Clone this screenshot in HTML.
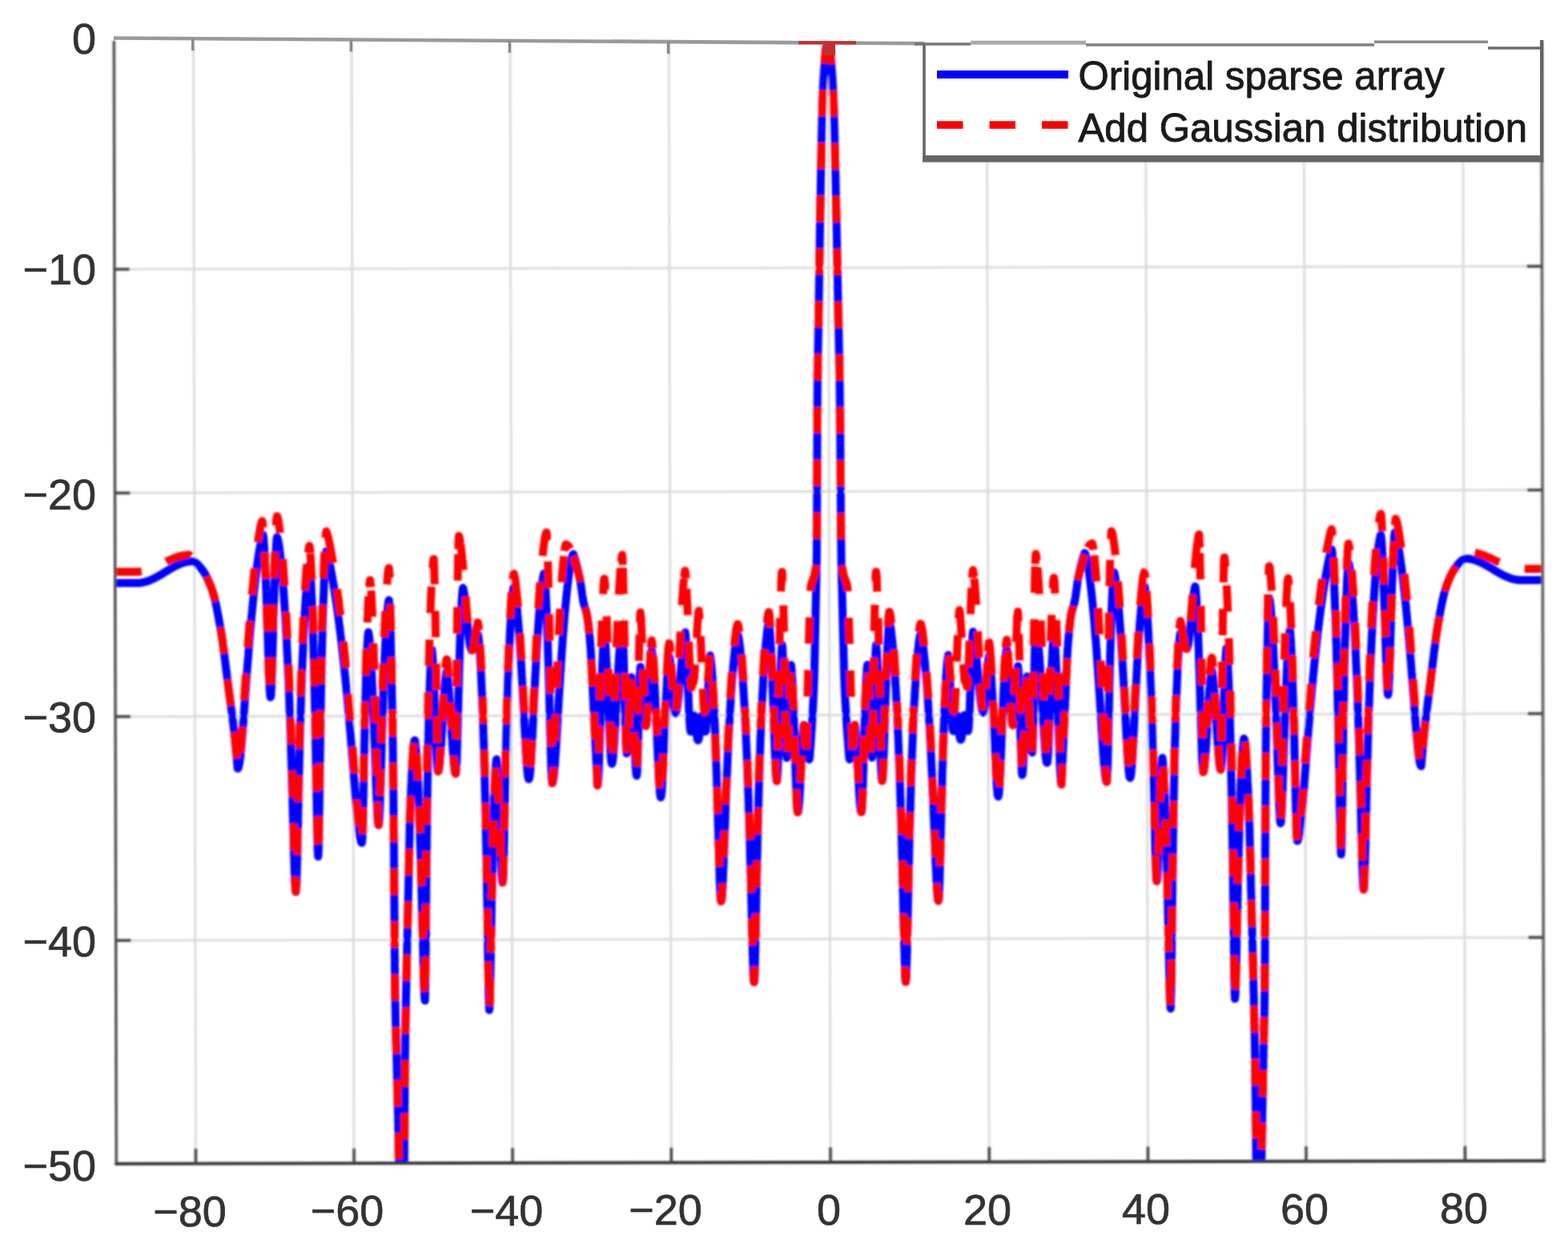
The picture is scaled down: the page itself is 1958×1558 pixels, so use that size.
<!DOCTYPE html>
<html lang="en"><head><meta charset="utf-8"><title>Array pattern</title>
<style>html,body{margin:0;padding:0;background:#fff}svg{display:block}</style></head>
<body>
<svg width="1958" height="1558" viewBox="0 0 1958 1558">
<rect width="1958" height="1558" fill="#fff"/>
<defs><filter id="soft" x="-0.02" y="-0.02" width="1.04" height="1.04"><feGaussianBlur stdDeviation="0.9"/></filter><clipPath id="cp"><rect x="143.8" y="52.0" width="1782.6" height="1399.0"/></clipPath></defs>
<g transform="rotate(-0.12 1035 750)" filter="url(#soft)">
<g stroke="#dcdcdc" stroke-width="3" fill="none">
<line x1="243.0" y1="53.0" x2="243.0" y2="1451.0"/>
<line x1="440.6" y1="53.0" x2="440.6" y2="1451.0"/>
<line x1="638.6" y1="53.0" x2="638.6" y2="1451.0"/>
<line x1="836.8" y1="53.0" x2="836.8" y2="1451.0"/>
<line x1="1035.6" y1="53.0" x2="1035.6" y2="1451.0"/>
<line x1="1233.8" y1="53.0" x2="1233.8" y2="1451.0"/>
<line x1="1432.0" y1="53.0" x2="1432.0" y2="1451.0"/>
<line x1="1629.6" y1="53.0" x2="1629.6" y2="1451.0"/>
<line x1="1828.0" y1="53.0" x2="1828.0" y2="1451.0"/>
<line x1="143.8" y1="334.3" x2="1926.4" y2="334.3"/>
<line x1="143.8" y1="613.6" x2="1926.4" y2="613.6"/>
<line x1="143.8" y1="892.7" x2="1926.4" y2="892.7"/>
<line x1="143.8" y1="1172.2" x2="1926.4" y2="1172.2"/>
</g>
<g clip-path="url(#cp)" fill="none" stroke-linejoin="round">
<path d="M144.0,726.0L145.0,726.0L145.9,726.0L146.9,726.0L147.9,726.0L148.9,726.0L149.8,726.0L150.8,726.0L151.8,726.0L152.7,726.0L153.7,726.0L154.7,726.0L155.7,726.0L156.6,726.0L157.6,726.0L158.6,726.0L159.5,726.0L160.5,726.0L161.5,726.0L162.4,726.0L163.4,726.0L164.4,726.0L165.4,726.0L166.3,726.0L167.3,726.0L168.3,726.0L169.2,726.0L170.2,726.0L171.2,726.0L172.2,726.0L173.1,725.9L174.1,725.9L175.1,725.8L176.0,725.7L177.0,725.5L178.0,725.4L179.0,725.2L179.9,725.0L180.9,724.7L181.9,724.5L182.8,724.2L183.8,723.9L184.8,723.6L185.8,723.2L186.7,722.8L187.7,722.5L188.7,722.0L189.6,721.6L190.6,721.2L191.6,720.7L192.5,720.2L193.5,719.8L194.5,719.2L195.5,718.7L196.4,718.2L197.4,717.7L198.4,717.1L199.3,716.6L200.3,716.0L201.3,715.4L202.3,714.8L203.2,714.3L204.2,713.7L205.2,713.1L206.1,712.5L207.1,711.9L208.1,711.3L209.1,710.7L210.0,710.2L211.0,709.6L212.0,709.0L212.9,708.4L213.9,707.9L214.9,707.3L215.9,706.8L216.8,706.3L217.8,705.8L218.8,705.2L219.7,704.8L220.7,704.3L221.7,703.8L222.7,703.4L223.6,703.0L224.6,702.5L225.6,702.2L226.5,701.8L227.5,701.4L228.5,701.1L229.4,700.8L230.4,700.5L231.4,700.3L232.4,700.0L233.3,699.8L234.3,699.6L235.3,699.5L236.2,699.3L237.2,699.2L238.2,699.1L239.2,699.1L240.1,699.0L241.1,699.0L241.3,699.1L241.4,699.1L241.6,699.2L241.8,699.3L241.9,699.3L242.1,699.4L242.3,699.5L242.4,699.6L242.6,699.7L242.8,699.8L242.9,699.9L243.1,700.0L243.3,700.1L243.4,700.2L243.6,700.3L243.8,700.4L243.9,700.5L244.1,700.6L244.3,700.7L244.4,700.9L244.6,701.0L244.8,701.1L244.9,701.2L245.1,701.4L245.3,701.5L245.4,701.7L245.6,701.8L245.8,701.9L245.9,702.1L246.1,702.2L246.3,702.4L246.4,702.6L246.6,702.7L246.8,702.9L246.9,703.0L247.1,703.2L247.3,703.4L247.4,703.5L247.6,703.7L247.8,703.9L247.9,704.1L248.1,704.2L248.3,704.4L248.4,704.6L248.6,704.8L248.8,705.0L248.9,705.2L249.1,705.4L249.3,705.5L249.4,705.7L249.6,705.9L249.8,706.1L249.9,706.3L250.1,706.5L250.3,706.7L250.4,706.9L250.6,707.1L250.8,707.3L250.9,707.6L251.1,707.8L251.3,708.0L251.4,708.2L251.6,708.4L251.8,708.6L251.9,708.8L252.1,709.0L252.3,709.3L252.4,709.5L252.6,709.7L252.8,709.9L252.9,710.1L253.1,710.3L253.3,710.6L253.4,710.8L253.6,711.0L253.8,711.2L253.9,711.5L254.1,711.7L254.3,711.9L254.4,712.2L254.6,712.4L254.8,712.7L254.9,712.9L255.1,713.2L255.3,713.4L255.4,713.7L255.6,714.0L255.8,714.2L255.9,714.5L256.1,714.8L256.3,715.1L256.4,715.3L256.6,715.6L256.8,715.9L256.9,716.2L257.1,716.5L257.3,716.8L257.4,717.1L257.6,717.4L257.8,717.8L257.9,718.1L258.1,718.4L258.3,718.7L258.4,719.1L258.6,719.4L258.8,719.7L258.9,720.1L259.1,720.4L259.3,720.8L259.4,721.1L259.6,721.5L259.8,721.9L259.9,722.2L260.1,722.6L260.3,723.0L260.4,723.3L260.6,723.7L260.8,724.1L260.9,724.5L261.1,724.9L261.3,725.3L261.4,725.7L261.6,726.1L261.8,726.5L261.9,726.9L262.1,727.3L262.3,727.8L262.4,728.2L262.6,728.6L262.8,729.1L262.9,729.5L263.1,729.9L263.3,730.4L263.4,730.8L263.6,731.3L263.8,731.7L263.9,732.2L264.1,732.7L264.3,733.1L264.4,733.6L264.6,734.1L264.8,734.6L264.9,735.1L265.1,735.6L265.3,736.0L265.4,736.5L265.6,737.0L265.8,737.6L265.9,738.1L266.1,738.6L266.3,739.2L266.4,739.7L266.6,740.3L266.8,740.9L266.9,741.5L267.1,742.1L267.3,742.7L267.4,743.4L267.6,744.0L267.8,744.7L267.9,745.4L268.1,746.1L268.3,746.7L268.4,747.5L268.6,748.2L268.8,748.9L269.0,749.6L269.1,750.4L269.3,751.1L269.5,751.9L269.6,752.7L269.8,753.5L270.0,754.2L270.1,755.0L270.3,755.9L270.5,756.7L270.6,757.5L270.8,758.3L271.0,759.2L271.1,760.0L271.3,760.9L271.5,761.7L271.6,762.6L271.8,763.5L272.0,764.4L272.1,765.3L272.3,766.2L272.5,767.1L272.6,768.0L272.8,768.9L273.0,769.8L273.1,770.7L273.3,771.7L273.5,772.6L273.6,773.5L273.8,774.5L274.0,775.4L274.1,776.4L274.3,777.3L274.5,778.3L274.6,779.3L274.8,780.2L275.0,781.2L275.1,782.2L275.3,783.2L275.5,784.1L275.6,785.1L275.8,786.1L276.0,787.1L276.1,788.2L276.3,789.2L276.5,790.3L276.6,791.4L276.8,792.5L277.0,793.6L277.1,794.7L277.3,795.8L277.5,797.0L277.6,798.2L277.8,799.3L278.0,800.5L278.1,801.7L278.3,803.0L278.5,804.2L278.6,805.4L278.8,806.7L279.0,807.9L279.1,809.2L279.3,810.5L279.5,811.8L279.6,813.1L279.8,814.4L280.0,815.7L280.1,817.0L280.3,818.3L280.5,819.7L280.6,821.0L280.8,822.4L281.0,823.7L281.1,825.1L281.3,826.4L281.5,827.8L281.6,829.1L281.8,830.5L282.0,831.8L282.1,833.2L282.3,834.6L282.5,835.9L282.6,837.3L282.8,838.7L283.0,840.0L283.1,841.4L283.3,842.7L283.5,844.1L283.6,845.5L283.8,846.8L284.0,848.1L284.1,849.5L284.3,850.8L284.5,852.2L284.6,853.5L284.8,854.8L285.0,856.1L285.1,857.4L285.3,858.7L285.5,860.0L285.6,861.3L285.8,862.6L286.0,863.8L286.1,865.1L286.3,866.4L286.5,867.6L286.6,868.9L286.8,870.1L287.0,871.4L287.1,872.6L287.3,873.9L287.5,875.1L287.6,876.4L287.8,877.6L288.0,878.9L288.1,880.1L288.3,881.4L288.5,882.6L288.6,883.9L288.8,885.2L289.0,886.4L289.1,887.7L289.3,889.0L289.5,890.3L289.6,891.6L289.8,892.9L290.0,894.3L290.1,895.6L290.3,896.9L290.5,898.3L290.6,899.7L290.8,901.0L291.0,902.4L291.1,903.8L291.3,905.3L291.5,906.7L291.6,908.2L291.8,909.6L292.0,911.1L292.1,912.6L292.3,914.2L292.5,915.7L292.6,917.3L292.8,918.9L293.0,920.5L293.1,922.2L293.3,923.9L293.5,925.6L293.6,927.3L293.8,929.1L294.0,930.9L294.1,932.7L294.3,934.6L294.5,936.4L294.6,938.3L294.8,940.2L295.0,942.1L295.1,944.1L295.3,946.0L295.5,948.0L295.6,950.0L295.8,952.0L296.0,954.0L296.1,956.0L296.3,958.0L296.6,957.8L297.0,957.4L297.3,956.6L297.6,955.6L298.0,954.2L298.3,952.6L298.7,950.6L299.0,948.4L299.3,946.0L299.7,943.3L300.0,940.4L300.3,937.3L300.7,933.9L301.0,930.4L301.3,926.8L301.7,923.0L302.0,919.0L302.4,915.0L302.7,910.8L303.0,906.6L303.4,902.3L303.7,897.9L304.0,893.5L304.4,889.0L304.7,884.5L305.0,880.0L305.4,875.5L305.7,870.9L306.1,866.4L306.4,861.9L306.7,857.4L307.1,852.9L307.4,848.4L307.7,844.0L308.1,839.6L308.4,835.2L308.7,830.9L309.1,826.5L309.4,822.3L309.8,818.1L310.1,813.9L310.4,809.8L310.8,805.7L311.1,801.6L311.4,797.7L311.8,793.7L312.1,789.8L312.4,786.0L312.8,782.2L313.1,778.5L313.5,774.8L313.8,771.2L314.1,767.6L314.5,764.0L314.8,760.6L315.1,757.1L315.5,753.8L315.8,750.4L316.2,747.2L316.5,743.9L316.8,740.8L317.2,737.7L317.5,734.6L317.8,731.6L318.2,728.6L318.5,725.7L318.8,722.9L319.2,720.0L319.5,717.3L319.9,714.6L320.2,711.9L320.5,709.3L320.9,706.8L321.2,704.3L321.5,701.9L321.9,699.5L322.2,697.1L322.5,694.9L322.9,692.6L323.2,690.5L323.6,688.4L323.9,686.3L324.2,684.3L324.6,682.4L324.9,680.5L325.2,678.8L325.6,677.0L325.9,675.4L326.2,673.8L326.6,672.3L326.9,670.9L327.3,669.6L327.6,668.5L327.9,667.4L328.3,666.5L328.6,666.0L328.9,667.7L329.3,670.9L329.6,675.1L329.9,680.0L330.3,685.7L330.6,691.9L330.9,698.8L331.3,706.3L331.6,714.3L331.9,722.8L332.3,731.9L332.6,741.4L332.9,751.3L333.3,761.6L333.6,772.2L333.9,783.0L334.3,794.1L334.6,805.1L334.9,816.0L335.3,826.5L335.6,836.5L335.9,845.6L336.3,853.6L336.6,860.1L336.9,865.0L337.3,868.0L337.6,869.0L337.9,867.9L338.3,864.5L338.6,859.0L339.0,851.7L339.3,842.8L339.6,832.7L340.0,821.9L340.3,810.5L340.7,798.8L341.0,787.1L341.3,775.5L341.7,764.1L342.0,753.2L342.4,742.6L342.7,732.5L343.0,723.0L343.4,714.1L343.7,705.7L344.1,698.0L344.4,691.0L344.7,684.6L345.1,679.1L345.4,674.5L345.8,670.9L346.1,669.0L346.4,669.5L346.8,670.5L347.1,671.8L347.4,673.3L347.8,675.0L348.1,676.9L348.5,679.0L348.8,681.2L349.1,683.6L349.5,686.2L349.8,688.9L350.1,691.8L350.5,694.8L350.8,697.9L351.1,701.2L351.5,704.7L351.8,708.2L352.1,712.0L352.5,715.8L352.8,719.8L353.2,724.0L353.5,728.3L353.8,732.7L354.2,737.4L354.5,742.1L354.8,747.0L355.2,752.1L355.5,757.4L355.8,762.8L356.2,768.4L356.5,774.2L356.8,780.2L357.2,786.4L357.5,792.8L357.9,799.4L358.2,806.2L358.5,813.2L358.9,820.5L359.2,828.0L359.5,835.8L359.9,843.8L360.2,852.1L360.5,860.7L360.9,869.6L361.2,878.8L361.5,888.4L361.9,898.3L362.2,908.5L362.6,919.1L362.9,930.1L363.2,941.4L363.6,953.1L363.9,965.2L364.2,977.7L364.6,990.4L364.9,1003.5L365.2,1016.7L365.6,1030.1L365.9,1043.4L366.2,1056.5L366.6,1069.0L366.9,1080.7L367.3,1091.1L367.6,1099.8L367.9,1106.5L368.3,1110.6L368.6,1112.0L368.9,1110.4L369.3,1105.7L369.6,1098.2L369.9,1088.3L370.3,1076.7L370.6,1063.8L370.9,1050.0L371.3,1035.9L371.6,1021.6L371.9,1007.3L372.3,993.3L372.6,979.6L372.9,966.2L373.3,953.3L373.6,940.8L373.9,928.8L374.3,917.1L374.6,906.0L374.9,895.2L375.3,884.9L375.6,874.9L375.9,865.4L376.3,856.2L376.6,847.3L376.9,838.8L377.3,830.6L377.6,822.7L377.9,815.2L378.3,807.9L378.6,800.8L378.9,794.1L379.3,787.6L379.6,781.3L379.9,775.3L380.3,769.6L380.6,764.1L380.9,758.8L381.3,753.7L381.6,748.8L381.9,744.2L382.3,739.7L382.6,735.5L382.9,731.5L383.3,727.7L383.6,724.2L383.9,720.8L384.3,717.7L384.6,714.9L384.9,712.2L385.3,709.9L385.6,707.8L385.9,706.1L386.3,704.7L386.6,704.0L386.9,705.7L387.3,708.9L387.6,713.1L387.9,718.1L388.3,723.8L388.6,730.3L388.9,737.4L389.3,745.2L389.6,753.7L389.9,762.8L390.3,772.7L390.6,783.3L390.9,794.6L391.3,806.7L391.6,819.6L391.9,833.4L392.3,848.1L392.6,863.8L392.9,880.4L393.3,898.1L393.6,916.8L393.9,936.5L394.3,957.0L394.6,978.2L394.9,999.5L395.3,1020.2L395.6,1039.0L395.9,1054.3L396.3,1064.5L396.6,1068.0L396.9,1064.6L397.3,1054.9L397.6,1040.1L397.9,1021.9L398.3,1001.9L398.6,981.1L398.9,960.3L399.3,940.0L399.6,920.6L399.9,902.0L400.3,884.4L400.6,867.8L400.9,852.1L401.3,837.3L401.6,823.3L401.9,810.2L402.3,797.9L402.6,786.2L402.9,775.3L403.3,765.0L403.6,755.4L403.9,746.4L404.3,737.9L404.6,730.1L404.9,722.8L405.3,716.0L405.6,709.9L405.9,704.3L406.3,699.3L406.6,694.9L406.9,691.3L407.3,688.5L407.6,687.0L407.9,687.7L408.3,688.6L408.6,689.6L408.9,690.8L409.3,692.0L409.6,693.3L409.9,694.6L410.3,696.0L410.6,697.4L410.9,698.9L411.3,700.4L411.6,702.0L411.9,703.6L412.3,705.2L412.6,706.8L412.9,708.5L413.3,710.3L413.6,712.0L413.9,713.8L414.3,715.7L414.6,717.5L414.9,719.4L415.3,721.3L415.6,723.3L415.9,725.2L416.3,727.2L416.6,729.3L416.9,731.3L417.3,733.4L417.6,735.5L417.9,737.7L418.3,739.9L418.6,742.1L418.9,744.3L419.3,746.6L419.6,748.8L419.9,751.2L420.3,753.5L420.6,755.9L420.9,758.3L421.3,760.7L421.6,763.2L421.9,765.7L422.3,768.2L422.6,770.7L422.9,773.3L423.3,775.9L423.6,778.5L423.9,781.2L424.3,783.9L424.6,786.6L424.9,789.4L425.3,792.2L425.6,795.0L425.9,797.9L426.3,800.7L426.6,803.7L426.9,806.6L427.3,809.6L427.6,812.6L427.9,815.7L428.3,818.7L428.6,821.9L428.9,825.0L429.3,828.2L429.6,831.4L430.0,834.7L430.3,838.0L430.6,841.3L431.0,844.7L431.3,848.1L431.6,851.5L432.0,855.0L432.3,858.5L432.6,862.0L433.0,865.6L433.3,869.2L433.6,872.9L434.0,876.5L434.3,880.3L434.6,884.0L435.0,887.8L435.3,891.7L435.6,895.5L436.0,899.4L436.3,903.4L436.6,907.3L437.0,911.3L437.3,915.4L437.6,919.4L438.0,923.5L438.3,927.6L438.6,931.7L439.0,935.9L439.3,940.1L439.6,944.3L440.0,948.5L440.3,952.7L440.6,956.9L441.0,961.2L441.3,965.4L441.6,969.6L442.0,973.9L442.3,978.1L442.6,982.2L443.0,986.4L443.3,990.5L443.6,994.5L444.0,998.5L444.3,1002.5L444.6,1006.3L445.0,1010.1L445.3,1013.8L445.6,1017.4L446.0,1020.9L446.3,1024.2L446.6,1027.4L447.0,1030.4L447.3,1033.3L447.6,1036.0L448.0,1038.5L448.3,1040.8L448.6,1042.9L449.0,1044.8L449.3,1046.4L449.6,1047.8L450.0,1048.9L450.3,1049.8L450.6,1050.5L451.0,1050.9L451.3,1051.0L451.6,1048.9L452.0,1042.8L452.3,1033.2L452.7,1020.7L453.0,1006.4L453.4,990.8L453.7,974.7L454.1,958.5L454.4,942.6L454.7,927.1L455.1,912.2L455.4,897.9L455.8,884.5L456.1,871.8L456.5,859.9L456.8,848.8L457.1,838.4L457.5,828.9L457.8,820.2L458.2,812.3L458.5,805.3L458.9,799.1L459.2,794.0L459.6,790.1L459.9,788.0L460.2,789.2L460.6,791.4L460.9,794.3L461.3,797.7L461.6,801.5L461.9,805.9L462.3,810.6L462.6,815.8L462.9,821.3L463.3,827.2L463.6,833.4L464.0,840.1L464.3,847.0L464.6,854.4L465.0,862.0L465.3,870.0L465.7,878.4L466.0,887.0L466.3,896.0L466.7,905.2L467.0,914.7L467.4,924.5L467.7,934.4L468.0,944.4L468.4,954.6L468.7,964.6L469.0,974.6L469.4,984.2L469.7,993.4L470.1,1001.9L470.4,1009.6L470.7,1016.3L471.1,1021.7L471.4,1025.7L471.8,1028.2L472.1,1029.0L472.4,1028.0L472.8,1025.2L473.1,1020.5L473.4,1014.2L473.8,1006.6L474.1,997.8L474.5,988.1L474.8,977.8L475.1,967.1L475.5,956.2L475.8,945.1L476.1,934.1L476.5,923.2L476.8,912.5L477.2,902.0L477.5,891.8L477.8,881.9L478.2,872.3L478.5,863.0L478.8,854.0L479.2,845.4L479.5,837.2L479.9,829.2L480.2,821.6L480.5,814.4L480.9,807.4L481.2,800.8L481.5,794.6L481.9,788.6L482.2,783.0L482.6,777.7L482.9,772.8L483.2,768.2L483.6,763.9L483.9,760.1L484.2,756.6L484.6,753.6L484.9,751.0L485.3,749.1L485.6,748.0L485.8,748.3L485.9,749.3L486.1,750.9L486.3,753.0L486.4,755.8L486.6,759.1L486.8,762.9L486.9,767.2L487.1,772.0L487.3,777.3L487.4,783.0L487.6,789.2L487.8,795.7L487.9,802.7L488.1,809.9L488.3,817.6L488.4,825.5L488.6,833.8L488.8,842.3L488.9,851.1L489.1,860.1L489.3,869.3L489.4,878.7L489.6,888.3L489.8,898.0L489.9,908.8L490.1,922.2L490.3,937.8L490.4,955.4L490.6,974.5L490.8,994.7L490.9,1015.7L491.1,1037.0L491.3,1061.5L491.4,1090.9L491.6,1122.7L491.8,1154.7L491.9,1184.7L492.1,1210.3L492.3,1229.2L492.4,1241.8L492.6,1252.7L492.8,1262.2L492.9,1270.6L493.1,1278.2L493.3,1285.2L493.4,1291.8L493.6,1298.3L493.8,1305.1L493.9,1312.2L494.1,1320.0L494.3,1328.1L494.4,1335.9L494.6,1343.5L494.8,1351.0L494.9,1358.4L495.1,1365.8L495.3,1373.3L495.4,1380.8L495.6,1388.6L495.8,1396.5L495.9,1404.8L496.1,1413.4L496.3,1422.5L496.4,1432.0L496.6,1442.1L496.8,1452.8L496.9,1464.2L497.1,1475.0L497.3,1475.0L497.4,1475.0L497.6,1475.0L497.8,1475.0L497.9,1475.0L498.1,1475.0L498.3,1475.0L498.4,1475.0L498.6,1475.0L498.8,1475.0L498.9,1475.0L499.1,1475.0L499.3,1475.0L499.4,1475.0L499.6,1475.0L499.8,1475.0L499.9,1475.0L500.1,1475.0L500.3,1475.0L500.4,1475.0L500.6,1475.0L500.8,1475.0L500.9,1475.0L501.1,1475.0L501.3,1475.0L501.4,1475.0L501.6,1475.0L501.8,1475.0L501.9,1475.0L502.1,1475.0L502.3,1475.0L502.4,1475.0L502.6,1475.0L502.8,1475.0L502.9,1475.0L503.1,1475.0L503.3,1458.5L503.4,1440.6L503.6,1421.8L503.8,1402.7L503.9,1383.8L504.1,1365.5L504.3,1348.5L504.4,1333.1L504.6,1320.0L504.8,1308.7L504.9,1298.3L505.1,1288.8L505.3,1279.8L505.4,1271.4L505.6,1263.4L505.8,1255.6L505.9,1247.8L506.1,1240.0L506.3,1232.2L506.4,1224.6L506.6,1217.1L506.8,1209.8L506.9,1202.7L507.1,1195.6L507.3,1188.7L507.4,1181.9L507.6,1175.1L507.8,1168.4L507.9,1161.7L508.1,1155.0L508.3,1148.4L508.4,1141.7L508.6,1135.0L508.8,1128.2L508.9,1121.2L509.1,1114.0L509.3,1106.7L509.4,1099.4L509.6,1092.0L509.8,1084.6L509.9,1077.2L510.1,1069.9L510.3,1062.7L510.4,1055.7L510.6,1048.8L510.8,1042.0L510.9,1035.6L511.1,1029.4L511.3,1023.5L511.4,1018.0L511.6,1012.8L511.8,1008.1L511.9,1003.8L512.1,1000.0L512.3,996.5L512.4,992.9L512.6,989.4L512.8,985.9L512.9,982.5L513.1,979.0L513.3,975.7L513.4,972.3L513.6,969.1L513.8,965.8L513.9,962.7L514.1,959.6L514.3,956.6L514.4,953.7L514.6,950.9L514.8,948.2L514.9,945.6L515.1,943.1L515.3,940.7L515.4,938.4L515.6,936.3L515.8,934.3L515.9,932.4L516.1,930.7L516.3,929.2L516.4,927.8L516.6,926.5L516.8,925.5L516.9,924.6L517.1,923.9L517.3,923.4L517.4,923.1L517.6,923.0L517.9,924.3L518.3,926.7L518.6,929.8L518.9,933.5L519.3,937.7L519.6,942.4L519.9,947.6L520.3,953.3L520.6,959.4L520.9,965.9L521.3,972.9L521.6,980.3L521.9,988.2L522.3,996.6L522.6,1005.4L522.9,1014.7L523.3,1024.5L523.6,1034.8L523.9,1045.7L524.3,1057.0L524.6,1068.9L524.9,1081.4L525.3,1094.4L525.6,1107.9L525.9,1121.9L526.3,1136.4L526.6,1151.2L526.9,1166.1L527.3,1181.1L527.6,1195.7L527.9,1209.5L528.3,1222.1L528.6,1232.8L528.9,1241.1L529.3,1246.2L529.6,1248.0L529.9,1240.5L530.3,1220.1L530.6,1192.1L531.0,1161.1L531.3,1130.1L531.6,1100.5L532.0,1072.8L532.3,1047.2L532.7,1023.6L533.0,1001.8L533.3,981.8L533.7,963.3L534.0,946.2L534.3,930.3L534.7,915.7L535.0,902.1L535.4,889.5L535.7,877.9L536.0,867.2L536.4,857.3L536.7,848.3L537.1,840.1L537.4,832.6L537.7,826.1L538.1,820.4L538.4,815.6L538.8,812.0L539.1,810.0L539.4,812.1L539.8,815.9L540.1,820.8L540.5,826.6L540.8,833.3L541.1,840.6L541.5,848.6L541.8,857.1L542.2,866.1L542.5,875.5L542.8,885.2L543.2,895.0L543.5,905.0L543.9,914.8L544.2,924.2L544.6,933.2L544.9,941.3L545.2,948.4L545.6,954.2L545.9,958.5L546.3,961.1L546.6,962.0L546.9,961.7L547.3,960.9L547.6,959.5L547.9,957.5L548.3,955.0L548.6,952.1L548.9,948.6L549.3,944.8L549.6,940.6L549.9,936.0L550.3,931.2L550.6,926.2L550.9,921.0L551.3,915.7L551.6,910.3L551.9,904.9L552.3,899.5L552.6,894.1L552.9,888.8L553.3,883.6L553.6,878.5L553.9,873.5L554.3,868.8L554.6,864.2L554.9,859.8L555.3,855.7L555.6,851.9L555.9,848.3L556.3,845.1L556.6,842.3L556.9,839.9L557.3,838.0L557.6,837.0L557.9,838.0L558.3,839.9L558.6,842.3L558.9,845.2L559.3,848.5L559.6,852.1L559.9,856.0L560.3,860.2L560.6,864.6L560.9,869.3L561.3,874.1L561.6,879.2L561.9,884.4L562.3,889.7L562.6,895.1L562.9,900.6L563.3,906.2L563.6,911.7L563.9,917.2L564.3,922.7L564.6,928.0L564.9,933.2L565.3,938.1L565.6,942.8L565.9,947.2L566.3,951.1L566.6,954.7L566.9,957.8L567.3,960.3L567.6,962.4L567.9,963.8L568.3,964.7L568.6,965.0L568.9,963.8L569.3,960.1L569.6,954.1L570.0,946.2L570.3,936.6L570.6,925.9L571.0,914.2L571.3,902.1L571.7,889.7L572.0,877.3L572.3,865.1L572.7,853.1L573.0,841.4L573.3,830.1L573.7,819.4L574.0,809.1L574.4,799.3L574.7,790.1L575.0,781.4L575.4,773.3L575.7,765.8L576.1,758.9L576.4,752.6L576.7,747.0L577.1,742.0L577.4,737.9L577.8,734.7L578.1,733.0L578.4,733.7L578.8,735.1L579.1,736.9L579.4,738.9L579.8,741.2L580.1,743.8L580.4,746.5L580.8,749.4L581.1,752.4L581.4,755.6L581.8,758.8L582.1,762.1L582.4,765.5L582.8,768.9L583.1,772.3L583.4,775.7L583.8,779.1L584.1,782.4L584.4,785.6L584.8,788.8L585.1,791.8L585.4,794.6L585.8,797.3L586.1,799.8L586.4,802.1L586.8,804.1L587.1,805.9L587.4,807.5L587.8,808.7L588.1,809.7L588.4,810.4L588.8,810.9L589.1,811.0L589.4,810.9L589.8,810.7L590.1,810.4L590.5,810.0L590.8,809.4L591.1,808.7L591.5,807.9L591.8,806.9L592.2,805.9L592.5,804.8L592.8,803.5L593.2,802.3L593.5,801.0L593.9,799.6L594.2,798.2L594.6,796.9L594.9,795.6L595.2,794.4L595.6,793.2L595.9,792.2L596.3,791.4L596.6,791.0L596.9,792.2L597.3,794.4L597.6,797.3L598.0,800.8L598.3,804.7L598.6,809.1L599.0,814.0L599.3,819.3L599.7,825.0L600.0,831.1L600.4,837.7L600.7,844.7L601.0,852.2L601.4,860.1L601.7,868.4L602.1,877.3L602.4,886.7L602.7,896.6L603.1,907.1L603.4,918.3L603.8,930.0L604.1,942.5L604.4,955.7L604.8,969.8L605.1,984.7L605.5,1000.6L605.8,1017.5L606.1,1035.5L606.5,1054.8L606.8,1075.4L607.2,1097.3L607.5,1120.6L607.9,1145.1L608.2,1170.4L608.5,1195.9L608.9,1220.1L609.2,1240.7L609.6,1254.9L609.9,1260.0L610.2,1257.6L610.6,1250.5L610.9,1239.4L611.2,1225.3L611.6,1209.3L611.9,1192.1L612.2,1174.5L612.6,1157.0L612.9,1139.8L613.2,1123.1L613.6,1107.2L613.9,1092.0L614.2,1077.6L614.6,1064.0L614.9,1051.1L615.3,1039.0L615.6,1027.6L615.9,1016.9L616.3,1007.0L616.6,997.7L616.9,989.1L617.3,981.1L617.6,973.9L617.9,967.3L618.3,961.4L618.6,956.3L618.9,952.0L619.3,948.8L619.6,947.0L619.9,949.2L620.3,953.3L620.6,958.7L621.0,965.0L621.3,972.1L621.7,980.1L622.0,988.7L622.4,997.9L622.7,1007.6L623.1,1017.7L623.4,1028.1L623.8,1038.6L624.1,1049.1L624.5,1059.3L624.8,1069.0L625.2,1078.0L625.5,1085.8L625.9,1092.3L626.2,1097.1L626.6,1100.0L626.9,1101.0L627.2,1099.3L627.6,1094.2L627.9,1086.1L628.2,1075.6L628.6,1063.2L628.9,1049.6L629.2,1035.1L629.6,1020.3L629.9,1005.5L630.2,990.8L630.6,976.3L630.9,962.3L631.2,948.7L631.6,935.6L631.9,922.9L632.2,910.8L632.6,899.2L632.9,888.1L633.2,877.4L633.6,867.2L633.9,857.4L634.2,848.0L634.6,839.1L634.9,830.5L635.3,822.3L635.6,814.5L635.9,807.1L636.3,800.0L636.6,793.2L636.9,786.7L637.3,780.6L637.6,774.8L637.9,769.3L638.3,764.1L638.6,759.3L638.9,754.7L639.3,750.5L639.6,746.6L639.9,743.1L640.3,739.9L640.6,737.1L640.9,734.8L641.3,733.0L641.6,732.0L641.9,732.7L642.3,733.8L642.6,735.4L643.0,737.2L643.3,739.3L643.6,741.6L644.0,744.2L644.3,746.9L644.6,749.8L645.0,753.0L645.3,756.3L645.7,759.7L646.0,763.4L646.3,767.2L646.7,771.1L647.0,775.2L647.4,779.5L647.7,784.0L648.0,788.6L648.4,793.3L648.7,798.2L649.1,803.3L649.4,808.5L649.7,813.9L650.1,819.4L650.4,825.0L650.8,830.8L651.1,836.7L651.4,842.8L651.8,849.0L652.1,855.2L652.4,861.6L652.8,868.1L653.1,874.7L653.5,881.3L653.8,888.0L654.1,894.7L654.5,901.4L654.8,908.1L655.2,914.7L655.5,921.2L655.8,927.6L656.2,933.7L656.5,939.6L656.8,945.2L657.2,950.4L657.5,955.1L657.9,959.4L658.2,963.2L658.5,966.3L658.9,968.8L659.2,970.6L659.6,971.6L659.9,972.0L660.2,971.6L660.6,970.6L660.9,968.8L661.2,966.4L661.6,963.3L661.9,959.6L662.2,955.4L662.6,950.7L662.9,945.6L663.2,940.1L663.6,934.3L663.9,928.2L664.2,921.9L664.6,915.5L664.9,909.0L665.2,902.3L665.6,895.7L665.9,889.0L666.2,882.3L666.6,875.7L666.9,869.1L667.2,862.6L667.6,856.2L667.9,849.8L668.2,843.6L668.6,837.5L668.9,831.5L669.2,825.6L669.6,819.9L669.9,814.3L670.3,808.8L670.6,803.4L670.9,798.2L671.3,793.1L671.6,788.2L671.9,783.4L672.3,778.7L672.6,774.2L672.9,769.8L673.3,765.5L673.6,761.4L673.9,757.4L674.3,753.6L674.6,749.9L674.9,746.4L675.3,743.0L675.6,739.8L675.9,736.7L676.3,733.7L676.6,730.9L676.9,728.3L677.3,725.9L677.6,723.6L677.9,721.5L678.3,719.7L678.6,718.0L678.9,716.6L679.3,715.6L679.6,715.0L679.9,716.8L680.3,720.1L680.6,724.4L681.0,729.5L681.3,735.4L681.6,742.0L682.0,749.3L682.3,757.2L682.7,765.7L683.0,774.9L683.3,784.7L683.7,795.2L684.0,806.3L684.3,817.9L684.7,830.2L685.0,843.1L685.4,856.5L685.7,870.4L686.0,884.6L686.4,899.0L686.7,913.3L687.1,927.3L687.4,940.6L687.7,952.6L688.1,962.7L688.4,970.5L688.8,975.4L689.1,977.0L689.4,976.7L689.8,976.0L690.1,974.7L690.4,973.0L690.8,970.8L691.1,968.1L691.5,965.1L691.8,961.6L692.1,957.8L692.5,953.6L692.8,949.2L693.1,944.5L693.5,939.6L693.8,934.5L694.1,929.3L694.5,923.9L694.8,918.4L695.2,912.9L695.5,907.3L695.8,901.6L696.2,896.0L696.5,890.3L696.8,884.7L697.2,879.1L697.5,873.5L697.8,868.0L698.2,862.5L698.5,857.0L698.9,851.7L699.2,846.4L699.5,841.2L699.9,836.0L700.2,830.9L700.5,826.0L700.9,821.1L701.2,816.2L701.5,811.5L701.9,806.8L702.2,802.3L702.5,797.8L702.9,793.4L703.2,789.1L703.6,784.9L703.9,780.8L704.2,776.7L704.6,772.7L704.9,768.9L705.2,765.1L705.6,761.4L705.9,757.8L706.2,754.2L706.6,750.8L706.9,747.4L707.3,744.1L707.6,740.9L707.9,737.8L708.3,734.8L708.6,731.8L708.9,729.0L709.3,726.2L709.6,723.5L709.9,720.9L710.3,718.3L710.6,715.9L711.0,713.6L711.3,711.3L711.6,709.1L712.0,707.0L712.3,705.0L712.6,703.1L713.0,701.3L713.3,699.7L713.6,698.1L714.0,696.6L714.3,695.3L714.7,694.0L715.0,693.0L715.3,692.1L715.7,691.4L716.0,691.0L716.2,691.4L716.3,691.7L716.5,692.1L716.7,692.6L716.8,693.0L717.0,693.4L717.2,693.9L717.3,694.3L717.5,694.8L717.7,695.3L717.8,695.8L718.0,696.4L718.2,696.9L718.3,697.4L718.5,698.0L718.7,698.6L718.8,699.2L719.0,699.8L719.2,700.4L719.3,701.0L719.5,701.6L719.7,702.2L719.8,702.9L720.0,703.5L720.2,704.2L720.3,704.9L720.5,705.6L720.7,706.3L720.8,707.0L721.0,707.7L721.2,708.4L721.4,709.1L721.5,709.9L721.7,710.6L721.9,711.4L722.0,712.1L722.2,712.9L722.4,713.6L722.5,714.4L722.7,715.2L722.9,716.0L723.0,716.8L723.2,717.6L723.4,718.4L723.5,719.2L723.7,720.0L723.9,720.8L724.0,721.6L724.2,722.5L724.4,723.4L724.5,724.3L724.7,725.3L724.9,726.3L725.0,727.4L725.2,728.5L725.4,729.6L725.5,730.7L725.7,731.9L725.9,733.1L726.0,734.3L726.2,735.5L726.4,736.7L726.5,737.9L726.7,739.1L726.9,740.3L727.0,741.5L727.2,742.7L727.4,743.8L727.5,744.9L727.7,746.0L727.9,747.0L728.0,748.0L728.2,749.0L728.4,749.9L728.5,750.7L728.7,751.5L728.9,752.3L729.0,753.0L729.2,753.6L729.4,754.3L729.5,754.9L729.7,755.5L729.9,756.1L730.0,756.6L730.2,757.1L730.4,757.7L730.5,758.2L730.7,758.7L730.9,759.2L731.1,759.8L731.2,760.3L731.4,760.8L731.6,761.4L731.7,762.0L731.9,762.6L732.1,763.2L732.2,763.9L732.4,764.6L732.6,765.3L732.7,766.1L732.9,766.9L733.1,767.8L733.2,768.7L733.4,769.7L733.6,770.7L733.7,771.8L733.9,773.0L734.1,774.2L734.2,775.4L734.4,776.7L734.6,778.1L734.7,779.5L734.9,781.0L735.1,782.5L735.2,784.1L735.4,785.8L735.6,787.4L735.7,789.2L735.9,790.9L736.1,792.8L736.2,794.6L736.4,796.5L736.6,798.5L736.7,800.5L736.9,802.5L737.1,804.6L737.2,806.8L737.4,809.2L737.6,811.7L737.7,814.4L737.9,817.3L738.1,820.3L738.2,823.4L738.4,826.7L738.6,830.0L738.7,833.5L738.9,837.0L739.1,840.6L739.2,844.2L739.4,847.9L739.6,851.7L739.7,855.4L739.9,859.2L740.1,862.9L740.2,866.6L740.4,870.4L740.6,874.0L740.8,877.6L740.9,881.2L741.1,884.7L741.3,888.1L741.4,891.6L741.6,895.0L741.8,898.5L741.9,901.9L742.1,905.4L742.3,908.9L742.4,912.4L742.6,915.9L742.8,919.4L742.9,922.9L743.1,926.4L743.3,929.9L743.4,933.4L743.6,937.0L743.8,940.5L743.9,944.1L744.1,947.6L744.3,951.2L744.4,954.8L744.6,958.4L744.8,961.9L744.9,965.5L745.1,969.1L745.3,972.8L745.4,976.4L745.6,980.0L745.9,979.1L746.3,976.6L746.6,972.4L746.9,966.7L747.3,959.7L747.6,951.6L747.9,942.7L748.3,933.3L748.6,923.4L748.9,913.3L749.3,903.2L749.6,893.1L749.9,883.2L750.3,873.6L750.6,864.2L750.9,855.2L751.3,846.7L751.6,838.5L751.9,830.9L752.3,823.7L752.6,817.1L752.9,811.0L753.3,805.6L753.6,800.8L753.9,796.8L754.3,793.7L754.6,792.0L754.9,793.6L755.3,796.4L755.6,800.2L755.9,804.6L756.3,809.6L756.6,815.2L756.9,821.3L757.3,827.8L757.6,834.8L757.9,842.1L758.3,849.8L758.6,857.8L758.9,866.0L759.3,874.4L759.6,883.0L759.9,891.5L760.3,900.1L760.6,908.4L760.9,916.5L761.3,924.2L761.6,931.2L761.9,937.5L762.3,942.9L762.6,947.2L762.9,950.4L763.3,952.4L763.6,953.0L763.9,952.7L764.3,951.6L764.6,950.0L764.9,947.6L765.3,944.7L765.6,941.1L766.0,937.1L766.3,932.6L766.6,927.6L767.0,922.3L767.3,916.7L767.6,910.9L768.0,904.9L768.3,898.7L768.7,892.5L769.0,886.2L769.3,879.9L769.7,873.6L770.0,867.4L770.3,861.3L770.7,855.2L771.0,849.3L771.4,843.5L771.7,837.9L772.0,832.4L772.4,827.1L772.7,822.0L773.0,817.1L773.4,812.4L773.7,807.9L774.1,803.6L774.4,799.6L774.7,795.8L775.1,792.3L775.4,789.1L775.8,786.2L776.1,783.7L776.4,781.6L776.8,779.9L777.1,779.0L777.4,782.8L777.8,789.8L778.1,798.8L778.4,809.6L778.8,821.8L779.1,835.2L779.4,849.7L779.8,864.8L780.1,880.3L780.4,895.4L780.8,909.7L781.1,922.1L781.4,931.8L781.8,937.9L782.1,940.0L782.4,939.4L782.8,937.5L783.1,934.4L783.4,930.2L783.8,924.9L784.1,918.9L784.4,912.1L784.8,904.9L785.1,897.5L785.4,889.9L785.8,882.4L786.1,875.1L786.4,868.1L786.8,861.7L787.1,855.9L787.4,851.0L787.8,847.1L788.1,845.0L788.4,847.3L788.8,851.5L789.1,856.9L789.5,863.3L789.8,870.5L790.2,878.4L790.5,886.8L790.8,895.7L791.2,904.8L791.5,914.0L791.9,923.3L792.2,932.2L792.5,940.7L792.9,948.4L793.2,955.1L793.6,960.6L793.9,964.7L794.3,967.2L794.6,968.0L794.9,966.4L795.3,961.8L795.6,954.4L795.9,944.7L796.3,933.3L796.6,920.8L796.9,907.9L797.3,895.0L797.6,882.5L797.9,870.6L798.3,859.7L798.6,850.0L798.9,841.8L799.3,835.5L799.6,832.0L799.9,833.6L800.3,836.6L800.6,840.4L801.0,844.8L801.3,849.7L801.7,855.0L802.0,860.4L802.3,866.0L802.7,871.7L803.0,877.2L803.4,882.5L803.7,887.6L804.0,892.2L804.4,896.2L804.7,899.7L805.1,902.4L805.4,904.4L805.8,905.6L806.1,906.0L806.4,905.6L806.8,904.3L807.1,902.2L807.5,899.4L807.8,895.7L808.1,891.4L808.5,886.6L808.8,881.3L809.2,875.6L809.5,869.6L809.8,863.5L810.2,857.3L810.5,851.1L810.9,845.0L811.2,839.1L811.6,833.5L811.9,828.3L812.2,823.4L812.6,819.1L812.9,815.4L813.3,812.6L813.6,811.0L813.9,812.2L814.3,814.5L814.6,817.4L814.9,820.9L815.3,824.9L815.6,829.3L815.9,834.1L816.3,839.3L816.6,844.9L816.9,850.8L817.3,857.0L817.6,863.5L817.9,870.4L818.3,877.5L818.6,884.8L818.9,892.4L819.3,900.1L819.6,908.0L819.9,916.1L820.3,924.2L820.6,932.3L820.9,940.3L821.3,948.2L821.6,955.8L821.9,963.1L822.3,969.9L822.6,976.1L822.9,981.6L823.3,986.3L823.6,990.1L823.9,992.8L824.3,994.4L824.6,995.0L824.9,994.5L825.3,993.0L825.6,990.5L825.9,987.0L826.3,982.7L826.6,977.5L826.9,971.8L827.3,965.4L827.6,958.6L827.9,951.4L828.3,943.9L828.6,936.3L828.9,928.6L829.3,920.9L829.6,913.2L829.9,905.6L830.3,898.2L830.6,890.9L830.9,883.8L831.3,876.9L831.6,870.3L831.9,863.9L832.3,857.9L832.6,852.1L832.9,846.7L833.3,841.6L833.6,836.9L833.9,832.6L834.3,828.7L834.6,825.3L834.9,822.4L835.3,820.2L835.6,819.0L835.9,820.3L836.3,822.6L836.6,825.6L837.0,829.0L837.3,832.9L837.6,837.1L838.0,841.4L838.3,846.0L838.7,850.6L839.0,855.3L839.3,859.9L839.7,864.5L840.0,868.8L840.4,872.9L840.7,876.7L841.1,880.1L841.4,883.0L841.7,885.5L842.1,887.5L842.4,888.9L842.8,889.7L843.1,890.0L843.4,889.8L843.8,889.4L844.1,888.5L844.5,887.4L844.8,886.0L845.1,884.2L845.5,882.2L845.8,879.8L846.1,877.3L846.5,874.4L846.8,871.4L847.2,868.2L847.5,864.8L847.8,861.2L848.2,857.6L848.5,853.8L848.8,850.0L849.2,846.1L849.5,842.2L849.9,838.3L850.2,834.4L850.5,830.5L850.9,826.7L851.2,822.9L851.5,819.3L851.9,815.7L852.2,812.2L852.6,808.9L852.9,805.8L853.2,802.8L853.6,799.9L853.9,797.3L854.2,795.0L854.6,792.9L854.9,791.1L855.3,789.8L855.6,789.0L855.9,791.3L856.3,795.5L856.6,801.0L857.0,807.4L857.3,814.7L857.7,822.6L858.0,831.0L858.3,839.9L858.7,849.1L859.0,858.5L859.4,867.8L859.7,876.8L860.0,885.4L860.4,893.2L860.7,900.0L861.1,905.5L861.4,909.7L861.8,912.2L862.1,913.0L862.4,912.8L862.8,912.3L863.1,911.3L863.5,910.1L863.8,908.5L864.2,906.6L864.5,904.5L864.9,902.2L865.2,899.9L865.6,897.7L865.9,895.6L866.3,894.0L866.6,893.0L866.9,894.3L867.3,896.5L867.6,899.3L867.9,902.4L868.3,905.7L868.6,909.0L868.9,912.1L869.3,915.1L869.6,917.7L870.0,919.9L870.3,921.7L870.6,923.0L871.0,923.7L871.3,924.0L871.6,923.7L872.0,923.0L872.3,921.7L872.7,919.9L873.0,917.7L873.4,915.1L873.7,912.1L874.0,909.0L874.4,905.7L874.7,902.4L875.1,899.3L875.4,896.5L875.8,894.3L876.1,893.0L876.4,894.0L876.8,895.6L877.1,897.7L877.5,899.9L877.8,902.2L878.2,904.5L878.5,906.6L878.9,908.5L879.2,910.1L879.6,911.3L879.9,912.3L880.3,912.8L880.6,913.0L880.9,912.4L881.3,910.5L881.6,907.4L881.9,903.2L882.3,897.9L882.6,891.9L882.9,885.1L883.3,877.9L883.6,870.5L883.9,862.9L884.3,855.4L884.6,848.1L884.9,841.1L885.3,834.7L885.6,828.9L885.9,824.0L886.3,820.1L886.6,818.0L886.9,819.1L887.3,821.2L887.6,823.9L887.9,827.1L888.3,830.8L888.6,835.0L888.9,839.5L889.3,844.4L889.6,849.7L889.9,855.3L890.3,861.3L890.6,867.7L890.9,874.5L891.3,881.6L891.6,889.1L891.9,897.0L892.3,905.3L892.6,913.9L892.9,923.0L893.3,932.5L893.6,942.4L893.9,952.6L894.3,963.4L894.6,974.5L894.9,986.0L895.3,997.9L895.6,1010.1L895.9,1022.6L896.3,1035.3L896.6,1048.0L896.9,1060.7L897.3,1073.1L897.6,1085.0L897.9,1096.0L898.3,1105.7L898.6,1113.8L898.9,1119.9L899.3,1123.7L899.6,1125.0L899.9,1124.4L900.3,1122.6L900.6,1119.7L900.9,1115.7L901.3,1110.7L901.6,1104.8L902.0,1098.2L902.3,1091.0L902.6,1083.3L903.0,1075.2L903.3,1066.8L903.6,1058.2L904.0,1049.5L904.3,1040.8L904.6,1032.1L905.0,1023.4L905.3,1014.8L905.6,1006.3L906.0,997.9L906.3,989.7L906.7,981.6L907.0,973.7L907.3,966.0L907.7,958.5L908.0,951.1L908.3,943.9L908.7,937.0L909.0,930.2L909.3,923.5L909.7,917.1L910.0,910.8L910.3,904.7L910.7,898.8L911.0,893.0L911.4,887.4L911.7,882.0L912.0,876.7L912.4,871.6L912.7,866.6L913.0,861.8L913.4,857.1L913.7,852.6L914.0,848.2L914.4,844.0L914.7,839.9L915.1,836.0L915.4,832.2L915.7,828.6L916.1,825.1L916.4,821.7L916.7,818.5L917.1,815.4L917.4,812.5L917.7,809.7L918.1,807.0L918.4,804.6L918.7,802.3L919.1,800.1L919.4,798.2L919.8,796.4L920.1,794.9L920.4,793.6L920.8,792.5L921.1,792.0L921.4,792.7L921.8,793.9L922.1,795.4L922.4,797.3L922.8,799.4L923.1,801.8L923.5,804.4L923.8,807.2L924.1,810.2L924.5,813.4L924.8,816.8L925.1,820.4L925.5,824.2L925.8,828.2L926.1,832.3L926.5,836.7L926.8,841.2L927.2,846.0L927.5,850.9L927.8,856.0L928.2,861.4L928.5,866.9L928.8,872.7L929.2,878.7L929.5,884.9L929.8,891.3L930.2,898.0L930.5,904.9L930.8,912.1L931.2,919.6L931.5,927.4L931.9,935.4L932.2,943.8L932.5,952.4L932.9,961.4L933.2,970.8L933.5,980.5L933.9,990.7L934.2,1001.2L934.5,1012.1L934.9,1023.5L935.2,1035.3L935.6,1047.6L935.9,1060.4L936.2,1073.6L936.6,1087.3L936.9,1101.4L937.2,1115.9L937.6,1130.6L937.9,1145.5L938.2,1160.2L938.6,1174.6L938.9,1188.3L939.3,1200.6L939.6,1211.1L939.9,1219.2L940.3,1224.3L940.6,1226.0L940.9,1224.0L941.3,1218.3L941.6,1209.2L941.9,1197.5L942.3,1183.9L942.6,1169.1L943.0,1153.5L943.3,1137.7L943.6,1122.0L944.0,1106.4L944.3,1091.3L944.6,1076.6L945.0,1062.4L945.3,1048.7L945.6,1035.6L946.0,1023.0L946.3,1010.8L946.7,999.2L947.0,988.1L947.3,977.4L947.7,967.1L948.0,957.2L948.3,947.7L948.7,938.6L949.0,929.8L949.3,921.3L949.7,913.2L950.0,905.4L950.3,897.8L950.7,890.6L951.0,883.6L951.4,876.8L951.7,870.3L952.0,864.1L952.4,858.1L952.7,852.3L953.0,846.7L953.4,841.3L953.7,836.2L954.0,831.2L954.4,826.4L954.7,821.9L955.1,817.5L955.4,813.3L955.7,809.3L956.1,805.5L956.4,801.9L956.7,798.5L957.1,795.3L957.4,792.3L957.7,789.4L958.1,786.8L958.4,784.5L958.8,782.3L959.1,780.5L959.4,778.9L959.8,777.7L960.1,777.0L960.4,778.6L960.8,781.6L961.1,785.5L961.5,790.1L961.8,795.4L962.1,801.3L962.5,807.7L962.8,814.7L963.2,822.1L963.5,830.1L963.8,838.5L964.2,847.3L964.5,856.5L964.8,866.1L965.2,875.9L965.5,886.1L965.9,896.3L966.2,906.7L966.5,917.0L966.9,927.1L967.2,936.8L967.6,945.9L967.9,954.1L968.2,961.3L968.6,967.1L968.9,971.5L969.3,974.1L969.6,975.0L969.9,973.8L970.3,970.3L970.6,964.6L970.9,957.1L971.3,947.9L971.6,937.7L971.9,926.6L972.3,915.1L972.6,903.4L972.9,891.8L973.3,880.4L973.6,869.4L973.9,859.0L974.3,849.1L974.6,839.9L974.9,831.5L975.3,823.9L975.6,817.3L975.9,811.7L976.3,807.3L976.6,805.0L976.9,808.2L977.3,814.1L977.6,821.7L978.0,830.7L978.3,840.9L978.7,852.0L979.0,863.9L979.3,876.3L979.7,888.9L980.0,901.4L980.4,913.3L980.7,924.1L981.1,933.3L981.4,940.2L981.8,944.5L982.1,946.0L982.4,944.9L982.8,941.8L983.1,936.6L983.5,929.7L983.8,921.3L984.2,911.9L984.5,901.9L984.8,891.6L985.2,881.2L985.5,871.2L985.9,861.6L986.2,852.8L986.6,844.9L986.9,838.1L987.3,832.9L987.6,830.0L987.9,832.0L988.3,835.6L988.6,840.4L988.9,846.0L989.3,852.5L989.6,859.7L989.9,867.5L990.3,876.0L990.6,885.1L990.9,894.7L991.3,904.7L991.6,915.2L991.9,926.0L992.3,937.1L992.6,948.2L992.9,959.3L993.3,970.1L993.6,980.3L993.9,989.7L994.3,998.0L994.6,1004.8L994.9,1009.8L995.3,1013.0L995.6,1014.0L995.9,1013.6L996.3,1012.3L996.6,1010.1L996.9,1007.2L997.3,1003.5L997.6,999.1L997.9,994.1L998.3,988.6L998.6,982.7L998.9,976.5L999.3,970.1L999.6,963.6L999.9,957.1L1000.3,950.7L1000.6,944.4L1000.9,938.2L1001.3,932.4L1001.6,926.9L1001.9,921.7L1002.3,917.0L1002.6,912.8L1002.9,909.3L1003.3,906.5L1003.6,905.0L1003.9,906.1L1004.3,908.0L1004.6,910.4L1005.0,913.2L1005.3,916.3L1005.7,919.5L1006.0,922.8L1006.3,926.1L1006.7,929.4L1007.0,932.6L1007.4,935.6L1007.7,938.3L1008.0,940.8L1008.4,943.0L1008.7,944.8L1009.1,946.2L1009.4,947.2L1009.8,947.8L1010.1,948.0L1010.3,947.8L1010.4,947.0L1010.6,945.8L1010.8,944.2L1010.9,942.2L1011.1,940.0L1011.2,937.5L1011.4,935.0L1011.5,934.0L1011.6,933.0L1011.6,932.0L1011.7,931.0L1011.8,930.0L1011.9,929.0L1012.0,928.0L1012.0,927.0L1012.1,926.0L1012.2,925.0L1012.3,924.0L1012.3,923.0L1012.4,922.0L1012.5,921.0L1012.6,920.0L1012.6,919.0L1012.7,918.0L1012.8,917.0L1012.8,916.0L1012.9,915.0L1013.0,914.0L1013.1,913.0L1013.1,912.0L1013.2,911.0L1013.3,910.0L1013.3,909.0L1013.4,908.0L1013.5,907.0L1013.5,906.0L1013.6,905.0L1013.7,904.0L1013.7,903.0L1013.8,902.0L1013.8,901.0L1013.9,900.0L1014.0,899.0L1014.0,898.0L1014.1,897.0L1014.1,896.0L1014.2,895.0L1014.3,894.0L1014.3,893.0L1014.4,892.0L1014.4,891.0L1014.5,890.0L1014.5,889.0L1014.6,888.0L1014.7,887.0L1014.7,886.0L1014.8,885.0L1014.8,884.0L1014.9,883.0L1014.9,882.0L1015.0,881.0L1015.0,880.0L1015.1,879.0L1015.2,878.0L1015.2,877.0L1015.3,876.0L1015.3,875.0L1015.4,874.0L1015.4,873.0L1015.5,872.0L1015.5,871.0L1015.6,870.0L1015.6,869.0L1015.7,868.0L1015.7,867.0L1015.8,866.0L1015.8,865.0L1015.8,864.0L1015.9,863.0L1015.9,862.0L1016.0,861.0L1016.0,860.0L1016.1,859.0L1016.1,858.0L1016.1,857.0L1016.2,856.0L1016.2,855.0L1016.3,854.0L1016.3,853.0L1016.3,852.0L1016.4,851.0L1016.4,850.0L1016.4,849.0L1016.5,848.0L1016.5,847.0L1016.5,846.0L1016.6,845.0L1016.6,844.0L1016.6,843.0L1016.7,842.0L1016.7,841.0L1016.7,840.0L1016.7,839.0L1016.8,838.0L1016.8,837.0L1016.8,836.0L1016.9,835.0L1016.9,834.0L1016.9,833.0L1016.9,832.0L1017.0,831.0L1017.0,830.0L1017.0,829.0L1017.0,828.0L1017.1,827.0L1017.1,826.0L1017.1,825.0L1017.1,824.0L1017.2,823.0L1017.2,822.0L1017.2,821.0L1017.2,820.0L1017.2,819.0L1017.3,818.0L1017.3,817.0L1017.3,816.0L1017.3,815.0L1017.4,814.0L1017.4,813.0L1017.4,812.0L1017.4,811.0L1017.4,810.0L1017.5,809.0L1017.5,808.0L1017.5,807.0L1017.5,806.0L1017.6,805.0L1017.6,804.0L1017.6,803.0L1017.6,802.0L1017.6,801.0L1017.7,800.0L1017.7,799.0L1017.7,798.0L1017.7,797.0L1017.8,796.0L1017.8,795.0L1017.8,794.0L1017.8,793.0L1017.9,792.0L1017.9,791.0L1017.9,790.0L1017.9,789.0L1017.9,788.0L1018.0,787.0L1018.0,786.0L1018.0,785.0L1018.0,784.0L1018.1,783.0L1018.1,782.0L1018.1,781.0L1018.1,780.0L1018.2,779.0L1018.2,778.0L1018.2,777.0L1018.2,776.0L1018.2,775.0L1018.3,774.0L1018.3,773.0L1018.3,772.0L1018.3,771.0L1018.4,770.0L1018.4,769.0L1018.4,768.0L1018.4,767.0L1018.5,766.0L1018.5,765.0L1018.5,764.0L1018.5,763.0L1018.5,762.0L1018.6,761.0L1018.6,760.0L1018.6,759.0L1018.6,758.0L1018.7,757.0L1018.7,756.0L1018.7,755.0L1018.7,754.0L1018.7,753.0L1018.8,752.0L1018.8,751.0L1018.8,750.0L1018.8,749.0L1018.9,748.0L1018.9,747.0L1018.9,746.0L1018.9,745.0L1018.9,744.0L1019.0,743.0L1019.0,742.0L1019.0,741.0L1019.0,740.0L1019.1,739.0L1019.1,738.0L1019.1,737.0L1019.1,736.0L1019.2,735.0L1019.2,734.0L1019.2,733.0L1019.2,732.0L1019.3,731.0L1019.3,730.0L1019.3,729.0L1019.3,728.0L1019.4,727.0L1019.4,726.0L1019.4,725.0L1019.4,724.0L1019.5,723.0L1019.5,722.0L1019.5,721.0L1019.5,720.0L1019.6,719.0L1019.6,718.0L1019.6,717.0L1019.6,716.0L1019.6,715.0L1019.7,714.0L1019.7,713.0L1019.7,712.0L1019.7,711.0L1019.7,710.0L1019.8,709.0L1019.8,708.0L1019.8,707.0L1019.8,706.0L1019.8,705.0L1019.8,704.0L1019.9,703.0L1019.9,702.0L1019.9,701.0L1019.9,700.0L1019.9,699.0L1019.9,698.0L1019.9,697.0L1019.9,696.0L1020.0,695.0L1020.0,694.0L1020.0,693.0L1020.0,692.0L1020.0,691.0L1020.0,690.0L1020.0,689.0L1020.0,688.0L1020.0,687.0L1020.1,686.0L1020.1,685.0L1020.1,684.0L1020.1,683.0L1020.1,682.0L1020.1,681.0L1020.1,680.0L1020.1,679.0L1020.1,678.0L1020.1,677.0L1020.1,676.0L1020.2,675.0L1020.2,674.0L1020.2,673.0L1020.2,672.0L1020.2,671.0L1020.2,670.0L1020.2,669.0L1020.2,668.0L1020.2,667.0L1020.2,666.0L1020.2,665.0L1020.2,664.0L1020.2,663.0L1020.3,662.0L1020.3,661.0L1020.3,660.0L1020.3,659.0L1020.3,658.0L1020.3,657.0L1020.3,656.0L1020.3,655.0L1020.3,654.0L1020.3,653.0L1020.3,652.0L1020.3,651.0L1020.3,650.0L1020.3,649.0L1020.3,648.0L1020.4,647.0L1020.4,646.0L1020.4,645.0L1020.4,644.0L1020.4,643.0L1020.4,642.0L1020.4,641.0L1020.4,640.0L1020.4,639.0L1020.4,638.0L1020.4,637.0L1020.4,636.0L1020.4,635.0L1020.4,634.0L1020.4,633.0L1020.4,632.0L1020.5,631.0L1020.5,630.0L1020.5,629.0L1020.5,628.0L1020.5,627.0L1020.5,626.0L1020.5,625.0L1020.5,624.0L1020.5,623.0L1020.5,622.0L1020.5,621.0L1020.5,620.0L1020.5,619.0L1020.5,618.0L1020.5,617.0L1020.5,616.0L1020.6,615.0L1020.6,614.0L1020.6,613.0L1020.6,612.0L1020.6,611.0L1020.6,610.0L1020.6,609.0L1020.6,608.0L1020.6,607.0L1020.6,606.0L1020.6,605.0L1020.6,604.0L1020.6,603.0L1020.6,602.0L1020.6,601.0L1020.6,600.0L1020.6,599.0L1020.6,598.0L1020.6,597.0L1020.7,596.0L1020.7,595.0L1020.7,594.0L1020.7,593.0L1020.7,592.0L1020.7,591.0L1020.7,590.0L1020.7,589.0L1020.7,588.0L1020.7,587.0L1020.7,586.0L1020.7,585.0L1020.7,584.0L1020.7,583.0L1020.7,582.0L1020.7,581.0L1020.7,580.0L1020.7,579.0L1020.7,578.0L1020.7,577.0L1020.8,576.0L1020.8,575.0L1020.8,574.0L1020.8,573.0L1020.8,572.0L1020.8,571.0L1020.8,570.0L1020.8,569.0L1020.8,568.0L1020.8,567.0L1020.8,566.0L1020.8,565.0L1020.8,564.0L1020.8,563.0L1020.8,562.0L1020.8,561.0L1020.8,560.0L1020.8,559.0L1020.9,558.0L1020.9,557.0L1020.9,556.0L1020.9,555.0L1020.9,554.0L1020.9,553.0L1020.9,552.0L1020.9,551.0L1020.9,550.0L1020.9,549.0L1020.9,548.0L1020.9,547.0L1020.9,546.0L1020.9,545.0L1020.9,544.0L1020.9,543.0L1021.0,542.0L1021.0,541.0L1021.0,540.0L1021.0,539.0L1021.0,538.0L1021.0,537.0L1021.0,536.0L1021.0,535.0L1021.0,534.0L1021.0,533.0L1021.0,532.0L1021.0,531.0L1021.0,530.0L1021.0,529.0L1021.0,528.0L1021.1,527.0L1021.1,526.0L1021.1,525.0L1021.1,524.0L1021.1,523.0L1021.1,522.0L1021.1,521.0L1021.1,520.0L1021.1,519.0L1021.1,518.0L1021.1,517.0L1021.1,516.0L1021.1,515.0L1021.2,514.0L1021.2,513.0L1021.2,512.0L1021.2,511.0L1021.2,510.0L1021.2,509.0L1021.2,508.0L1021.2,507.0L1021.2,506.0L1021.2,505.0L1021.2,504.0L1021.2,503.0L1021.3,502.0L1021.3,501.0L1021.3,500.0L1021.3,499.0L1021.3,498.0L1021.3,497.0L1021.3,496.0L1021.3,495.0L1021.3,494.0L1021.3,493.0L1021.3,492.0L1021.4,491.0L1021.4,490.0L1021.4,489.0L1021.4,488.0L1021.4,487.0L1021.4,486.0L1021.4,485.0L1021.4,484.0L1021.4,483.0L1021.4,482.0L1021.5,481.0L1021.5,480.0L1021.5,479.0L1021.5,478.0L1021.5,477.0L1021.5,476.0L1021.5,475.0L1021.5,474.0L1021.5,473.0L1021.6,472.0L1021.6,471.0L1021.6,470.0L1021.6,469.0L1021.6,468.0L1021.6,467.0L1021.6,466.0L1021.7,465.0L1021.7,464.0L1021.7,463.0L1021.7,462.0L1021.7,461.0L1021.7,460.0L1021.8,459.0L1021.8,458.0L1021.8,457.0L1021.8,456.0L1021.8,455.0L1021.8,454.0L1021.9,453.0L1021.9,452.0L1021.9,451.0L1021.9,450.0L1021.9,449.0L1021.9,448.0L1022.0,447.0L1022.0,446.0L1022.0,445.0L1022.0,444.0L1022.0,443.0L1022.1,442.0L1022.1,441.0L1022.1,440.0L1022.1,439.0L1022.1,438.0L1022.2,437.0L1022.2,436.0L1022.2,435.0L1022.2,434.0L1022.2,433.0L1022.3,432.0L1022.3,431.0L1022.3,430.0L1022.3,429.0L1022.3,428.0L1022.4,427.0L1022.4,426.0L1022.4,425.0L1022.4,424.0L1022.4,423.0L1022.5,422.0L1022.5,421.0L1022.5,420.0L1022.5,419.0L1022.6,418.0L1022.6,417.0L1022.6,416.0L1022.6,415.0L1022.6,414.0L1022.7,413.0L1022.7,412.0L1022.7,411.0L1022.7,410.0L1022.7,409.0L1022.8,408.0L1022.8,407.0L1022.8,406.0L1022.8,405.0L1022.8,404.0L1022.9,403.0L1022.9,402.0L1022.9,401.0L1022.9,400.0L1022.9,399.0L1023.0,398.0L1023.0,397.0L1023.0,396.0L1023.0,395.0L1023.0,394.0L1023.0,393.0L1023.1,392.0L1023.1,391.0L1023.1,390.0L1023.1,389.0L1023.1,388.0L1023.2,387.0L1023.2,386.0L1023.2,385.0L1023.2,384.0L1023.2,383.0L1023.2,382.0L1023.3,381.0L1023.3,380.0L1023.3,379.0L1023.3,378.0L1023.3,377.0L1023.3,376.0L1023.4,375.0L1023.4,374.0L1023.4,373.0L1023.4,372.0L1023.4,371.0L1023.4,370.0L1023.5,369.0L1023.5,368.0L1023.5,367.0L1023.5,366.0L1023.5,365.0L1023.5,364.0L1023.6,363.0L1023.6,362.0L1023.6,361.0L1023.6,360.0L1023.6,359.0L1023.6,358.0L1023.7,357.0L1023.7,356.0L1023.7,355.0L1023.7,354.0L1023.7,353.0L1023.7,352.0L1023.8,351.0L1023.8,350.0L1023.8,349.0L1023.8,348.0L1023.8,347.0L1023.8,346.0L1023.9,345.0L1023.9,344.0L1023.9,343.0L1023.9,342.0L1023.9,341.0L1023.9,340.0L1024.0,339.0L1024.0,338.0L1024.0,337.0L1024.0,336.0L1024.0,335.0L1024.0,334.0L1024.1,333.0L1024.1,332.0L1024.1,331.0L1024.1,330.0L1024.1,329.0L1024.1,328.0L1024.2,327.0L1024.2,326.0L1024.2,325.0L1024.2,324.0L1024.2,323.0L1024.2,322.0L1024.3,321.0L1024.3,320.0L1024.3,319.0L1024.3,318.0L1024.3,317.0L1024.3,316.0L1024.4,315.0L1024.4,314.0L1024.4,313.0L1024.4,312.0L1024.4,311.0L1024.5,310.0L1024.5,309.0L1024.5,308.0L1024.5,307.0L1024.5,306.0L1024.5,305.0L1024.6,304.0L1024.6,303.0L1024.6,302.0L1024.6,301.0L1024.6,300.0L1024.7,299.0L1024.7,298.0L1024.7,297.0L1024.7,296.0L1024.7,295.0L1024.7,294.0L1024.8,293.0L1024.8,292.0L1024.8,291.0L1024.8,290.0L1024.8,289.0L1024.9,288.0L1024.9,287.0L1024.9,286.0L1024.9,285.0L1024.9,284.0L1024.9,283.0L1025.0,282.0L1025.0,281.0L1025.0,280.0L1025.0,279.0L1025.0,278.0L1025.1,277.0L1025.1,276.0L1025.1,275.0L1025.1,274.0L1025.1,273.0L1025.1,272.0L1025.2,271.0L1025.2,270.0L1025.2,269.0L1025.2,268.0L1025.2,267.0L1025.3,266.0L1025.3,265.0L1025.3,264.0L1025.3,263.0L1025.3,262.0L1025.4,261.0L1025.4,260.0L1025.4,259.0L1025.4,258.0L1025.4,257.0L1025.5,256.0L1025.5,255.0L1025.5,254.0L1025.5,253.0L1025.5,252.0L1025.6,251.0L1025.6,250.0L1025.6,249.0L1025.6,248.0L1025.6,247.0L1025.7,246.0L1025.7,245.0L1025.7,244.0L1025.7,243.0L1025.7,242.0L1025.8,241.0L1025.8,240.0L1025.8,239.0L1025.8,238.0L1025.8,237.0L1025.9,236.0L1025.9,235.0L1025.9,234.0L1025.9,233.0L1025.9,232.0L1026.0,231.0L1026.0,230.0L1026.0,229.0L1026.0,228.0L1026.0,227.0L1026.1,226.0L1026.1,225.0L1026.1,224.0L1026.1,223.0L1026.1,222.0L1026.2,221.0L1026.2,220.0L1026.2,219.0L1026.2,218.0L1026.3,217.0L1026.3,216.0L1026.3,215.0L1026.3,214.0L1026.3,213.0L1026.4,212.0L1026.4,211.0L1026.4,210.0L1026.4,209.0L1026.5,208.0L1026.5,207.0L1026.5,206.0L1026.5,205.0L1026.5,204.0L1026.6,203.0L1026.6,202.0L1026.6,201.0L1026.6,200.0L1026.6,199.0L1026.7,198.0L1026.7,197.0L1026.7,196.0L1026.7,195.0L1026.7,194.0L1026.8,193.0L1026.8,192.0L1026.8,191.0L1026.8,190.0L1026.8,189.0L1026.9,188.0L1026.9,187.0L1026.9,186.0L1026.9,185.0L1027.0,184.0L1027.0,183.0L1027.0,182.0L1027.0,181.0L1027.0,180.0L1027.1,179.0L1027.1,178.0L1027.1,177.0L1027.1,176.0L1027.1,175.0L1027.2,174.0L1027.2,173.0L1027.2,172.0L1027.2,171.0L1027.3,170.0L1027.3,169.0L1027.3,168.0L1027.3,167.0L1027.3,166.0L1027.4,165.0L1027.4,164.0L1027.4,163.0L1027.4,162.0L1027.5,161.0L1027.5,160.0L1027.5,159.0L1027.5,158.0L1027.6,157.0L1027.6,156.0L1027.6,155.0L1027.6,154.0L1027.7,153.0L1027.7,152.0L1027.7,151.0L1027.7,150.0L1027.8,149.0L1027.8,148.0L1027.8,147.0L1027.9,146.0L1027.9,145.0L1027.9,144.0L1027.9,143.0L1028.0,142.0L1028.0,141.0L1028.0,140.0L1028.1,139.0L1028.1,138.0L1028.1,137.0L1028.1,136.0L1028.2,135.0L1028.2,134.0L1028.2,133.0L1028.3,132.0L1028.3,131.0L1028.3,130.0L1028.4,129.0L1028.4,128.0L1028.4,127.0L1028.5,126.0L1028.5,125.0L1028.5,124.0L1028.6,123.0L1028.6,122.0L1028.6,121.0L1028.7,120.0L1028.7,119.0L1028.8,118.0L1028.8,117.0L1028.8,116.0L1028.9,115.0L1028.9,114.0L1029.0,113.0L1029.0,112.0L1029.1,111.0L1029.1,110.0L1029.2,109.0L1029.2,108.0L1029.3,107.0L1029.3,106.0L1029.4,105.0L1029.4,104.0L1029.5,103.0L1029.6,102.0L1029.6,101.0L1029.7,100.0L1029.7,99.0L1029.8,98.0L1029.9,97.0L1029.9,96.0L1030.0,95.0L1030.1,94.0L1030.2,93.0L1030.2,92.0L1030.3,91.0L1030.4,90.0L1030.4,89.0L1030.5,88.0L1030.6,87.0L1030.7,86.0L1030.7,85.0L1030.8,84.0L1030.9,83.0L1031.0,82.0L1031.0,81.0L1031.1,80.0L1031.2,79.0L1031.2,78.0L1031.3,77.0L1031.4,76.0L1031.4,75.0L1031.5,74.0L1031.6,73.0L1031.6,72.0L1031.7,71.0L1031.8,70.0L1031.9,69.0L1032.0,68.0L1032.0,67.0L1032.1,66.0L1032.2,65.0L1032.4,64.0L1032.5,63.0L1032.6,62.0L1032.7,61.0L1032.9,60.0L1033.1,59.0L1033.4,58.0L1033.7,57.0L1034.1,56.0L1034.5,55.0L1035.7,54.0L1036.1,55.0L1036.5,56.0L1036.9,57.0L1037.2,58.0L1037.5,59.0L1037.7,60.0L1037.9,61.0L1038.0,62.0L1038.1,63.0L1038.2,64.0L1038.4,65.0L1038.5,66.0L1038.6,67.0L1038.6,68.0L1038.7,69.0L1038.8,70.0L1038.9,71.0L1039.0,72.0L1039.0,73.0L1039.1,74.0L1039.2,75.0L1039.2,76.0L1039.3,77.0L1039.4,78.0L1039.4,79.0L1039.5,80.0L1039.6,81.0L1039.6,82.0L1039.7,83.0L1039.8,84.0L1039.9,85.0L1039.9,86.0L1040.0,87.0L1040.1,88.0L1040.2,89.0L1040.2,90.0L1040.3,91.0L1040.4,92.0L1040.4,93.0L1040.5,94.0L1040.6,95.0L1040.7,96.0L1040.7,97.0L1040.8,98.0L1040.9,99.0L1040.9,100.0L1041.0,101.0L1041.0,102.0L1041.1,103.0L1041.2,104.0L1041.2,105.0L1041.3,106.0L1041.3,107.0L1041.4,108.0L1041.4,109.0L1041.5,110.0L1041.5,111.0L1041.6,112.0L1041.6,113.0L1041.7,114.0L1041.7,115.0L1041.8,116.0L1041.8,117.0L1041.8,118.0L1041.9,119.0L1041.9,120.0L1042.0,121.0L1042.0,122.0L1042.0,123.0L1042.1,124.0L1042.1,125.0L1042.1,126.0L1042.2,127.0L1042.2,128.0L1042.2,129.0L1042.3,130.0L1042.3,131.0L1042.3,132.0L1042.4,133.0L1042.4,134.0L1042.4,135.0L1042.5,136.0L1042.5,137.0L1042.5,138.0L1042.5,139.0L1042.6,140.0L1042.6,141.0L1042.6,142.0L1042.7,143.0L1042.7,144.0L1042.7,145.0L1042.7,146.0L1042.8,147.0L1042.8,148.0L1042.8,149.0L1042.9,150.0L1042.9,151.0L1042.9,152.0L1042.9,153.0L1043.0,154.0L1043.0,155.0L1043.0,156.0L1043.0,157.0L1043.1,158.0L1043.1,159.0L1043.1,160.0L1043.1,161.0L1043.2,162.0L1043.2,163.0L1043.2,164.0L1043.2,165.0L1043.3,166.0L1043.3,167.0L1043.3,168.0L1043.3,169.0L1043.3,170.0L1043.4,171.0L1043.4,172.0L1043.4,173.0L1043.4,174.0L1043.5,175.0L1043.5,176.0L1043.5,177.0L1043.5,178.0L1043.5,179.0L1043.6,180.0L1043.6,181.0L1043.6,182.0L1043.6,183.0L1043.6,184.0L1043.7,185.0L1043.7,186.0L1043.7,187.0L1043.7,188.0L1043.8,189.0L1043.8,190.0L1043.8,191.0L1043.8,192.0L1043.8,193.0L1043.9,194.0L1043.9,195.0L1043.9,196.0L1043.9,197.0L1043.9,198.0L1044.0,199.0L1044.0,200.0L1044.0,201.0L1044.0,202.0L1044.0,203.0L1044.1,204.0L1044.1,205.0L1044.1,206.0L1044.1,207.0L1044.1,208.0L1044.2,209.0L1044.2,210.0L1044.2,211.0L1044.2,212.0L1044.3,213.0L1044.3,214.0L1044.3,215.0L1044.3,216.0L1044.3,217.0L1044.4,218.0L1044.4,219.0L1044.4,220.0L1044.4,221.0L1044.5,222.0L1044.5,223.0L1044.5,224.0L1044.5,225.0L1044.5,226.0L1044.6,227.0L1044.6,228.0L1044.6,229.0L1044.6,230.0L1044.6,231.0L1044.7,232.0L1044.7,233.0L1044.7,234.0L1044.7,235.0L1044.7,236.0L1044.8,237.0L1044.8,238.0L1044.8,239.0L1044.8,240.0L1044.8,241.0L1044.9,242.0L1044.9,243.0L1044.9,244.0L1044.9,245.0L1044.9,246.0L1045.0,247.0L1045.0,248.0L1045.0,249.0L1045.0,250.0L1045.0,251.0L1045.1,252.0L1045.1,253.0L1045.1,254.0L1045.1,255.0L1045.1,256.0L1045.2,257.0L1045.2,258.0L1045.2,259.0L1045.2,260.0L1045.2,261.0L1045.3,262.0L1045.3,263.0L1045.3,264.0L1045.3,265.0L1045.3,266.0L1045.4,267.0L1045.4,268.0L1045.4,269.0L1045.4,270.0L1045.4,271.0L1045.5,272.0L1045.5,273.0L1045.5,274.0L1045.5,275.0L1045.5,276.0L1045.5,277.0L1045.6,278.0L1045.6,279.0L1045.6,280.0L1045.6,281.0L1045.6,282.0L1045.7,283.0L1045.7,284.0L1045.7,285.0L1045.7,286.0L1045.7,287.0L1045.7,288.0L1045.8,289.0L1045.8,290.0L1045.8,291.0L1045.8,292.0L1045.8,293.0L1045.9,294.0L1045.9,295.0L1045.9,296.0L1045.9,297.0L1045.9,298.0L1045.9,299.0L1046.0,300.0L1046.0,301.0L1046.0,302.0L1046.0,303.0L1046.0,304.0L1046.1,305.0L1046.1,306.0L1046.1,307.0L1046.1,308.0L1046.1,309.0L1046.1,310.0L1046.2,311.0L1046.2,312.0L1046.2,313.0L1046.2,314.0L1046.2,315.0L1046.3,316.0L1046.3,317.0L1046.3,318.0L1046.3,319.0L1046.3,320.0L1046.3,321.0L1046.4,322.0L1046.4,323.0L1046.4,324.0L1046.4,325.0L1046.4,326.0L1046.4,327.0L1046.5,328.0L1046.5,329.0L1046.5,330.0L1046.5,331.0L1046.5,332.0L1046.5,333.0L1046.6,334.0L1046.6,335.0L1046.6,336.0L1046.6,337.0L1046.6,338.0L1046.6,339.0L1046.7,340.0L1046.7,341.0L1046.7,342.0L1046.7,343.0L1046.7,344.0L1046.7,345.0L1046.8,346.0L1046.8,347.0L1046.8,348.0L1046.8,349.0L1046.8,350.0L1046.8,351.0L1046.9,352.0L1046.9,353.0L1046.9,354.0L1046.9,355.0L1046.9,356.0L1046.9,357.0L1047.0,358.0L1047.0,359.0L1047.0,360.0L1047.0,361.0L1047.0,362.0L1047.0,363.0L1047.1,364.0L1047.1,365.0L1047.1,366.0L1047.1,367.0L1047.1,368.0L1047.1,369.0L1047.2,370.0L1047.2,371.0L1047.2,372.0L1047.2,373.0L1047.2,374.0L1047.2,375.0L1047.3,376.0L1047.3,377.0L1047.3,378.0L1047.3,379.0L1047.3,380.0L1047.3,381.0L1047.4,382.0L1047.4,383.0L1047.4,384.0L1047.4,385.0L1047.4,386.0L1047.4,387.0L1047.5,388.0L1047.5,389.0L1047.5,390.0L1047.5,391.0L1047.5,392.0L1047.6,393.0L1047.6,394.0L1047.6,395.0L1047.6,396.0L1047.6,397.0L1047.6,398.0L1047.7,399.0L1047.7,400.0L1047.7,401.0L1047.7,402.0L1047.7,403.0L1047.8,404.0L1047.8,405.0L1047.8,406.0L1047.8,407.0L1047.8,408.0L1047.9,409.0L1047.9,410.0L1047.9,411.0L1047.9,412.0L1047.9,413.0L1048.0,414.0L1048.0,415.0L1048.0,416.0L1048.0,417.0L1048.0,418.0L1048.1,419.0L1048.1,420.0L1048.1,421.0L1048.1,422.0L1048.2,423.0L1048.2,424.0L1048.2,425.0L1048.2,426.0L1048.2,427.0L1048.3,428.0L1048.3,429.0L1048.3,430.0L1048.3,431.0L1048.3,432.0L1048.4,433.0L1048.4,434.0L1048.4,435.0L1048.4,436.0L1048.4,437.0L1048.5,438.0L1048.5,439.0L1048.5,440.0L1048.5,441.0L1048.5,442.0L1048.6,443.0L1048.6,444.0L1048.6,445.0L1048.6,446.0L1048.6,447.0L1048.7,448.0L1048.7,449.0L1048.7,450.0L1048.7,451.0L1048.7,452.0L1048.7,453.0L1048.8,454.0L1048.8,455.0L1048.8,456.0L1048.8,457.0L1048.8,458.0L1048.8,459.0L1048.9,460.0L1048.9,461.0L1048.9,462.0L1048.9,463.0L1048.9,464.0L1048.9,465.0L1049.0,466.0L1049.0,467.0L1049.0,468.0L1049.0,469.0L1049.0,470.0L1049.0,471.0L1049.0,472.0L1049.1,473.0L1049.1,474.0L1049.1,475.0L1049.1,476.0L1049.1,477.0L1049.1,478.0L1049.1,479.0L1049.1,480.0L1049.1,481.0L1049.2,482.0L1049.2,483.0L1049.2,484.0L1049.2,485.0L1049.2,486.0L1049.2,487.0L1049.2,488.0L1049.2,489.0L1049.2,490.0L1049.2,491.0L1049.3,492.0L1049.3,493.0L1049.3,494.0L1049.3,495.0L1049.3,496.0L1049.3,497.0L1049.3,498.0L1049.3,499.0L1049.3,500.0L1049.3,501.0L1049.3,502.0L1049.4,503.0L1049.4,504.0L1049.4,505.0L1049.4,506.0L1049.4,507.0L1049.4,508.0L1049.4,509.0L1049.4,510.0L1049.4,511.0L1049.4,512.0L1049.4,513.0L1049.4,514.0L1049.5,515.0L1049.5,516.0L1049.5,517.0L1049.5,518.0L1049.5,519.0L1049.5,520.0L1049.5,521.0L1049.5,522.0L1049.5,523.0L1049.5,524.0L1049.5,525.0L1049.5,526.0L1049.5,527.0L1049.6,528.0L1049.6,529.0L1049.6,530.0L1049.6,531.0L1049.6,532.0L1049.6,533.0L1049.6,534.0L1049.6,535.0L1049.6,536.0L1049.6,537.0L1049.6,538.0L1049.6,539.0L1049.6,540.0L1049.6,541.0L1049.6,542.0L1049.7,543.0L1049.7,544.0L1049.7,545.0L1049.7,546.0L1049.7,547.0L1049.7,548.0L1049.7,549.0L1049.7,550.0L1049.7,551.0L1049.7,552.0L1049.7,553.0L1049.7,554.0L1049.7,555.0L1049.7,556.0L1049.7,557.0L1049.7,558.0L1049.8,559.0L1049.8,560.0L1049.8,561.0L1049.8,562.0L1049.8,563.0L1049.8,564.0L1049.8,565.0L1049.8,566.0L1049.8,567.0L1049.8,568.0L1049.8,569.0L1049.8,570.0L1049.8,571.0L1049.8,572.0L1049.8,573.0L1049.8,574.0L1049.8,575.0L1049.8,576.0L1049.9,577.0L1049.9,578.0L1049.9,579.0L1049.9,580.0L1049.9,581.0L1049.9,582.0L1049.9,583.0L1049.9,584.0L1049.9,585.0L1049.9,586.0L1049.9,587.0L1049.9,588.0L1049.9,589.0L1049.9,590.0L1049.9,591.0L1049.9,592.0L1049.9,593.0L1049.9,594.0L1049.9,595.0L1049.9,596.0L1050.0,597.0L1050.0,598.0L1050.0,599.0L1050.0,600.0L1050.0,601.0L1050.0,602.0L1050.0,603.0L1050.0,604.0L1050.0,605.0L1050.0,606.0L1050.0,607.0L1050.0,608.0L1050.0,609.0L1050.0,610.0L1050.0,611.0L1050.0,612.0L1050.0,613.0L1050.0,614.0L1050.0,615.0L1050.1,616.0L1050.1,617.0L1050.1,618.0L1050.1,619.0L1050.1,620.0L1050.1,621.0L1050.1,622.0L1050.1,623.0L1050.1,624.0L1050.1,625.0L1050.1,626.0L1050.1,627.0L1050.1,628.0L1050.1,629.0L1050.1,630.0L1050.1,631.0L1050.2,632.0L1050.2,633.0L1050.2,634.0L1050.2,635.0L1050.2,636.0L1050.2,637.0L1050.2,638.0L1050.2,639.0L1050.2,640.0L1050.2,641.0L1050.2,642.0L1050.2,643.0L1050.2,644.0L1050.2,645.0L1050.2,646.0L1050.2,647.0L1050.3,648.0L1050.3,649.0L1050.3,650.0L1050.3,651.0L1050.3,652.0L1050.3,653.0L1050.3,654.0L1050.3,655.0L1050.3,656.0L1050.3,657.0L1050.3,658.0L1050.3,659.0L1050.3,660.0L1050.3,661.0L1050.3,662.0L1050.4,663.0L1050.4,664.0L1050.4,665.0L1050.4,666.0L1050.4,667.0L1050.4,668.0L1050.4,669.0L1050.4,670.0L1050.4,671.0L1050.4,672.0L1050.4,673.0L1050.4,674.0L1050.4,675.0L1050.5,676.0L1050.5,677.0L1050.5,678.0L1050.5,679.0L1050.5,680.0L1050.5,681.0L1050.5,682.0L1050.5,683.0L1050.5,684.0L1050.5,685.0L1050.5,686.0L1050.6,687.0L1050.6,688.0L1050.6,689.0L1050.6,690.0L1050.6,691.0L1050.6,692.0L1050.6,693.0L1050.6,694.0L1050.6,695.0L1050.7,696.0L1050.7,697.0L1050.7,698.0L1050.7,699.0L1050.7,700.0L1050.7,701.0L1050.7,702.0L1050.7,703.0L1050.8,704.0L1050.8,705.0L1050.8,706.0L1050.8,707.0L1050.8,708.0L1050.8,709.0L1050.9,710.0L1050.9,711.0L1050.9,712.0L1050.9,713.0L1050.9,714.0L1051.0,715.0L1051.0,716.0L1051.0,717.0L1051.0,718.0L1051.0,719.0L1051.1,720.0L1051.1,721.0L1051.1,722.0L1051.1,723.0L1051.2,724.0L1051.2,725.0L1051.2,726.0L1051.2,727.0L1051.3,728.0L1051.3,729.0L1051.3,730.0L1051.3,731.0L1051.4,732.0L1051.4,733.0L1051.4,734.0L1051.4,735.0L1051.5,736.0L1051.5,737.0L1051.5,738.0L1051.5,739.0L1051.6,740.0L1051.6,741.0L1051.6,742.0L1051.6,743.0L1051.7,744.0L1051.7,745.0L1051.7,746.0L1051.7,747.0L1051.7,748.0L1051.8,749.0L1051.8,750.0L1051.8,751.0L1051.8,752.0L1051.9,753.0L1051.9,754.0L1051.9,755.0L1051.9,756.0L1051.9,757.0L1052.0,758.0L1052.0,759.0L1052.0,760.0L1052.0,761.0L1052.1,762.0L1052.1,763.0L1052.1,764.0L1052.1,765.0L1052.1,766.0L1052.2,767.0L1052.2,768.0L1052.2,769.0L1052.2,770.0L1052.3,771.0L1052.3,772.0L1052.3,773.0L1052.3,774.0L1052.4,775.0L1052.4,776.0L1052.4,777.0L1052.4,778.0L1052.4,779.0L1052.5,780.0L1052.5,781.0L1052.5,782.0L1052.5,783.0L1052.6,784.0L1052.6,785.0L1052.6,786.0L1052.6,787.0L1052.7,788.0L1052.7,789.0L1052.7,790.0L1052.7,791.0L1052.7,792.0L1052.8,793.0L1052.8,794.0L1052.8,795.0L1052.8,796.0L1052.9,797.0L1052.9,798.0L1052.9,799.0L1052.9,800.0L1053.0,801.0L1053.0,802.0L1053.0,803.0L1053.0,804.0L1053.0,805.0L1053.1,806.0L1053.1,807.0L1053.1,808.0L1053.1,809.0L1053.2,810.0L1053.2,811.0L1053.2,812.0L1053.2,813.0L1053.2,814.0L1053.3,815.0L1053.3,816.0L1053.3,817.0L1053.3,818.0L1053.4,819.0L1053.4,820.0L1053.4,821.0L1053.4,822.0L1053.4,823.0L1053.5,824.0L1053.5,825.0L1053.5,826.0L1053.5,827.0L1053.6,828.0L1053.6,829.0L1053.6,830.0L1053.6,831.0L1053.7,832.0L1053.7,833.0L1053.7,834.0L1053.7,835.0L1053.8,836.0L1053.8,837.0L1053.8,838.0L1053.9,839.0L1053.9,840.0L1053.9,841.0L1053.9,842.0L1054.0,843.0L1054.0,844.0L1054.0,845.0L1054.1,846.0L1054.1,847.0L1054.1,848.0L1054.2,849.0L1054.2,850.0L1054.2,851.0L1054.3,852.0L1054.3,853.0L1054.3,854.0L1054.4,855.0L1054.4,856.0L1054.5,857.0L1054.5,858.0L1054.5,859.0L1054.6,860.0L1054.6,861.0L1054.7,862.0L1054.7,863.0L1054.8,864.0L1054.8,865.0L1054.8,866.0L1054.9,867.0L1054.9,868.0L1055.0,869.0L1055.0,870.0L1055.1,871.0L1055.1,872.0L1055.2,873.0L1055.2,874.0L1055.3,875.0L1055.3,876.0L1055.4,877.0L1055.4,878.0L1055.5,879.0L1055.6,880.0L1055.6,881.0L1055.7,882.0L1055.7,883.0L1055.8,884.0L1055.8,885.0L1055.9,886.0L1055.9,887.0L1056.0,888.0L1056.1,889.0L1056.1,890.0L1056.2,891.0L1056.2,892.0L1056.3,893.0L1056.3,894.0L1056.4,895.0L1056.5,896.0L1056.5,897.0L1056.6,898.0L1056.6,899.0L1056.7,900.0L1056.8,901.0L1056.8,902.0L1056.9,903.0L1056.9,904.0L1057.0,905.0L1057.1,906.0L1057.1,907.0L1057.2,908.0L1057.3,909.0L1057.3,910.0L1057.4,911.0L1057.5,912.0L1057.5,913.0L1057.6,914.0L1057.7,915.0L1057.8,916.0L1057.8,917.0L1057.9,918.0L1058.0,919.0L1058.0,920.0L1058.1,921.0L1058.2,922.0L1058.3,923.0L1058.3,924.0L1058.4,925.0L1058.5,926.0L1058.6,927.0L1058.6,928.0L1058.7,929.0L1058.8,930.0L1058.9,931.0L1059.0,932.0L1059.0,933.0L1059.1,934.0L1059.2,935.0L1059.4,937.5L1059.5,940.0L1059.7,942.2L1059.8,944.2L1060.0,945.8L1060.2,947.0L1060.3,947.8L1060.5,948.0L1060.8,947.8L1061.2,947.2L1061.5,946.2L1061.9,944.8L1062.2,943.0L1062.6,940.8L1062.9,938.3L1063.2,935.6L1063.6,932.6L1063.9,929.4L1064.3,926.1L1064.6,922.8L1064.9,919.5L1065.3,916.3L1065.6,913.2L1066.0,910.4L1066.3,908.0L1066.7,906.1L1067.0,905.0L1067.3,906.5L1067.7,909.3L1068.0,912.8L1068.3,917.0L1068.7,921.7L1069.0,926.9L1069.3,932.4L1069.7,938.2L1070.0,944.4L1070.3,950.7L1070.7,957.1L1071.0,963.6L1071.3,970.1L1071.7,976.5L1072.0,982.7L1072.3,988.6L1072.7,994.1L1073.0,999.1L1073.3,1003.5L1073.7,1007.2L1074.0,1010.1L1074.3,1012.3L1074.7,1013.6L1075.0,1014.0L1075.3,1013.0L1075.7,1009.8L1076.0,1004.8L1076.3,998.0L1076.7,989.7L1077.0,980.3L1077.3,970.1L1077.7,959.3L1078.0,948.2L1078.3,937.1L1078.7,926.0L1079.0,915.2L1079.3,904.7L1079.7,894.7L1080.0,885.1L1080.3,876.0L1080.7,867.5L1081.0,859.7L1081.3,852.5L1081.7,846.0L1082.0,840.4L1082.3,835.6L1082.7,832.0L1083.0,830.0L1083.3,832.9L1083.7,838.1L1084.0,844.9L1084.4,852.8L1084.7,861.6L1085.1,871.2L1085.4,881.2L1085.8,891.6L1086.1,901.9L1086.4,911.9L1086.8,921.3L1087.1,929.7L1087.5,936.6L1087.8,941.8L1088.2,944.9L1088.5,946.0L1088.8,944.5L1089.2,940.2L1089.5,933.3L1089.9,924.1L1090.2,913.3L1090.6,901.4L1090.9,888.9L1091.2,876.3L1091.6,863.9L1091.9,852.0L1092.3,840.9L1092.6,830.7L1093.0,821.7L1093.3,814.1L1093.7,808.2L1094.0,805.0L1094.3,807.3L1094.7,811.7L1095.0,817.3L1095.3,823.9L1095.7,831.5L1096.0,839.9L1096.3,849.1L1096.7,859.0L1097.0,869.4L1097.3,880.4L1097.7,891.8L1098.0,903.4L1098.3,915.1L1098.7,926.6L1099.0,937.7L1099.3,947.9L1099.7,957.1L1100.0,964.6L1100.3,970.3L1100.7,973.8L1101.0,975.0L1101.3,974.1L1101.7,971.5L1102.0,967.1L1102.4,961.3L1102.7,954.1L1103.0,945.9L1103.4,936.8L1103.7,927.1L1104.1,917.0L1104.4,906.7L1104.7,896.3L1105.1,886.1L1105.4,875.9L1105.8,866.1L1106.1,856.5L1106.4,847.3L1106.8,838.5L1107.1,830.1L1107.4,822.1L1107.8,814.7L1108.1,807.7L1108.5,801.3L1108.8,795.4L1109.1,790.1L1109.5,785.5L1109.8,781.6L1110.2,778.6L1110.5,777.0L1110.8,777.7L1111.2,778.9L1111.5,780.5L1111.8,782.3L1112.2,784.5L1112.5,786.8L1112.9,789.4L1113.2,792.3L1113.5,795.3L1113.9,798.5L1114.2,801.9L1114.5,805.5L1114.9,809.3L1115.2,813.3L1115.5,817.5L1115.9,821.9L1116.2,826.4L1116.6,831.2L1116.9,836.2L1117.2,841.3L1117.6,846.7L1117.9,852.3L1118.2,858.1L1118.6,864.1L1118.9,870.3L1119.2,876.8L1119.6,883.6L1119.9,890.6L1120.2,897.8L1120.6,905.4L1120.9,913.2L1121.3,921.3L1121.6,929.8L1121.9,938.6L1122.3,947.7L1122.6,957.2L1122.9,967.1L1123.3,977.4L1123.6,988.1L1123.9,999.2L1124.3,1010.8L1124.6,1023.0L1125.0,1035.6L1125.3,1048.7L1125.6,1062.4L1126.0,1076.6L1126.3,1091.3L1126.6,1106.4L1127.0,1122.0L1127.3,1137.7L1127.6,1153.5L1128.0,1169.1L1128.3,1183.9L1128.7,1197.5L1129.0,1209.2L1129.3,1218.3L1129.7,1224.0L1130.0,1226.0L1130.3,1224.3L1130.7,1219.2L1131.0,1211.1L1131.3,1200.6L1131.7,1188.3L1132.0,1174.6L1132.4,1160.2L1132.7,1145.5L1133.0,1130.6L1133.4,1115.9L1133.7,1101.4L1134.0,1087.3L1134.4,1073.6L1134.7,1060.4L1135.0,1047.6L1135.4,1035.3L1135.7,1023.5L1136.1,1012.1L1136.4,1001.2L1136.7,990.7L1137.1,980.5L1137.4,970.8L1137.7,961.4L1138.1,952.4L1138.4,943.8L1138.7,935.4L1139.1,927.4L1139.4,919.6L1139.8,912.1L1140.1,904.9L1140.4,898.0L1140.8,891.3L1141.1,884.9L1141.4,878.7L1141.8,872.7L1142.1,866.9L1142.4,861.4L1142.8,856.0L1143.1,850.9L1143.4,846.0L1143.8,841.2L1144.1,836.7L1144.5,832.3L1144.8,828.2L1145.1,824.2L1145.5,820.4L1145.8,816.8L1146.1,813.4L1146.5,810.2L1146.8,807.2L1147.1,804.4L1147.5,801.8L1147.8,799.4L1148.2,797.3L1148.5,795.4L1148.8,793.9L1149.2,792.7L1149.5,792.0L1149.8,792.5L1150.2,793.6L1150.5,794.9L1150.8,796.4L1151.2,798.2L1151.5,800.1L1151.9,802.3L1152.2,804.6L1152.5,807.0L1152.9,809.7L1153.2,812.5L1153.5,815.4L1153.9,818.5L1154.2,821.7L1154.5,825.1L1154.9,828.6L1155.2,832.2L1155.5,836.0L1155.9,839.9L1156.2,844.0L1156.6,848.2L1156.9,852.6L1157.2,857.1L1157.6,861.8L1157.9,866.6L1158.2,871.6L1158.6,876.7L1158.9,882.0L1159.2,887.4L1159.6,893.0L1159.9,898.8L1160.2,904.7L1160.6,910.8L1160.9,917.1L1161.3,923.5L1161.6,930.2L1161.9,937.0L1162.3,943.9L1162.6,951.1L1162.9,958.5L1163.3,966.0L1163.6,973.7L1163.9,981.6L1164.3,989.7L1164.6,997.9L1165.0,1006.3L1165.3,1014.8L1165.6,1023.4L1166.0,1032.1L1166.3,1040.8L1166.6,1049.5L1167.0,1058.2L1167.3,1066.8L1167.6,1075.2L1168.0,1083.3L1168.3,1091.0L1168.6,1098.2L1169.0,1104.8L1169.3,1110.7L1169.7,1115.7L1170.0,1119.7L1170.3,1122.6L1170.7,1124.4L1171.0,1125.0L1171.3,1123.7L1171.7,1119.9L1172.0,1113.8L1172.3,1105.7L1172.7,1096.0L1173.0,1085.0L1173.3,1073.1L1173.7,1060.7L1174.0,1048.0L1174.3,1035.3L1174.7,1022.6L1175.0,1010.1L1175.3,997.9L1175.7,986.0L1176.0,974.5L1176.3,963.4L1176.7,952.6L1177.0,942.4L1177.3,932.5L1177.7,923.0L1178.0,913.9L1178.3,905.3L1178.7,897.0L1179.0,889.1L1179.3,881.6L1179.7,874.5L1180.0,867.7L1180.3,861.3L1180.7,855.3L1181.0,849.7L1181.3,844.4L1181.7,839.5L1182.0,835.0L1182.3,830.8L1182.7,827.1L1183.0,823.9L1183.3,821.2L1183.7,819.1L1184.0,818.0L1184.3,820.1L1184.7,824.0L1185.0,828.9L1185.3,834.7L1185.7,841.1L1186.0,848.1L1186.3,855.4L1186.7,862.9L1187.0,870.5L1187.3,877.9L1187.7,885.1L1188.0,891.9L1188.3,897.9L1188.7,903.2L1189.0,907.4L1189.3,910.5L1189.7,912.4L1190.0,913.0L1190.3,912.8L1190.7,912.3L1191.0,911.3L1191.4,910.1L1191.7,908.5L1192.1,906.6L1192.4,904.5L1192.8,902.2L1193.1,899.9L1193.5,897.7L1193.8,895.6L1194.2,894.0L1194.5,893.0L1194.8,894.3L1195.2,896.5L1195.5,899.3L1195.9,902.4L1196.2,905.7L1196.6,909.0L1196.9,912.1L1197.2,915.1L1197.6,917.7L1197.9,919.9L1198.3,921.7L1198.6,923.0L1199.0,923.7L1199.3,924.0L1199.6,923.7L1200.0,923.0L1200.3,921.7L1200.6,919.9L1201.0,917.7L1201.3,915.1L1201.7,912.1L1202.0,909.0L1202.3,905.7L1202.7,902.4L1203.0,899.3L1203.3,896.5L1203.7,894.3L1204.0,893.0L1204.3,894.0L1204.7,895.6L1205.0,897.7L1205.4,899.9L1205.7,902.2L1206.1,904.5L1206.4,906.6L1206.8,908.5L1207.1,910.1L1207.5,911.3L1207.8,912.3L1208.2,912.8L1208.5,913.0L1208.8,912.2L1209.2,909.7L1209.5,905.5L1209.9,900.0L1210.2,893.2L1210.6,885.4L1210.9,876.8L1211.2,867.8L1211.6,858.5L1211.9,849.1L1212.3,839.9L1212.6,831.0L1212.9,822.6L1213.3,814.7L1213.6,807.4L1214.0,801.0L1214.3,795.5L1214.7,791.3L1215.0,789.0L1215.3,789.8L1215.7,791.1L1216.0,792.9L1216.4,795.0L1216.7,797.3L1217.0,799.9L1217.4,802.8L1217.7,805.8L1218.0,808.9L1218.4,812.2L1218.7,815.7L1219.1,819.3L1219.4,822.9L1219.7,826.7L1220.1,830.5L1220.4,834.4L1220.7,838.3L1221.1,842.2L1221.4,846.1L1221.8,850.0L1222.1,853.8L1222.4,857.6L1222.8,861.2L1223.1,864.8L1223.4,868.2L1223.8,871.4L1224.1,874.4L1224.5,877.3L1224.8,879.8L1225.1,882.2L1225.5,884.2L1225.8,886.0L1226.1,887.4L1226.5,888.5L1226.8,889.4L1227.2,889.8L1227.5,890.0L1227.8,889.7L1228.2,888.9L1228.5,887.5L1228.9,885.5L1229.2,883.0L1229.5,880.1L1229.9,876.7L1230.2,872.9L1230.6,868.8L1230.9,864.5L1231.2,859.9L1231.6,855.3L1231.9,850.6L1232.3,846.0L1232.6,841.4L1233.0,837.1L1233.3,832.9L1233.6,829.0L1234.0,825.6L1234.3,822.6L1234.7,820.3L1235.0,819.0L1235.3,820.2L1235.7,822.4L1236.0,825.3L1236.3,828.7L1236.7,832.6L1237.0,836.9L1237.3,841.6L1237.7,846.7L1238.0,852.1L1238.3,857.9L1238.7,863.9L1239.0,870.3L1239.3,876.9L1239.7,883.8L1240.0,890.9L1240.3,898.2L1240.7,905.6L1241.0,913.2L1241.3,920.9L1241.7,928.6L1242.0,936.3L1242.3,943.9L1242.7,951.4L1243.0,958.6L1243.3,965.4L1243.7,971.8L1244.0,977.5L1244.3,982.7L1244.7,987.0L1245.0,990.5L1245.3,993.0L1245.7,994.5L1246.0,995.0L1246.3,994.4L1246.7,992.8L1247.0,990.1L1247.3,986.3L1247.7,981.6L1248.0,976.1L1248.3,969.9L1248.7,963.1L1249.0,955.8L1249.3,948.2L1249.7,940.3L1250.0,932.3L1250.3,924.2L1250.7,916.1L1251.0,908.0L1251.3,900.1L1251.7,892.4L1252.0,884.8L1252.3,877.5L1252.7,870.4L1253.0,863.5L1253.3,857.0L1253.7,850.8L1254.0,844.9L1254.3,839.3L1254.7,834.1L1255.0,829.3L1255.3,824.9L1255.7,820.9L1256.0,817.4L1256.3,814.5L1256.7,812.2L1257.0,811.0L1257.3,812.6L1257.7,815.4L1258.0,819.1L1258.4,823.4L1258.7,828.3L1259.0,833.5L1259.4,839.1L1259.7,845.0L1260.1,851.1L1260.4,857.3L1260.8,863.5L1261.1,869.6L1261.4,875.6L1261.8,881.3L1262.1,886.6L1262.5,891.4L1262.8,895.7L1263.1,899.4L1263.5,902.2L1263.8,904.3L1264.2,905.6L1264.5,906.0L1264.8,905.6L1265.2,904.4L1265.5,902.4L1265.9,899.7L1266.2,896.2L1266.6,892.2L1266.9,887.6L1267.2,882.5L1267.6,877.2L1267.9,871.7L1268.3,866.0L1268.6,860.4L1268.9,855.0L1269.3,849.7L1269.6,844.8L1270.0,840.4L1270.3,836.6L1270.7,833.6L1271.0,832.0L1271.3,835.5L1271.7,841.8L1272.0,850.0L1272.3,859.7L1272.7,870.6L1273.0,882.5L1273.3,895.0L1273.7,907.9L1274.0,920.8L1274.3,933.3L1274.7,944.7L1275.0,954.4L1275.3,961.8L1275.7,966.4L1276.0,968.0L1276.3,967.2L1276.7,964.7L1277.0,960.6L1277.4,955.1L1277.7,948.4L1278.1,940.7L1278.4,932.2L1278.7,923.3L1279.1,914.0L1279.4,904.8L1279.8,895.7L1280.1,886.8L1280.4,878.4L1280.8,870.5L1281.1,863.3L1281.5,856.9L1281.8,851.5L1282.2,847.3L1282.5,845.0L1282.8,847.1L1283.2,851.0L1283.5,855.9L1283.8,861.7L1284.2,868.1L1284.5,875.1L1284.8,882.4L1285.2,889.9L1285.5,897.5L1285.8,904.9L1286.2,912.1L1286.5,918.9L1286.8,924.9L1287.2,930.2L1287.5,934.4L1287.8,937.5L1288.2,939.4L1288.5,940.0L1288.8,937.9L1289.2,931.8L1289.5,922.1L1289.8,909.7L1290.2,895.4L1290.5,880.3L1290.8,864.8L1291.2,849.7L1291.5,835.2L1291.8,821.8L1292.2,809.6L1292.5,798.8L1292.8,789.8L1293.2,782.8L1293.5,779.0L1293.8,779.9L1294.2,781.6L1294.5,783.7L1294.8,786.2L1295.2,789.1L1295.5,792.3L1295.9,795.8L1296.2,799.6L1296.5,803.6L1296.9,807.9L1297.2,812.4L1297.5,817.1L1297.9,822.0L1298.2,827.1L1298.6,832.4L1298.9,837.9L1299.2,843.5L1299.6,849.3L1299.9,855.2L1300.2,861.3L1300.6,867.4L1300.9,873.6L1301.3,879.9L1301.6,886.2L1301.9,892.5L1302.3,898.7L1302.6,904.9L1303.0,910.9L1303.3,916.7L1303.6,922.3L1304.0,927.6L1304.3,932.6L1304.6,937.1L1305.0,941.1L1305.3,944.7L1305.7,947.6L1306.0,950.0L1306.3,951.6L1306.7,952.7L1307.0,953.0L1307.3,952.4L1307.7,950.4L1308.0,947.2L1308.3,942.9L1308.7,937.5L1309.0,931.2L1309.3,924.2L1309.7,916.5L1310.0,908.4L1310.3,900.1L1310.7,891.5L1311.0,883.0L1311.3,874.4L1311.7,866.0L1312.0,857.8L1312.3,849.8L1312.7,842.1L1313.0,834.8L1313.3,827.8L1313.7,821.3L1314.0,815.2L1314.3,809.6L1314.7,804.6L1315.0,800.2L1315.3,796.4L1315.7,793.6L1316.0,792.0L1316.3,793.7L1316.7,796.8L1317.0,800.8L1317.3,805.6L1317.7,811.0L1318.0,817.1L1318.3,823.7L1318.7,830.9L1319.0,838.5L1319.3,846.7L1319.7,855.2L1320.0,864.2L1320.3,873.6L1320.7,883.2L1321.0,893.1L1321.3,903.2L1321.7,913.3L1322.0,923.4L1322.3,933.3L1322.7,942.7L1323.0,951.6L1323.3,959.7L1323.7,966.7L1324.0,972.4L1324.3,976.6L1324.7,979.1L1325.0,980.0L1325.2,976.4L1325.3,972.8L1325.5,969.1L1325.7,965.5L1325.8,961.9L1326.0,958.4L1326.2,954.8L1326.3,951.2L1326.5,947.6L1326.7,944.1L1326.8,940.5L1327.0,937.0L1327.2,933.4L1327.3,929.9L1327.5,926.4L1327.7,922.9L1327.8,919.4L1328.0,915.9L1328.2,912.4L1328.3,908.9L1328.5,905.4L1328.7,901.9L1328.8,898.5L1329.0,895.0L1329.2,891.6L1329.3,888.1L1329.5,884.7L1329.7,881.2L1329.8,877.6L1330.0,874.0L1330.2,870.4L1330.4,866.6L1330.5,862.9L1330.7,859.2L1330.9,855.4L1331.0,851.7L1331.2,847.9L1331.4,844.2L1331.5,840.6L1331.7,837.0L1331.9,833.5L1332.0,830.0L1332.2,826.7L1332.4,823.4L1332.5,820.3L1332.7,817.3L1332.9,814.4L1333.0,811.7L1333.2,809.2L1333.4,806.8L1333.5,804.6L1333.7,802.5L1333.9,800.5L1334.0,798.5L1334.2,796.5L1334.4,794.6L1334.5,792.8L1334.7,790.9L1334.9,789.2L1335.0,787.4L1335.2,785.8L1335.4,784.1L1335.5,782.5L1335.7,781.0L1335.9,779.5L1336.0,778.1L1336.2,776.7L1336.4,775.4L1336.5,774.2L1336.7,773.0L1336.9,771.8L1337.0,770.7L1337.2,769.7L1337.4,768.7L1337.5,767.8L1337.7,766.9L1337.9,766.1L1338.0,765.3L1338.2,764.6L1338.4,763.9L1338.5,763.2L1338.7,762.6L1338.9,762.0L1339.0,761.4L1339.2,760.8L1339.4,760.3L1339.5,759.8L1339.7,759.2L1339.9,758.7L1340.1,758.2L1340.2,757.7L1340.4,757.1L1340.6,756.6L1340.7,756.1L1340.9,755.5L1341.1,754.9L1341.2,754.3L1341.4,753.6L1341.6,753.0L1341.7,752.3L1341.9,751.5L1342.1,750.7L1342.2,749.9L1342.4,749.0L1342.6,748.0L1342.7,747.0L1342.9,746.0L1343.1,744.9L1343.2,743.8L1343.4,742.7L1343.6,741.5L1343.7,740.3L1343.9,739.1L1344.1,737.9L1344.2,736.7L1344.4,735.5L1344.6,734.3L1344.7,733.1L1344.9,731.9L1345.1,730.7L1345.2,729.6L1345.4,728.5L1345.6,727.4L1345.7,726.3L1345.9,725.3L1346.1,724.3L1346.2,723.4L1346.4,722.5L1346.6,721.6L1346.7,720.8L1346.9,720.0L1347.1,719.2L1347.2,718.4L1347.4,717.6L1347.6,716.8L1347.7,716.0L1347.9,715.2L1348.1,714.4L1348.2,713.6L1348.4,712.9L1348.6,712.1L1348.7,711.4L1348.9,710.6L1349.1,709.9L1349.2,709.1L1349.4,708.4L1349.6,707.7L1349.8,707.0L1349.9,706.3L1350.1,705.6L1350.3,704.9L1350.4,704.2L1350.6,703.5L1350.8,702.9L1350.9,702.2L1351.1,701.6L1351.3,701.0L1351.4,700.4L1351.6,699.8L1351.8,699.2L1351.9,698.6L1352.1,698.0L1352.3,697.4L1352.4,696.9L1352.6,696.4L1352.8,695.8L1352.9,695.3L1353.1,694.8L1353.3,694.3L1353.4,693.9L1353.6,693.4L1353.8,693.0L1353.9,692.6L1354.1,692.1L1354.3,691.7L1354.4,691.4L1354.6,691.0L1354.9,691.4L1355.3,692.1L1355.6,693.0L1355.9,694.0L1356.3,695.3L1356.6,696.6L1357.0,698.1L1357.3,699.7L1357.6,701.3L1358.0,703.1L1358.3,705.0L1358.6,707.0L1359.0,709.1L1359.3,711.3L1359.6,713.6L1360.0,715.9L1360.3,718.3L1360.7,720.9L1361.0,723.5L1361.3,726.2L1361.7,729.0L1362.0,731.8L1362.3,734.8L1362.7,737.8L1363.0,740.9L1363.3,744.1L1363.7,747.4L1364.0,750.8L1364.4,754.2L1364.7,757.8L1365.0,761.4L1365.4,765.1L1365.7,768.9L1366.0,772.7L1366.4,776.7L1366.7,780.8L1367.0,784.9L1367.4,789.1L1367.7,793.4L1368.0,797.8L1368.4,802.3L1368.7,806.8L1369.1,811.5L1369.4,816.2L1369.7,821.1L1370.1,826.0L1370.4,830.9L1370.7,836.0L1371.1,841.2L1371.4,846.4L1371.7,851.7L1372.1,857.0L1372.4,862.5L1372.8,868.0L1373.1,873.5L1373.4,879.1L1373.8,884.7L1374.1,890.3L1374.4,896.0L1374.8,901.6L1375.1,907.3L1375.4,912.9L1375.8,918.4L1376.1,923.9L1376.5,929.3L1376.8,934.5L1377.1,939.6L1377.5,944.5L1377.8,949.2L1378.1,953.6L1378.5,957.8L1378.8,961.6L1379.1,965.1L1379.5,968.1L1379.8,970.8L1380.2,973.0L1380.5,974.7L1380.8,976.0L1381.2,976.7L1381.5,977.0L1381.8,975.4L1382.2,970.5L1382.5,962.7L1382.9,952.6L1383.2,940.6L1383.5,927.3L1383.9,913.3L1384.2,899.0L1384.6,884.6L1384.9,870.4L1385.2,856.5L1385.6,843.1L1385.9,830.2L1386.2,817.9L1386.6,806.3L1386.9,795.2L1387.3,784.7L1387.6,774.9L1387.9,765.7L1388.3,757.2L1388.6,749.3L1389.0,742.0L1389.3,735.4L1389.6,729.5L1390.0,724.4L1390.3,720.1L1390.7,716.8L1391.0,715.0L1391.3,715.6L1391.7,716.6L1392.0,718.0L1392.3,719.7L1392.7,721.5L1393.0,723.6L1393.3,725.9L1393.7,728.3L1394.0,730.9L1394.3,733.7L1394.7,736.7L1395.0,739.8L1395.3,743.0L1395.7,746.4L1396.0,749.9L1396.3,753.6L1396.7,757.4L1397.0,761.4L1397.3,765.5L1397.7,769.8L1398.0,774.2L1398.3,778.7L1398.7,783.4L1399.0,788.2L1399.3,793.1L1399.7,798.2L1400.0,803.4L1400.3,808.8L1400.7,814.3L1401.0,819.9L1401.4,825.6L1401.7,831.5L1402.0,837.5L1402.4,843.6L1402.7,849.8L1403.0,856.2L1403.4,862.6L1403.7,869.1L1404.0,875.7L1404.4,882.3L1404.7,889.0L1405.0,895.7L1405.4,902.3L1405.7,909.0L1406.0,915.5L1406.4,921.9L1406.7,928.2L1407.0,934.3L1407.4,940.1L1407.7,945.6L1408.0,950.7L1408.4,955.4L1408.7,959.6L1409.0,963.3L1409.4,966.4L1409.7,968.8L1410.0,970.6L1410.4,971.6L1410.7,972.0L1411.0,971.6L1411.4,970.6L1411.7,968.8L1412.1,966.3L1412.4,963.2L1412.7,959.4L1413.1,955.1L1413.4,950.4L1413.8,945.2L1414.1,939.6L1414.4,933.7L1414.8,927.6L1415.1,921.2L1415.4,914.7L1415.8,908.1L1416.1,901.4L1416.5,894.7L1416.8,888.0L1417.1,881.3L1417.5,874.7L1417.8,868.1L1418.2,861.6L1418.5,855.2L1418.8,849.0L1419.2,842.8L1419.5,836.7L1419.8,830.8L1420.2,825.0L1420.5,819.4L1420.9,813.9L1421.2,808.5L1421.5,803.3L1421.9,798.2L1422.2,793.3L1422.6,788.6L1422.9,784.0L1423.2,779.5L1423.6,775.2L1423.9,771.1L1424.3,767.2L1424.6,763.4L1424.9,759.7L1425.3,756.3L1425.6,753.0L1426.0,749.8L1426.3,746.9L1426.6,744.2L1427.0,741.6L1427.3,739.3L1427.6,737.2L1428.0,735.4L1428.3,733.8L1428.7,732.7L1429.0,732.0L1429.3,733.0L1429.7,734.8L1430.0,737.1L1430.3,739.9L1430.7,743.1L1431.0,746.6L1431.3,750.5L1431.7,754.7L1432.0,759.3L1432.3,764.1L1432.7,769.3L1433.0,774.8L1433.3,780.6L1433.7,786.7L1434.0,793.2L1434.3,800.0L1434.7,807.1L1435.0,814.5L1435.3,822.3L1435.7,830.5L1436.0,839.1L1436.3,848.0L1436.7,857.4L1437.0,867.2L1437.4,877.4L1437.7,888.1L1438.0,899.2L1438.4,910.8L1438.7,922.9L1439.0,935.6L1439.4,948.7L1439.7,962.3L1440.0,976.3L1440.4,990.8L1440.7,1005.5L1441.0,1020.3L1441.4,1035.1L1441.7,1049.6L1442.0,1063.2L1442.4,1075.6L1442.7,1086.1L1443.0,1094.2L1443.4,1099.3L1443.7,1101.0L1444.0,1100.0L1444.4,1097.1L1444.7,1092.3L1445.1,1085.8L1445.4,1078.0L1445.8,1069.0L1446.1,1059.3L1446.5,1049.1L1446.8,1038.6L1447.2,1028.1L1447.5,1017.7L1447.9,1007.6L1448.2,997.9L1448.6,988.7L1448.9,980.1L1449.3,972.1L1449.6,965.0L1450.0,958.7L1450.3,953.3L1450.7,949.2L1451.0,947.0L1451.3,948.8L1451.7,952.0L1452.0,956.3L1452.3,961.4L1452.7,967.3L1453.0,973.9L1453.3,981.1L1453.7,989.1L1454.0,997.7L1454.3,1007.0L1454.7,1016.9L1455.0,1027.6L1455.3,1039.0L1455.7,1051.1L1456.0,1064.0L1456.4,1077.6L1456.7,1092.0L1457.0,1107.2L1457.4,1123.1L1457.7,1139.8L1458.0,1157.0L1458.4,1174.5L1458.7,1192.1L1459.0,1209.3L1459.4,1225.3L1459.7,1239.4L1460.0,1250.5L1460.4,1257.6L1460.7,1260.0L1461.0,1254.9L1461.4,1240.7L1461.7,1220.1L1462.1,1195.9L1462.4,1170.4L1462.7,1145.1L1463.1,1120.6L1463.4,1097.3L1463.8,1075.4L1464.1,1054.8L1464.5,1035.5L1464.8,1017.5L1465.1,1000.6L1465.5,984.7L1465.8,969.8L1466.2,955.7L1466.5,942.5L1466.8,930.0L1467.2,918.3L1467.5,907.1L1467.9,896.6L1468.2,886.7L1468.5,877.3L1468.9,868.4L1469.2,860.1L1469.6,852.2L1469.9,844.7L1470.2,837.7L1470.6,831.1L1470.9,825.0L1471.3,819.3L1471.6,814.0L1472.0,809.1L1472.3,804.7L1472.6,800.8L1473.0,797.3L1473.3,794.4L1473.7,792.2L1474.0,791.0L1474.3,791.4L1474.7,792.2L1475.0,793.2L1475.4,794.4L1475.7,795.6L1476.0,796.9L1476.4,798.2L1476.7,799.6L1477.1,801.0L1477.4,802.3L1477.8,803.5L1478.1,804.8L1478.4,805.9L1478.8,806.9L1479.1,807.9L1479.5,808.7L1479.8,809.4L1480.1,810.0L1480.5,810.4L1480.8,810.7L1481.2,810.9L1481.5,811.0L1481.8,810.9L1482.2,810.4L1482.5,809.7L1482.8,808.7L1483.2,807.5L1483.5,805.9L1483.8,804.1L1484.2,802.1L1484.5,799.8L1484.8,797.3L1485.2,794.6L1485.5,791.8L1485.8,788.8L1486.2,785.6L1486.5,782.4L1486.8,779.1L1487.2,775.7L1487.5,772.3L1487.8,768.9L1488.2,765.5L1488.5,762.1L1488.8,758.8L1489.2,755.6L1489.5,752.4L1489.8,749.4L1490.2,746.5L1490.5,743.8L1490.8,741.2L1491.2,738.9L1491.5,736.9L1491.8,735.1L1492.2,733.7L1492.5,733.0L1492.8,734.7L1493.2,737.9L1493.5,742.0L1493.9,747.0L1494.2,752.6L1494.5,758.9L1494.9,765.8L1495.2,773.3L1495.6,781.4L1495.9,790.1L1496.2,799.3L1496.6,809.1L1496.9,819.4L1497.2,830.1L1497.6,841.4L1497.9,853.1L1498.3,865.1L1498.6,877.3L1498.9,889.7L1499.3,902.1L1499.6,914.2L1500.0,925.9L1500.3,936.6L1500.6,946.2L1501.0,954.1L1501.3,960.1L1501.7,963.8L1502.0,965.0L1502.3,964.7L1502.7,963.8L1503.0,962.4L1503.3,960.3L1503.7,957.8L1504.0,954.7L1504.3,951.1L1504.7,947.2L1505.0,942.8L1505.3,938.1L1505.7,933.2L1506.0,928.0L1506.3,922.7L1506.7,917.2L1507.0,911.7L1507.3,906.2L1507.7,900.6L1508.0,895.1L1508.3,889.7L1508.7,884.4L1509.0,879.2L1509.3,874.1L1509.7,869.3L1510.0,864.6L1510.3,860.2L1510.7,856.0L1511.0,852.1L1511.3,848.5L1511.7,845.2L1512.0,842.3L1512.3,839.9L1512.7,838.0L1513.0,837.0L1513.3,838.0L1513.7,839.9L1514.0,842.3L1514.3,845.1L1514.7,848.3L1515.0,851.9L1515.3,855.7L1515.7,859.8L1516.0,864.2L1516.3,868.8L1516.7,873.5L1517.0,878.5L1517.3,883.6L1517.7,888.8L1518.0,894.1L1518.3,899.5L1518.7,904.9L1519.0,910.3L1519.3,915.7L1519.7,921.0L1520.0,926.2L1520.3,931.2L1520.7,936.0L1521.0,940.6L1521.3,944.8L1521.7,948.6L1522.0,952.1L1522.3,955.0L1522.7,957.5L1523.0,959.5L1523.3,960.9L1523.7,961.7L1524.0,962.0L1524.3,961.1L1524.7,958.5L1525.0,954.2L1525.4,948.4L1525.7,941.3L1526.0,933.2L1526.4,924.2L1526.7,914.8L1527.1,905.0L1527.4,895.0L1527.8,885.2L1528.1,875.5L1528.4,866.1L1528.8,857.1L1529.1,848.6L1529.5,840.6L1529.8,833.3L1530.1,826.6L1530.5,820.8L1530.8,815.9L1531.2,812.1L1531.5,810.0L1531.8,812.0L1532.2,815.6L1532.5,820.4L1532.9,826.1L1533.2,832.6L1533.5,840.1L1533.9,848.3L1534.2,857.3L1534.6,867.2L1534.9,877.9L1535.2,889.5L1535.6,902.1L1535.9,915.7L1536.2,930.3L1536.6,946.2L1536.9,963.3L1537.3,981.8L1537.6,1001.8L1537.9,1023.6L1538.3,1047.2L1538.6,1072.8L1539.0,1100.5L1539.3,1130.1L1539.6,1161.1L1540.0,1192.1L1540.3,1220.1L1540.7,1240.5L1541.0,1248.0L1541.3,1246.2L1541.7,1241.1L1542.0,1232.8L1542.3,1222.1L1542.7,1209.5L1543.0,1195.7L1543.3,1181.1L1543.7,1166.1L1544.0,1151.2L1544.3,1136.4L1544.7,1121.9L1545.0,1107.9L1545.3,1094.4L1545.7,1081.4L1546.0,1068.9L1546.3,1057.0L1546.7,1045.7L1547.0,1034.8L1547.3,1024.5L1547.7,1014.7L1548.0,1005.4L1548.3,996.6L1548.7,988.2L1549.0,980.3L1549.3,972.9L1549.7,965.9L1550.0,959.4L1550.3,953.3L1550.7,947.6L1551.0,942.4L1551.3,937.7L1551.7,933.5L1552.0,929.8L1552.3,926.7L1552.7,924.3L1553.0,923.0L1553.2,923.1L1553.3,923.4L1553.5,923.9L1553.7,924.6L1553.8,925.5L1554.0,926.5L1554.2,927.8L1554.3,929.2L1554.5,930.7L1554.7,932.4L1554.8,934.3L1555.0,936.3L1555.2,938.4L1555.3,940.7L1555.5,943.1L1555.7,945.6L1555.8,948.2L1556.0,950.9L1556.2,953.7L1556.3,956.6L1556.5,959.6L1556.7,962.7L1556.8,965.8L1557.0,969.1L1557.2,972.3L1557.3,975.7L1557.5,979.0L1557.7,982.5L1557.8,985.9L1558.0,989.4L1558.2,992.9L1558.3,996.5L1558.5,1000.0L1558.7,1003.8L1558.8,1008.1L1559.0,1012.8L1559.2,1018.0L1559.3,1023.5L1559.5,1029.4L1559.7,1035.6L1559.8,1042.0L1560.0,1048.8L1560.2,1055.7L1560.3,1062.7L1560.5,1069.9L1560.7,1077.2L1560.8,1084.6L1561.0,1092.0L1561.2,1099.4L1561.3,1106.7L1561.5,1114.0L1561.7,1121.2L1561.8,1128.2L1562.0,1135.0L1562.2,1141.7L1562.3,1148.4L1562.5,1155.0L1562.7,1161.7L1562.8,1168.4L1563.0,1175.1L1563.2,1181.9L1563.3,1188.7L1563.5,1195.6L1563.7,1202.7L1563.8,1209.8L1564.0,1217.1L1564.2,1224.6L1564.3,1232.2L1564.5,1240.0L1564.7,1247.8L1564.8,1255.6L1565.0,1263.4L1565.2,1271.4L1565.3,1279.8L1565.5,1288.8L1565.7,1298.3L1565.8,1308.7L1566.0,1320.0L1566.2,1333.1L1566.3,1348.5L1566.5,1365.5L1566.7,1383.8L1566.8,1402.7L1567.0,1421.8L1567.2,1440.6L1567.3,1458.5L1567.5,1475.0L1567.7,1475.0L1567.8,1475.0L1568.0,1475.0L1568.2,1475.0L1568.3,1475.0L1568.5,1475.0L1568.7,1475.0L1568.8,1475.0L1569.0,1475.0L1569.2,1475.0L1569.3,1475.0L1569.5,1475.0L1569.7,1475.0L1569.8,1475.0L1570.0,1475.0L1570.2,1475.0L1570.3,1475.0L1570.5,1475.0L1570.7,1475.0L1570.8,1475.0L1571.0,1475.0L1571.2,1475.0L1571.3,1475.0L1571.5,1475.0L1571.7,1475.0L1571.8,1475.0L1572.0,1475.0L1572.2,1475.0L1572.3,1475.0L1572.5,1475.0L1572.7,1475.0L1572.8,1475.0L1573.0,1475.0L1573.2,1475.0L1573.3,1475.0L1573.5,1475.0L1573.7,1464.2L1573.8,1452.8L1574.0,1442.1L1574.2,1432.0L1574.3,1422.5L1574.5,1413.4L1574.7,1404.8L1574.8,1396.5L1575.0,1388.6L1575.2,1380.8L1575.3,1373.3L1575.5,1365.8L1575.7,1358.4L1575.8,1351.0L1576.0,1343.5L1576.2,1335.9L1576.3,1328.1L1576.5,1320.0L1576.7,1312.2L1576.8,1305.1L1577.0,1298.3L1577.2,1291.8L1577.3,1285.2L1577.5,1278.2L1577.7,1270.6L1577.8,1262.2L1578.0,1252.7L1578.2,1241.8L1578.3,1229.2L1578.5,1210.3L1578.7,1184.7L1578.8,1154.7L1579.0,1122.7L1579.2,1090.9L1579.3,1061.5L1579.5,1037.0L1579.7,1015.7L1579.8,994.7L1580.0,974.5L1580.2,955.4L1580.3,937.8L1580.5,922.2L1580.7,908.8L1580.8,898.0L1581.0,888.3L1581.2,878.7L1581.3,869.3L1581.5,860.1L1581.7,851.1L1581.8,842.3L1582.0,833.8L1582.2,825.5L1582.3,817.6L1582.5,809.9L1582.7,802.7L1582.8,795.7L1583.0,789.2L1583.2,783.0L1583.3,777.3L1583.5,772.0L1583.7,767.2L1583.8,762.9L1584.0,759.1L1584.2,755.8L1584.3,753.0L1584.5,750.9L1584.7,749.3L1584.8,748.3L1585.0,748.0L1585.3,749.1L1585.7,751.0L1586.0,753.6L1586.3,756.6L1586.7,760.1L1587.0,763.9L1587.4,768.2L1587.7,772.8L1588.0,777.7L1588.4,783.0L1588.7,788.6L1589.0,794.6L1589.4,800.8L1589.7,807.4L1590.1,814.4L1590.4,821.6L1590.7,829.2L1591.1,837.2L1591.4,845.4L1591.8,854.0L1592.1,863.0L1592.4,872.3L1592.8,881.9L1593.1,891.8L1593.4,902.0L1593.8,912.5L1594.1,923.2L1594.5,934.1L1594.8,945.1L1595.1,956.2L1595.5,967.1L1595.8,977.8L1596.1,988.1L1596.5,997.8L1596.8,1006.6L1597.2,1014.2L1597.5,1020.5L1597.8,1025.2L1598.2,1028.0L1598.5,1029.0L1598.8,1028.2L1599.2,1025.7L1599.5,1021.7L1599.9,1016.3L1600.2,1009.6L1600.5,1001.9L1600.9,993.4L1601.2,984.2L1601.5,974.6L1601.9,964.6L1602.2,954.6L1602.6,944.4L1602.9,934.4L1603.2,924.5L1603.6,914.7L1603.9,905.2L1604.3,896.0L1604.6,887.0L1604.9,878.4L1605.3,870.0L1605.6,862.0L1606.0,854.4L1606.3,847.0L1606.6,840.1L1607.0,833.4L1607.3,827.2L1607.7,821.3L1608.0,815.8L1608.3,810.6L1608.7,805.9L1609.0,801.5L1609.3,797.7L1609.7,794.3L1610.0,791.4L1610.4,789.2L1610.7,788.0L1611.0,790.1L1611.4,794.0L1611.7,799.1L1612.1,805.3L1612.4,812.3L1612.8,820.2L1613.1,828.9L1613.5,838.4L1613.8,848.8L1614.1,859.9L1614.5,871.8L1614.8,884.5L1615.2,897.9L1615.5,912.2L1615.9,927.1L1616.2,942.6L1616.5,958.5L1616.9,974.7L1617.2,990.8L1617.6,1006.4L1617.9,1020.7L1618.3,1033.2L1618.6,1042.8L1619.0,1048.9L1619.3,1051.0L1619.6,1050.9L1620.0,1050.5L1620.3,1049.8L1620.6,1048.9L1621.0,1047.8L1621.3,1046.4L1621.6,1044.8L1622.0,1042.9L1622.3,1040.8L1622.6,1038.5L1623.0,1036.0L1623.3,1033.3L1623.6,1030.4L1624.0,1027.4L1624.3,1024.2L1624.6,1020.9L1625.0,1017.4L1625.3,1013.8L1625.6,1010.1L1626.0,1006.3L1626.3,1002.5L1626.6,998.5L1627.0,994.5L1627.3,990.5L1627.6,986.4L1628.0,982.2L1628.3,978.1L1628.6,973.9L1629.0,969.6L1629.3,965.4L1629.6,961.2L1630.0,956.9L1630.3,952.7L1630.6,948.5L1631.0,944.3L1631.3,940.1L1631.6,935.9L1632.0,931.7L1632.3,927.6L1632.6,923.5L1633.0,919.4L1633.3,915.4L1633.6,911.3L1634.0,907.3L1634.3,903.4L1634.6,899.4L1635.0,895.5L1635.3,891.7L1635.6,887.8L1636.0,884.0L1636.3,880.3L1636.6,876.5L1637.0,872.9L1637.3,869.2L1637.6,865.6L1638.0,862.0L1638.3,858.5L1638.6,855.0L1639.0,851.5L1639.3,848.1L1639.6,844.7L1640.0,841.3L1640.3,838.0L1640.6,834.7L1641.0,831.4L1641.3,828.2L1641.7,825.0L1642.0,821.9L1642.3,818.7L1642.7,815.7L1643.0,812.6L1643.3,809.6L1643.7,806.6L1644.0,803.7L1644.3,800.7L1644.7,797.9L1645.0,795.0L1645.3,792.2L1645.7,789.4L1646.0,786.6L1646.3,783.9L1646.7,781.2L1647.0,778.5L1647.3,775.9L1647.7,773.3L1648.0,770.7L1648.3,768.2L1648.7,765.7L1649.0,763.2L1649.3,760.7L1649.7,758.3L1650.0,755.9L1650.3,753.5L1650.7,751.2L1651.0,748.8L1651.3,746.6L1651.7,744.3L1652.0,742.1L1652.3,739.9L1652.7,737.7L1653.0,735.5L1653.3,733.4L1653.7,731.3L1654.0,729.3L1654.3,727.2L1654.7,725.2L1655.0,723.3L1655.3,721.3L1655.7,719.4L1656.0,717.5L1656.3,715.7L1656.7,713.8L1657.0,712.0L1657.3,710.3L1657.7,708.5L1658.0,706.8L1658.3,705.2L1658.7,703.6L1659.0,702.0L1659.3,700.4L1659.7,698.9L1660.0,697.4L1660.3,696.0L1660.7,694.6L1661.0,693.3L1661.3,692.0L1661.7,690.8L1662.0,689.6L1662.3,688.6L1662.7,687.7L1663.0,687.0L1663.3,688.5L1663.7,691.3L1664.0,694.9L1664.3,699.3L1664.7,704.3L1665.0,709.9L1665.3,716.0L1665.7,722.8L1666.0,730.1L1666.3,737.9L1666.7,746.4L1667.0,755.4L1667.3,765.0L1667.7,775.3L1668.0,786.2L1668.3,797.9L1668.7,810.2L1669.0,823.3L1669.3,837.3L1669.7,852.1L1670.0,867.8L1670.3,884.4L1670.7,902.0L1671.0,920.6L1671.3,940.0L1671.7,960.3L1672.0,981.1L1672.3,1001.9L1672.7,1021.9L1673.0,1040.1L1673.3,1054.9L1673.7,1064.6L1674.0,1068.0L1674.3,1064.5L1674.7,1054.3L1675.0,1039.0L1675.3,1020.2L1675.7,999.5L1676.0,978.2L1676.3,957.0L1676.7,936.5L1677.0,916.8L1677.3,898.1L1677.7,880.4L1678.0,863.8L1678.3,848.1L1678.7,833.4L1679.0,819.6L1679.3,806.7L1679.7,794.6L1680.0,783.3L1680.3,772.7L1680.7,762.8L1681.0,753.7L1681.3,745.2L1681.7,737.4L1682.0,730.3L1682.3,723.8L1682.7,718.1L1683.0,713.1L1683.3,708.9L1683.7,705.7L1684.0,704.0L1684.3,704.7L1684.7,706.1L1685.0,707.8L1685.3,709.9L1685.7,712.2L1686.0,714.9L1686.3,717.7L1686.7,720.8L1687.0,724.2L1687.3,727.7L1687.7,731.5L1688.0,735.5L1688.3,739.7L1688.7,744.2L1689.0,748.8L1689.3,753.7L1689.7,758.8L1690.0,764.1L1690.3,769.6L1690.7,775.3L1691.0,781.3L1691.3,787.6L1691.7,794.1L1692.0,800.8L1692.3,807.9L1692.7,815.2L1693.0,822.7L1693.3,830.6L1693.7,838.8L1694.0,847.3L1694.3,856.2L1694.7,865.4L1695.0,874.9L1695.3,884.9L1695.7,895.2L1696.0,906.0L1696.3,917.1L1696.7,928.8L1697.0,940.8L1697.3,953.3L1697.7,966.2L1698.0,979.6L1698.3,993.3L1698.7,1007.3L1699.0,1021.6L1699.3,1035.9L1699.7,1050.0L1700.0,1063.8L1700.3,1076.7L1700.7,1088.3L1701.0,1098.2L1701.3,1105.7L1701.7,1110.4L1702.0,1112.0L1702.3,1110.6L1702.7,1106.5L1703.0,1099.8L1703.3,1091.1L1703.7,1080.7L1704.0,1069.0L1704.4,1056.5L1704.7,1043.4L1705.0,1030.1L1705.4,1016.7L1705.7,1003.5L1706.0,990.4L1706.4,977.7L1706.7,965.2L1707.0,953.1L1707.4,941.4L1707.7,930.1L1708.0,919.1L1708.4,908.5L1708.7,898.3L1709.1,888.4L1709.4,878.8L1709.7,869.6L1710.1,860.7L1710.4,852.1L1710.7,843.8L1711.1,835.8L1711.4,828.0L1711.7,820.5L1712.1,813.2L1712.4,806.2L1712.7,799.4L1713.1,792.8L1713.4,786.4L1713.8,780.2L1714.1,774.2L1714.4,768.4L1714.8,762.8L1715.1,757.4L1715.4,752.1L1715.8,747.0L1716.1,742.1L1716.4,737.4L1716.8,732.7L1717.1,728.3L1717.4,724.0L1717.8,719.8L1718.1,715.8L1718.5,712.0L1718.8,708.2L1719.1,704.7L1719.5,701.2L1719.8,697.9L1720.1,694.8L1720.5,691.8L1720.8,688.9L1721.1,686.2L1721.5,683.6L1721.8,681.2L1722.1,679.0L1722.5,676.9L1722.8,675.0L1723.2,673.3L1723.5,671.8L1723.8,670.5L1724.2,669.5L1724.5,669.0L1724.8,670.9L1725.2,674.5L1725.5,679.1L1725.9,684.6L1726.2,691.0L1726.5,698.0L1726.9,705.7L1727.2,714.1L1727.6,723.0L1727.9,732.5L1728.2,742.6L1728.6,753.2L1728.9,764.1L1729.3,775.5L1729.6,787.1L1729.9,798.8L1730.3,810.5L1730.6,821.9L1731.0,832.7L1731.3,842.8L1731.6,851.7L1732.0,859.0L1732.3,864.5L1732.7,867.9L1733.0,869.0L1733.3,868.0L1733.7,865.0L1734.0,860.1L1734.3,853.6L1734.7,845.6L1735.0,836.5L1735.3,826.5L1735.7,816.0L1736.0,805.1L1736.3,794.1L1736.7,783.0L1737.0,772.2L1737.3,761.6L1737.7,751.3L1738.0,741.4L1738.3,731.9L1738.7,722.8L1739.0,714.3L1739.3,706.3L1739.7,698.8L1740.0,691.9L1740.3,685.7L1740.7,680.0L1741.0,675.1L1741.3,670.9L1741.7,667.7L1742.0,666.0L1742.3,666.5L1742.7,667.4L1743.0,668.5L1743.3,669.6L1743.7,670.9L1744.0,672.3L1744.4,673.8L1744.7,675.4L1745.0,677.0L1745.4,678.8L1745.7,680.5L1746.0,682.4L1746.4,684.3L1746.7,686.3L1747.0,688.4L1747.4,690.5L1747.7,692.6L1748.1,694.9L1748.4,697.1L1748.7,699.5L1749.1,701.9L1749.4,704.3L1749.7,706.8L1750.1,709.3L1750.4,711.9L1750.7,714.6L1751.1,717.3L1751.4,720.0L1751.8,722.9L1752.1,725.7L1752.4,728.6L1752.8,731.6L1753.1,734.6L1753.4,737.7L1753.8,740.8L1754.1,743.9L1754.4,747.2L1754.8,750.4L1755.1,753.8L1755.5,757.1L1755.8,760.6L1756.1,764.0L1756.5,767.6L1756.8,771.2L1757.1,774.8L1757.5,778.5L1757.8,782.2L1758.2,786.0L1758.5,789.8L1758.8,793.7L1759.2,797.7L1759.5,801.6L1759.8,805.7L1760.2,809.8L1760.5,813.9L1760.8,818.1L1761.2,822.3L1761.5,826.5L1761.9,830.9L1762.2,835.2L1762.5,839.6L1762.9,844.0L1763.2,848.4L1763.5,852.9L1763.9,857.4L1764.2,861.9L1764.5,866.4L1764.9,870.9L1765.2,875.5L1765.6,880.0L1765.9,884.5L1766.2,889.0L1766.6,893.5L1766.9,897.9L1767.2,902.3L1767.6,906.6L1767.9,910.8L1768.2,915.0L1768.6,919.0L1768.9,923.0L1769.3,926.8L1769.6,930.4L1769.9,933.9L1770.3,937.3L1770.6,940.4L1770.9,943.3L1771.3,946.0L1771.6,948.4L1771.9,950.6L1772.3,952.6L1772.6,954.2L1773.0,955.6L1773.3,956.6L1773.6,957.4L1774.0,957.8L1774.3,958.0L1774.5,956.0L1774.6,954.0L1774.8,952.0L1775.0,950.0L1775.1,948.0L1775.3,946.0L1775.5,944.1L1775.6,942.1L1775.8,940.2L1776.0,938.3L1776.1,936.4L1776.3,934.6L1776.5,932.7L1776.6,930.9L1776.8,929.1L1777.0,927.3L1777.1,925.6L1777.3,923.9L1777.5,922.2L1777.6,920.5L1777.8,918.9L1778.0,917.3L1778.1,915.7L1778.3,914.2L1778.5,912.6L1778.6,911.1L1778.8,909.6L1779.0,908.2L1779.1,906.7L1779.3,905.3L1779.5,903.8L1779.6,902.4L1779.8,901.0L1780.0,899.7L1780.1,898.3L1780.3,896.9L1780.5,895.6L1780.6,894.3L1780.8,892.9L1781.0,891.6L1781.1,890.3L1781.3,889.0L1781.5,887.7L1781.6,886.4L1781.8,885.2L1782.0,883.9L1782.1,882.6L1782.3,881.4L1782.5,880.1L1782.6,878.9L1782.8,877.6L1783.0,876.4L1783.1,875.1L1783.3,873.9L1783.5,872.6L1783.6,871.4L1783.8,870.1L1784.0,868.9L1784.1,867.6L1784.3,866.4L1784.5,865.1L1784.6,863.8L1784.8,862.6L1785.0,861.3L1785.1,860.0L1785.3,858.7L1785.5,857.4L1785.6,856.1L1785.8,854.8L1786.0,853.5L1786.1,852.2L1786.3,850.8L1786.5,849.5L1786.6,848.1L1786.8,846.8L1787.0,845.5L1787.1,844.1L1787.3,842.7L1787.5,841.4L1787.6,840.0L1787.8,838.7L1788.0,837.3L1788.1,835.9L1788.3,834.6L1788.5,833.2L1788.6,831.8L1788.8,830.5L1789.0,829.1L1789.1,827.8L1789.3,826.4L1789.5,825.1L1789.6,823.7L1789.8,822.4L1790.0,821.0L1790.1,819.7L1790.3,818.3L1790.5,817.0L1790.6,815.7L1790.8,814.4L1791.0,813.1L1791.1,811.8L1791.3,810.5L1791.5,809.2L1791.6,807.9L1791.8,806.7L1792.0,805.4L1792.1,804.2L1792.3,803.0L1792.5,801.7L1792.6,800.5L1792.8,799.3L1793.0,798.2L1793.1,797.0L1793.3,795.8L1793.5,794.7L1793.6,793.6L1793.8,792.5L1794.0,791.4L1794.1,790.3L1794.3,789.2L1794.5,788.2L1794.6,787.1L1794.8,786.1L1795.0,785.1L1795.1,784.1L1795.3,783.2L1795.5,782.2L1795.6,781.2L1795.8,780.2L1796.0,779.3L1796.1,778.3L1796.3,777.3L1796.5,776.4L1796.6,775.4L1796.8,774.5L1797.0,773.5L1797.1,772.6L1797.3,771.7L1797.5,770.7L1797.6,769.8L1797.8,768.9L1798.0,768.0L1798.1,767.1L1798.3,766.2L1798.5,765.3L1798.6,764.4L1798.8,763.5L1799.0,762.6L1799.1,761.7L1799.3,760.9L1799.5,760.0L1799.6,759.2L1799.8,758.3L1800.0,757.5L1800.1,756.7L1800.3,755.9L1800.5,755.0L1800.6,754.2L1800.8,753.5L1801.0,752.7L1801.1,751.9L1801.3,751.1L1801.5,750.4L1801.6,749.6L1801.8,748.9L1802.0,748.2L1802.2,747.5L1802.3,746.7L1802.5,746.1L1802.7,745.4L1802.8,744.7L1803.0,744.0L1803.2,743.4L1803.3,742.7L1803.5,742.1L1803.7,741.5L1803.8,740.9L1804.0,740.3L1804.2,739.7L1804.3,739.2L1804.5,738.6L1804.7,738.1L1804.8,737.6L1805.0,737.0L1805.2,736.5L1805.3,736.0L1805.5,735.6L1805.7,735.1L1805.8,734.6L1806.0,734.1L1806.2,733.6L1806.3,733.1L1806.5,732.7L1806.7,732.2L1806.8,731.7L1807.0,731.3L1807.2,730.8L1807.3,730.4L1807.5,729.9L1807.7,729.5L1807.8,729.1L1808.0,728.6L1808.2,728.2L1808.3,727.8L1808.5,727.3L1808.7,726.9L1808.8,726.5L1809.0,726.1L1809.2,725.7L1809.3,725.3L1809.5,724.9L1809.7,724.5L1809.8,724.1L1810.0,723.7L1810.2,723.3L1810.3,723.0L1810.5,722.6L1810.7,722.2L1810.8,721.9L1811.0,721.5L1811.2,721.1L1811.3,720.8L1811.5,720.4L1811.7,720.1L1811.8,719.7L1812.0,719.4L1812.2,719.1L1812.3,718.7L1812.5,718.4L1812.7,718.1L1812.8,717.8L1813.0,717.4L1813.2,717.1L1813.3,716.8L1813.5,716.5L1813.7,716.2L1813.8,715.9L1814.0,715.6L1814.2,715.3L1814.3,715.1L1814.5,714.8L1814.7,714.5L1814.8,714.2L1815.0,714.0L1815.2,713.7L1815.3,713.4L1815.5,713.2L1815.7,712.9L1815.8,712.7L1816.0,712.4L1816.2,712.2L1816.3,711.9L1816.5,711.7L1816.7,711.5L1816.8,711.2L1817.0,711.0L1817.2,710.8L1817.3,710.6L1817.5,710.3L1817.7,710.1L1817.8,709.9L1818.0,709.7L1818.2,709.5L1818.3,709.3L1818.5,709.0L1818.7,708.8L1818.8,708.6L1819.0,708.4L1819.2,708.2L1819.3,708.0L1819.5,707.8L1819.7,707.6L1819.8,707.3L1820.0,707.1L1820.2,706.9L1820.3,706.7L1820.5,706.5L1820.7,706.3L1820.8,706.1L1821.0,705.9L1821.2,705.7L1821.3,705.5L1821.5,705.4L1821.7,705.2L1821.8,705.0L1822.0,704.8L1822.2,704.6L1822.3,704.4L1822.5,704.2L1822.7,704.1L1822.8,703.9L1823.0,703.7L1823.2,703.5L1823.3,703.4L1823.5,703.2L1823.7,703.0L1823.8,702.9L1824.0,702.7L1824.2,702.6L1824.3,702.4L1824.5,702.2L1824.7,702.1L1824.8,701.9L1825.0,701.8L1825.2,701.7L1825.3,701.5L1825.5,701.4L1825.7,701.2L1825.8,701.1L1826.0,701.0L1826.2,700.9L1826.3,700.7L1826.5,700.6L1826.7,700.5L1826.8,700.4L1827.0,700.3L1827.2,700.2L1827.3,700.1L1827.5,700.0L1827.7,699.9L1827.8,699.8L1828.0,699.7L1828.2,699.6L1828.3,699.5L1828.5,699.4L1828.7,699.3L1828.8,699.3L1829.0,699.2L1829.2,699.1L1829.3,699.1L1829.5,699.0L1830.5,699.0L1831.4,699.1L1832.4,699.1L1833.4,699.2L1834.4,699.3L1835.3,699.5L1836.3,699.6L1837.3,699.8L1838.2,700.0L1839.2,700.3L1840.2,700.5L1841.2,700.8L1842.1,701.1L1843.1,701.4L1844.1,701.8L1845.0,702.2L1846.0,702.5L1847.0,703.0L1847.9,703.4L1848.9,703.8L1849.9,704.3L1850.9,704.8L1851.8,705.2L1852.8,705.8L1853.8,706.3L1854.7,706.8L1855.7,707.3L1856.7,707.9L1857.7,708.4L1858.6,709.0L1859.6,709.6L1860.6,710.2L1861.5,710.7L1862.5,711.3L1863.5,711.9L1864.5,712.5L1865.4,713.1L1866.4,713.7L1867.4,714.3L1868.3,714.8L1869.3,715.4L1870.3,716.0L1871.3,716.6L1872.2,717.1L1873.2,717.7L1874.2,718.2L1875.1,718.7L1876.1,719.2L1877.1,719.8L1878.0,720.2L1879.0,720.7L1880.0,721.2L1881.0,721.6L1881.9,722.0L1882.9,722.5L1883.9,722.8L1884.8,723.2L1885.8,723.6L1886.8,723.9L1887.8,724.2L1888.7,724.5L1889.7,724.7L1890.7,725.0L1891.6,725.2L1892.6,725.4L1893.6,725.5L1894.6,725.7L1895.5,725.8L1896.5,725.9L1897.5,725.9L1898.4,726.0L1899.4,726.0L1900.4,726.0L1901.4,726.0L1902.3,726.0L1903.3,726.0L1904.3,726.0L1905.2,726.0L1906.2,726.0L1907.2,726.0L1908.2,726.0L1909.1,726.0L1910.1,726.0L1911.1,726.0L1912.0,726.0L1913.0,726.0L1914.0,726.0L1914.9,726.0L1915.9,726.0L1916.9,726.0L1917.9,726.0L1918.8,726.0L1919.8,726.0L1920.8,726.0L1921.7,726.0L1922.7,726.0L1923.7,726.0L1924.7,726.0L1925.6,726.0L1926.6,726.0" stroke="#0505ff" stroke-width="10"/>
<path d="M144.0,712.0L144.9,712.0L145.9,712.0L146.8,712.0L147.7,712.0L148.6,712.0L149.6,712.0L150.5,712.0L151.4,712.0L152.3,712.0L153.3,712.0L154.2,712.0L155.1,712.0L156.0,712.0L157.0,712.0L157.9,712.0L158.8,712.0L159.7,712.0L160.7,712.0L161.6,712.0L162.5,712.0L163.4,712.0L164.4,712.0L165.3,712.0L166.2,712.0L167.2,712.0L168.1,712.0L169.0,712.0L169.9,712.0L170.9,712.0L171.8,712.0L172.7,711.9L173.6,711.8L174.6,711.8L175.5,711.6L176.4,711.5L177.3,711.4L178.3,711.2L179.2,711.0L180.1,710.8L181.0,710.6L182.0,710.4L182.9,710.1L183.8,709.8L184.7,709.5L185.7,709.2L186.6,708.9L187.5,708.6L188.4,708.2L189.4,707.9L190.3,707.5L191.2,707.1L192.2,706.8L193.1,706.3L194.0,705.9L194.9,705.5L195.9,705.1L196.8,704.7L197.7,704.2L198.6,703.8L199.6,703.3L200.5,702.9L201.4,702.4L202.3,702.0L203.3,701.5L204.2,701.0L205.1,700.6L206.0,700.1L207.0,699.7L207.9,699.2L208.8,698.8L209.7,698.3L210.7,697.9L211.6,697.5L212.5,697.1L213.4,696.7L214.4,696.2L215.3,695.9L216.2,695.5L217.2,695.1L218.1,694.8L219.0,694.4L219.9,694.1L220.9,693.8L221.8,693.5L222.7,693.2L223.6,692.9L224.6,692.6L225.5,692.4L226.4,692.2L227.3,692.0L228.3,691.8L229.2,691.6L230.1,691.5L231.0,691.4L232.0,691.2L232.9,691.2L233.8,691.1L234.7,691.0L235.7,691.0L236.6,691.0L236.8,691.1L236.9,691.2L237.1,691.3L237.3,691.4L237.4,691.5L237.6,691.6L237.8,691.8L237.9,691.9L238.1,692.0L238.3,692.1L238.4,692.2L238.6,692.4L238.8,692.5L238.9,692.6L239.1,692.8L239.3,692.9L239.4,693.0L239.6,693.2L239.8,693.3L239.9,693.5L240.1,693.6L240.3,693.8L240.4,693.9L240.6,694.1L240.8,694.2L240.9,694.4L241.1,694.6L241.3,694.7L241.4,694.9L241.6,695.0L241.8,695.2L241.9,695.4L242.1,695.6L242.3,695.7L242.4,695.9L242.6,696.1L242.8,696.3L242.9,696.5L243.1,696.6L243.3,696.8L243.4,697.0L243.6,697.2L243.8,697.4L243.9,697.6L244.1,697.8L244.3,698.0L244.4,698.2L244.6,698.4L244.8,698.6L244.9,698.8L245.1,699.0L245.3,699.2L245.4,699.4L245.6,699.6L245.8,699.8L245.9,700.0L246.1,700.2L246.3,700.4L246.4,700.7L246.6,700.9L246.8,701.1L246.9,701.3L247.1,701.5L247.3,701.8L247.4,702.0L247.6,702.2L247.8,702.4L247.9,702.7L248.1,702.9L248.3,703.1L248.4,703.4L248.6,703.6L248.8,703.8L248.9,704.1L249.1,704.3L249.3,704.5L249.4,704.8L249.6,705.0L249.8,705.3L249.9,705.5L250.1,705.7L250.3,706.0L250.4,706.2L250.6,706.5L250.8,706.7L250.9,707.0L251.1,707.2L251.3,707.5L251.4,707.7L251.6,708.0L251.8,708.2L251.9,708.5L252.1,708.7L252.3,709.0L252.4,709.2L252.6,709.5L252.8,709.7L252.9,710.0L253.1,710.2L253.3,710.5L253.4,710.8L253.6,711.0L253.8,711.3L253.9,711.5L254.1,711.8L254.3,712.1L254.4,712.3L254.6,712.6L254.8,712.9L254.9,713.1L255.1,713.4L255.3,713.7L255.4,714.0L255.6,714.3L255.8,714.5L255.9,714.8L256.1,715.1L256.3,715.4L256.4,715.7L256.6,716.0L256.8,716.3L256.9,716.6L257.1,716.9L257.3,717.2L257.4,717.5L257.6,717.8L257.8,718.2L257.9,718.5L258.1,718.8L258.3,719.1L258.4,719.4L258.6,719.8L258.8,720.1L258.9,720.4L259.1,720.8L259.3,721.1L259.4,721.5L259.6,721.8L259.8,722.2L259.9,722.5L260.1,722.9L260.3,723.3L260.4,723.6L260.6,724.0L260.8,724.4L260.9,724.7L261.1,725.1L261.3,725.5L261.4,725.9L261.6,726.3L261.8,726.7L261.9,727.1L262.1,727.5L262.3,727.9L262.4,728.3L262.6,728.8L262.8,729.2L262.9,729.6L263.1,730.0L263.3,730.5L263.4,730.9L263.6,731.4L263.8,731.8L263.9,732.3L264.1,732.7L264.3,733.2L264.4,733.6L264.6,734.1L264.8,734.6L264.9,735.1L265.1,735.6L265.3,736.1L265.4,736.5L265.6,737.0L265.8,737.6L265.9,738.1L266.1,738.6L266.3,739.2L266.4,739.7L266.6,740.3L266.8,740.9L267.0,741.5L267.1,742.1L267.3,742.8L267.5,743.4L267.6,744.0L267.8,744.7L268.0,745.4L268.1,746.1L268.3,746.8L268.5,747.5L268.6,748.2L268.8,748.9L269.0,749.6L269.1,750.4L269.3,751.1L269.5,751.9L269.6,752.7L269.8,753.5L270.0,754.2L270.1,755.0L270.3,755.9L270.5,756.7L270.6,757.5L270.8,758.3L271.0,759.2L271.1,760.0L271.3,760.9L271.5,761.7L271.6,762.6L271.8,763.5L272.0,764.4L272.1,765.3L272.3,766.2L272.5,767.1L272.6,768.0L272.8,768.9L273.0,769.8L273.1,770.7L273.3,771.7L273.5,772.6L273.6,773.5L273.8,774.5L274.0,775.4L274.1,776.4L274.3,777.4L274.5,778.3L274.6,779.3L274.8,780.2L275.0,781.2L275.1,782.2L275.3,783.2L275.5,784.1L275.6,785.1L275.8,786.1L276.0,787.1L276.1,788.2L276.3,789.2L276.5,790.3L276.6,791.4L276.8,792.5L277.0,793.6L277.1,794.7L277.3,795.8L277.5,797.0L277.6,798.2L277.8,799.3L278.0,800.5L278.1,801.8L278.3,803.0L278.5,804.2L278.6,805.4L278.8,806.7L279.0,808.0L279.1,809.2L279.3,810.5L279.5,811.8L279.6,813.1L279.8,814.4L280.0,815.7L280.1,817.0L280.3,818.4L280.5,819.7L280.6,821.0L280.8,822.4L281.0,823.7L281.1,825.1L281.3,826.4L281.5,827.8L281.6,829.1L281.8,830.5L282.0,831.8L282.1,833.2L282.3,834.6L282.5,835.9L282.6,837.3L282.8,838.7L283.0,840.0L283.1,841.4L283.3,842.7L283.5,844.1L283.6,845.5L283.8,846.8L284.0,848.2L284.1,849.5L284.3,850.8L284.5,852.2L284.6,853.5L284.8,854.8L285.0,856.1L285.1,857.4L285.3,858.7L285.5,860.0L285.6,861.3L285.8,862.6L286.0,863.9L286.1,865.1L286.3,866.4L286.5,867.6L286.6,868.9L286.8,870.1L287.0,871.4L287.1,872.6L287.3,873.9L287.5,875.1L287.6,876.4L287.8,877.6L288.0,878.9L288.1,880.1L288.3,881.4L288.5,882.6L288.6,883.9L288.8,885.2L289.0,886.5L289.1,887.7L289.3,889.0L289.5,890.3L289.6,891.6L289.8,892.9L290.0,894.3L290.1,895.6L290.3,896.9L290.5,898.3L290.6,899.7L290.8,901.0L291.0,902.4L291.1,903.9L291.3,905.3L291.5,906.7L291.6,908.2L291.8,909.6L292.0,911.1L292.1,912.7L292.3,914.2L292.5,915.7L292.6,917.3L292.8,918.9L293.0,920.5L293.1,922.2L293.3,923.9L293.5,925.6L293.6,927.3L293.8,929.1L294.0,930.9L294.1,932.7L294.3,934.6L294.5,936.4L294.6,938.3L294.8,940.2L295.0,942.1L295.1,944.1L295.3,946.0L295.5,948.0L295.6,950.0L295.8,952.0L296.0,954.0L296.1,956.0L296.3,958.0L296.6,957.8L297.0,957.2L297.3,956.3L297.6,955.0L298.0,953.3L298.3,951.3L298.7,948.9L299.0,946.2L299.3,943.3L299.7,940.0L300.0,936.5L300.3,932.7L300.7,928.7L301.0,924.6L301.3,920.3L301.7,915.8L302.0,911.2L302.4,906.5L302.7,901.7L303.0,896.8L303.4,891.9L303.7,886.9L304.0,881.9L304.4,876.8L304.7,871.8L305.1,866.8L305.4,861.7L305.7,856.7L306.1,851.7L306.4,846.7L306.7,841.8L307.1,836.9L307.4,832.0L307.7,827.2L308.1,822.5L308.4,817.7L308.8,813.1L309.1,808.5L309.4,803.9L309.8,799.4L310.1,795.0L310.4,790.6L310.8,786.3L311.1,782.1L311.4,777.9L311.8,773.7L312.1,769.6L312.5,765.6L312.8,761.7L313.1,757.8L313.5,753.9L313.8,750.2L314.1,746.5L314.5,742.8L314.8,739.2L315.1,735.7L315.5,732.2L315.8,728.8L316.2,725.4L316.5,722.1L316.8,718.9L317.2,715.7L317.5,712.6L317.8,709.5L318.2,706.5L318.5,703.6L318.8,700.7L319.2,697.8L319.5,695.1L319.9,692.3L320.2,689.7L320.5,687.1L320.9,684.5L321.2,682.0L321.5,679.6L321.9,677.3L322.2,675.0L322.6,672.7L322.9,670.5L323.2,668.4L323.6,666.4L323.9,664.4L324.2,662.5L324.6,660.7L324.9,658.9L325.2,657.3L325.6,655.7L325.9,654.2L326.3,652.8L326.6,651.6L326.9,650.5L327.3,649.6L327.6,649.0L327.9,650.5L328.3,653.3L328.6,657.0L328.9,661.3L329.3,666.3L329.6,671.8L329.9,677.9L330.3,684.5L330.6,691.6L330.9,699.1L331.3,707.1L331.6,715.6L331.9,724.5L332.3,733.8L332.6,743.5L332.9,753.5L333.3,763.9L333.6,774.5L333.9,785.3L334.3,796.2L334.6,807.1L334.9,817.7L335.3,828.0L335.6,837.7L335.9,846.5L336.3,854.2L336.6,860.5L336.9,865.2L337.3,868.0L337.6,869.0L337.9,867.5L338.3,863.2L338.6,856.2L339.0,847.0L339.3,836.0L339.6,823.8L340.0,810.8L340.3,797.4L340.7,784.0L341.0,770.6L341.3,757.6L341.7,745.0L342.0,732.9L342.4,721.3L342.7,710.4L343.0,700.2L343.4,690.6L343.7,681.7L344.1,673.5L344.4,666.1L344.7,659.4L345.1,653.6L345.4,648.8L345.8,645.0L346.1,643.0L346.4,643.5L346.8,644.5L347.1,645.8L347.4,647.3L347.8,649.0L348.1,650.9L348.5,653.0L348.8,655.3L349.1,657.7L349.5,660.3L349.8,663.0L350.1,665.9L350.5,668.9L350.8,672.1L351.1,675.4L351.5,678.9L351.8,682.5L352.1,686.2L352.5,690.1L352.8,694.2L353.2,698.3L353.5,702.7L353.8,707.2L354.2,711.8L354.5,716.6L354.8,721.6L355.2,726.8L355.5,732.1L355.8,737.6L356.2,743.2L356.5,749.1L356.8,755.2L357.2,761.4L357.5,767.9L357.9,774.6L358.2,781.5L358.5,788.7L358.9,796.1L359.2,803.7L359.5,811.6L359.9,819.8L360.2,828.3L360.5,837.2L360.9,846.3L361.2,855.8L361.5,865.6L361.9,875.8L362.2,886.4L362.6,897.5L362.9,908.9L363.2,920.8L363.6,933.1L363.9,945.9L364.2,959.2L364.6,972.9L364.9,987.1L365.2,1001.5L365.6,1016.3L365.9,1031.2L366.2,1046.0L366.6,1060.4L366.9,1074.1L367.3,1086.5L367.6,1097.0L367.9,1105.1L368.3,1110.3L368.6,1112.0L368.9,1110.0L369.3,1104.3L369.6,1095.2L369.9,1083.5L370.3,1069.9L370.6,1055.1L370.9,1039.5L371.3,1023.7L371.6,1007.9L371.9,992.4L372.3,977.2L372.6,962.6L372.9,948.4L373.3,934.7L373.6,921.6L373.9,909.0L374.3,897.0L374.6,885.4L374.9,874.3L375.3,863.6L375.6,853.4L375.9,843.6L376.3,834.1L376.6,825.1L376.9,816.4L377.3,808.1L377.6,800.0L377.9,792.3L378.3,784.9L378.6,777.8L378.9,770.9L379.3,764.4L379.6,758.0L379.9,752.0L380.3,746.1L380.6,740.6L380.9,735.2L381.3,730.1L381.6,725.2L381.9,720.5L382.3,716.0L382.6,711.8L382.9,707.7L383.3,703.9L383.6,700.3L383.9,697.0L384.3,693.8L384.6,690.9L384.9,688.3L385.3,685.9L385.6,683.8L385.9,682.1L386.3,680.7L386.6,680.0L386.9,681.8L387.3,685.0L387.6,689.2L387.9,694.2L388.3,700.0L388.6,706.6L388.9,713.8L389.3,721.7L389.6,730.3L389.9,739.6L390.3,749.6L390.6,760.3L390.9,771.9L391.3,784.2L391.6,797.4L391.9,811.6L392.3,826.7L392.6,842.9L392.9,860.2L393.3,878.7L393.6,898.4L393.9,919.3L394.3,941.4L394.6,964.4L394.9,988.0L395.3,1011.4L395.6,1033.2L395.9,1051.4L396.3,1063.7L396.6,1068.0L396.9,1063.8L397.3,1051.9L397.6,1034.3L397.9,1013.1L398.3,990.3L398.6,967.1L398.9,944.3L399.3,922.5L399.6,901.7L399.9,882.1L400.3,863.7L400.6,846.3L400.9,830.1L401.3,814.8L401.6,800.5L401.9,787.0L402.3,774.4L402.6,762.5L402.9,751.4L403.3,741.0L403.6,731.2L403.9,722.0L404.3,713.5L404.6,705.5L404.9,698.1L405.3,691.3L405.6,685.1L405.9,679.4L406.3,674.4L406.6,670.0L406.9,666.3L407.3,663.5L407.6,662.0L407.9,662.7L408.3,663.6L408.6,664.7L408.9,665.8L409.3,667.0L409.6,668.3L409.9,669.7L410.3,671.1L410.6,672.5L410.9,674.0L411.3,675.5L411.6,677.1L411.9,678.7L412.3,680.4L412.6,682.1L412.9,683.8L413.3,685.5L413.6,687.3L413.9,689.1L414.3,691.0L414.6,692.9L414.9,694.8L415.3,696.7L415.6,698.7L415.9,700.7L416.3,702.7L416.6,704.8L416.9,706.9L417.3,709.0L417.6,711.1L417.9,713.3L418.3,715.5L418.6,717.8L418.9,720.0L419.3,722.3L419.6,724.6L419.9,727.0L420.3,729.4L420.6,731.8L420.9,734.2L421.3,736.7L421.6,739.2L421.9,741.7L422.3,744.3L422.6,746.9L422.9,749.5L423.3,752.2L423.6,754.9L423.9,757.6L424.3,760.4L424.6,763.2L424.9,766.0L425.3,768.8L425.6,771.7L425.9,774.6L426.3,777.6L426.6,780.6L426.9,783.6L427.3,786.7L427.6,789.8L427.9,792.9L428.3,796.1L428.6,799.3L428.9,802.6L429.3,805.8L429.6,809.2L430.0,812.5L430.3,815.9L430.6,819.4L431.0,822.9L431.3,826.4L431.6,830.0L432.0,833.6L432.3,837.2L432.6,840.9L433.0,844.6L433.3,848.4L433.6,852.2L434.0,856.1L434.3,860.0L434.6,864.0L435.0,867.9L435.3,872.0L435.6,876.1L436.0,880.2L436.3,884.4L436.6,888.6L437.0,892.8L437.3,897.1L437.6,901.5L438.0,905.8L438.3,910.3L438.6,914.7L439.0,919.2L439.3,923.7L439.6,928.3L440.0,932.9L440.3,937.5L440.6,942.1L441.0,946.8L441.3,951.5L441.6,956.1L442.0,960.8L442.3,965.5L442.6,970.2L443.0,974.9L443.3,979.5L443.6,984.1L444.0,988.7L444.3,993.2L444.6,997.7L445.0,1002.1L445.3,1006.4L445.6,1010.5L446.0,1014.6L446.3,1018.6L446.6,1022.3L447.0,1026.0L447.3,1029.4L447.6,1032.7L448.0,1035.7L448.3,1038.5L448.6,1041.0L449.0,1043.3L449.3,1045.3L449.6,1047.0L450.0,1048.5L450.3,1049.6L450.6,1050.4L451.0,1050.8L451.3,1051.0L451.6,1048.7L452.0,1042.1L452.3,1031.6L452.6,1018.3L453.0,1003.0L453.3,986.5L453.7,969.5L454.0,952.4L454.3,935.6L454.7,919.3L455.0,903.5L455.3,888.4L455.7,874.1L456.0,860.4L456.4,847.4L456.7,835.2L457.0,823.5L457.4,812.6L457.7,802.2L458.0,792.5L458.4,783.4L458.7,774.8L459.1,766.9L459.4,759.4L459.7,752.6L460.1,746.3L460.4,740.6L460.8,735.5L461.1,731.1L461.4,727.4L461.8,724.5L462.1,723.0L462.4,724.7L462.8,727.8L463.1,731.8L463.4,736.6L463.8,742.1L464.1,748.3L464.4,755.2L464.8,762.6L465.1,770.7L465.4,779.4L465.8,788.8L466.1,798.7L466.4,809.3L466.8,820.6L467.1,832.6L467.4,845.2L467.8,858.5L468.1,872.5L468.4,887.2L468.8,902.6L469.1,918.5L469.4,934.8L469.8,951.3L470.1,967.7L470.4,983.5L470.8,998.1L471.1,1010.8L471.4,1020.6L471.8,1026.9L472.1,1029.0L472.4,1027.6L472.8,1023.6L473.1,1017.0L473.4,1008.4L473.8,998.0L474.1,986.4L474.5,974.0L474.8,961.0L475.1,947.8L475.5,934.5L475.8,921.4L476.1,908.5L476.5,895.9L476.8,883.7L477.2,872.0L477.5,860.6L477.8,849.6L478.2,839.1L478.5,829.0L478.8,819.4L479.2,810.1L479.5,801.3L479.9,792.8L480.2,784.8L480.5,777.1L480.9,769.8L481.2,762.9L481.5,756.3L481.9,750.1L482.2,744.3L482.6,738.8L482.9,733.6L483.2,728.9L483.6,724.5L483.9,720.5L484.2,716.9L484.6,713.8L484.9,711.1L485.3,709.1L485.6,708.0L485.8,708.5L485.9,709.8L486.1,712.0L486.3,714.9L486.4,718.7L486.6,723.1L486.8,728.3L486.9,734.1L487.1,740.5L487.3,747.5L487.4,755.0L487.6,763.0L487.8,771.6L487.9,780.5L488.1,789.9L488.3,799.6L488.4,809.7L488.6,820.0L488.8,830.6L488.9,841.5L489.1,852.5L489.3,863.7L489.4,874.9L489.6,886.3L489.8,897.7L489.9,909.8L490.1,923.9L490.3,939.7L490.4,957.0L490.6,975.6L490.8,995.3L490.9,1015.9L491.1,1037.0L491.3,1061.5L491.4,1090.9L491.6,1122.7L491.8,1154.7L491.9,1184.7L492.1,1210.3L492.3,1229.2L492.4,1241.8L492.6,1252.7L492.8,1262.2L492.9,1270.6L493.1,1278.2L493.3,1285.2L493.4,1291.8L493.6,1298.3L493.8,1305.1L493.9,1312.2L494.1,1320.0L494.3,1328.1L494.4,1335.9L494.6,1343.5L494.8,1351.0L494.9,1358.4L495.1,1365.8L495.3,1373.3L495.4,1380.8L495.6,1388.6L495.8,1396.5L495.9,1404.8L496.1,1413.4L496.3,1422.5L496.4,1432.0L496.6,1442.1L496.8,1452.8L496.9,1464.2L497.1,1476.3L497.3,1480.5L497.4,1480.5L497.6,1480.5L497.8,1480.5L497.9,1480.5L498.1,1480.5L498.3,1480.5L498.4,1480.5L498.6,1480.5L498.8,1480.5L498.9,1480.5L499.1,1480.5L499.3,1480.5L499.4,1480.5L499.6,1480.5L499.8,1480.5L499.9,1480.5L500.1,1480.5L500.3,1480.5L500.4,1480.5L500.6,1480.5L500.8,1480.5L500.9,1480.5L501.1,1480.5L501.3,1480.5L501.4,1480.5L501.6,1480.5L501.8,1480.5L501.9,1480.5L502.1,1480.5L502.3,1480.5L502.4,1480.5L502.6,1480.5L502.8,1480.5L502.9,1480.5L503.1,1476.1L503.3,1458.5L503.4,1440.6L503.6,1421.8L503.8,1402.7L503.9,1383.8L504.1,1365.5L504.3,1348.5L504.4,1333.1L504.6,1320.0L504.8,1308.7L504.9,1298.3L505.1,1288.8L505.3,1279.8L505.4,1271.4L505.6,1263.4L505.8,1255.6L505.9,1247.8L506.1,1240.0L506.3,1232.2L506.4,1224.6L506.6,1217.1L506.8,1209.8L506.9,1202.7L507.1,1195.6L507.3,1188.7L507.4,1181.9L507.6,1175.1L507.8,1168.4L507.9,1161.7L508.1,1155.0L508.3,1148.4L508.4,1141.7L508.6,1135.0L508.8,1128.2L508.9,1121.2L509.1,1114.1L509.3,1106.9L509.4,1099.6L509.6,1092.2L509.8,1084.9L509.9,1077.6L510.1,1070.4L510.3,1063.2L510.4,1056.2L510.6,1049.3L510.8,1042.6L510.9,1036.2L511.1,1030.0L511.3,1024.1L511.4,1018.5L511.6,1013.2L511.8,1008.4L511.9,1004.0L512.1,1000.0L512.3,996.3L512.4,992.5L512.6,988.8L512.8,985.1L512.9,981.5L513.1,977.9L513.3,974.3L513.4,970.8L513.6,967.3L513.8,963.9L513.9,960.5L514.1,957.2L514.3,954.0L514.4,950.9L514.6,947.9L514.8,945.0L514.9,942.2L515.1,939.5L515.3,936.9L515.4,934.5L515.6,932.2L515.8,930.0L515.9,928.0L516.1,926.1L516.3,924.3L516.4,922.8L516.6,921.4L516.8,920.2L516.9,919.2L517.1,918.3L517.3,917.7L517.4,917.2L517.6,917.0L517.9,918.3L518.3,920.7L518.6,923.8L518.9,927.5L519.3,931.7L519.6,936.5L519.9,941.7L520.3,947.4L520.6,953.5L520.9,960.1L521.3,967.1L521.6,974.6L521.9,982.5L522.3,990.9L522.6,999.8L522.9,1009.2L523.3,1019.1L523.6,1029.5L523.9,1040.4L524.3,1051.9L524.6,1063.9L524.9,1076.6L525.3,1089.7L525.6,1103.5L525.9,1117.7L526.3,1132.5L526.6,1147.6L526.9,1162.9L527.3,1178.3L527.6,1193.4L527.9,1207.8L528.3,1220.9L528.6,1232.1L528.9,1240.7L529.3,1246.1L529.6,1248.0L529.9,1236.4L530.3,1207.0L530.6,1169.5L530.9,1130.9L531.3,1094.3L531.6,1060.6L531.9,1029.9L532.3,1002.1L532.6,976.7L532.9,953.5L533.3,932.3L533.6,912.6L533.9,894.5L534.3,877.6L534.6,862.0L534.9,847.3L535.3,833.7L535.6,820.9L535.9,808.8L536.3,797.6L536.6,787.0L536.9,777.1L537.3,767.7L537.6,759.0L537.9,750.8L538.3,743.2L538.6,736.0L538.9,729.4L539.3,723.3L539.6,717.7L539.9,712.7L540.3,708.1L540.6,704.2L540.9,700.9L541.3,698.4L541.6,697.0L541.9,701.6L542.3,710.1L542.6,721.4L542.9,735.0L543.3,750.9L543.6,769.1L543.9,789.5L544.3,812.0L544.6,836.6L544.9,862.9L545.3,890.1L545.6,916.7L545.9,939.9L546.3,956.2L546.6,962.0L546.9,961.7L547.3,960.6L547.6,959.0L547.9,956.6L548.3,953.7L548.6,950.1L548.9,946.1L549.3,941.5L549.6,936.6L549.9,931.3L550.3,925.8L550.6,920.0L550.9,914.1L551.3,908.1L551.6,902.0L551.9,895.9L552.3,889.9L552.6,883.9L552.9,878.0L553.3,872.3L553.6,866.7L553.9,861.3L554.3,856.1L554.6,851.2L554.9,846.5L555.3,842.0L555.6,837.9L555.9,834.1L556.3,830.7L556.6,827.6L556.9,825.1L557.3,823.1L557.6,822.0L557.9,823.1L558.3,825.1L558.6,827.7L558.9,830.8L559.3,834.2L559.6,838.1L559.9,842.3L560.3,846.8L560.6,851.5L560.9,856.6L561.3,861.8L561.6,867.3L561.9,873.0L562.3,878.8L562.6,884.8L562.9,890.9L563.3,897.1L563.6,903.3L563.9,909.5L564.3,915.7L564.6,921.7L564.9,927.6L565.3,933.3L565.6,938.8L565.9,943.8L566.3,948.5L566.6,952.7L566.9,956.4L567.3,959.4L567.6,961.8L567.9,963.6L568.3,964.7L568.6,965.0L568.9,954.7L569.3,928.0L569.6,893.0L570.0,856.6L570.3,822.1L570.7,790.8L571.0,762.9L571.4,738.4L571.7,717.3L572.1,699.4L572.4,684.8L572.8,673.9L573.1,668.0L573.4,668.6L573.8,669.8L574.1,671.2L574.4,673.0L574.8,675.0L575.1,677.2L575.4,679.6L575.8,682.1L576.1,684.9L576.4,687.7L576.8,690.8L577.1,693.9L577.4,697.2L577.8,700.7L578.1,704.2L578.4,707.8L578.8,711.6L579.1,715.4L579.4,719.4L579.8,723.4L580.1,727.4L580.4,731.6L580.8,735.8L581.1,740.0L581.4,744.3L581.8,748.5L582.1,752.8L582.4,757.1L582.8,761.3L583.1,765.5L583.4,769.6L583.8,773.6L584.1,777.6L584.4,781.4L584.8,785.1L585.1,788.6L585.4,791.9L585.8,795.1L586.1,798.0L586.4,800.6L586.8,803.0L587.1,805.1L587.4,806.9L587.8,808.4L588.1,809.5L588.4,810.3L588.8,810.8L589.1,811.0L589.4,810.9L589.8,810.5L590.1,809.9L590.5,809.1L590.8,808.0L591.1,806.7L591.5,805.2L591.8,803.5L592.2,801.6L592.5,799.6L592.8,797.4L593.2,795.2L593.5,792.9L593.9,790.5L594.2,788.2L594.6,785.9L594.9,783.7L595.2,781.6L595.6,779.7L595.9,778.0L596.3,776.7L596.6,776.0L596.9,777.2L597.3,779.4L597.6,782.3L598.0,785.8L598.3,789.7L598.6,794.2L599.0,799.0L599.3,804.4L599.7,810.1L600.0,816.3L600.4,822.8L600.7,829.9L601.0,837.4L601.4,845.3L601.7,853.7L602.1,862.6L602.4,872.1L602.7,882.1L603.1,892.6L603.4,903.8L603.8,915.7L604.1,928.3L604.4,941.6L604.8,955.8L605.1,970.9L605.5,987.0L605.8,1004.2L606.1,1022.5L606.5,1042.2L606.8,1063.3L607.2,1085.8L607.5,1109.9L607.9,1135.5L608.2,1162.2L608.5,1189.4L608.9,1215.6L609.2,1238.3L609.6,1254.2L609.9,1260.0L610.2,1257.6L610.6,1250.5L610.9,1239.4L611.2,1225.3L611.6,1209.3L611.9,1192.1L612.2,1174.5L612.6,1157.0L612.9,1139.8L613.2,1123.1L613.6,1107.2L613.9,1092.0L614.2,1077.6L614.6,1064.0L614.9,1051.1L615.3,1039.0L615.6,1027.6L615.9,1016.9L616.3,1007.0L616.6,997.7L616.9,989.1L617.3,981.1L617.6,973.9L617.9,967.3L618.3,961.4L618.6,956.3L618.9,952.0L619.3,948.8L619.6,947.0L619.9,949.2L620.3,953.3L620.6,958.7L621.0,965.0L621.3,972.1L621.7,980.1L622.0,988.7L622.4,997.9L622.7,1007.6L623.1,1017.7L623.4,1028.1L623.8,1038.6L624.1,1049.1L624.5,1059.3L624.8,1069.0L625.2,1078.0L625.5,1085.8L625.9,1092.3L626.2,1097.1L626.6,1100.0L626.9,1101.0L627.2,1099.0L627.6,1093.2L627.9,1083.9L628.2,1072.0L628.6,1058.2L628.9,1043.1L629.2,1027.4L629.6,1011.4L629.9,995.5L630.2,979.8L630.6,964.6L630.9,949.9L631.2,935.7L631.6,922.1L631.9,909.0L632.2,896.5L632.6,884.6L632.9,873.2L633.2,862.2L633.6,851.8L633.9,841.8L634.2,832.3L634.6,823.2L634.9,814.5L635.3,806.2L635.6,798.3L635.9,790.8L636.3,783.6L636.6,776.7L636.9,770.2L637.3,764.0L637.6,758.1L637.9,752.6L638.3,747.4L638.6,742.5L638.9,737.9L639.3,733.6L639.6,729.7L639.9,726.2L640.3,722.9L640.6,720.1L640.9,717.8L641.3,716.0L641.6,715.0L641.9,715.7L642.3,716.9L642.6,718.5L643.0,720.3L643.3,722.5L643.6,724.9L644.0,727.4L644.3,730.3L644.6,733.3L645.0,736.4L645.3,739.8L645.7,743.4L646.0,747.1L646.3,751.0L646.7,755.1L647.0,759.3L647.4,763.8L647.7,768.3L648.0,773.1L648.4,778.0L648.7,783.1L649.1,788.4L649.4,793.8L649.7,799.4L650.1,805.1L650.4,811.0L650.8,817.1L651.1,823.3L651.4,829.6L651.8,836.2L652.1,842.8L652.4,849.6L652.8,856.5L653.1,863.6L653.5,870.7L653.8,877.9L654.1,885.2L654.5,892.4L654.8,899.7L655.2,907.0L655.5,914.2L655.8,921.2L656.2,928.1L656.5,934.7L656.8,941.0L657.2,947.0L657.5,952.4L657.9,957.4L658.2,961.7L658.5,965.3L658.9,968.2L659.2,970.3L659.6,971.6L659.9,972.0L660.2,971.6L660.6,970.3L660.9,968.2L661.2,965.3L661.6,961.7L661.9,957.4L662.2,952.4L662.6,947.0L662.9,941.0L663.2,934.7L663.6,928.1L663.9,921.2L664.2,914.1L664.6,906.9L664.9,899.6L665.2,892.3L665.6,884.9L665.9,877.6L666.2,870.3L666.6,863.0L666.9,855.9L667.2,848.8L667.6,841.9L667.9,835.0L668.2,828.3L668.6,821.7L668.9,815.2L669.2,808.9L669.6,802.7L669.9,796.7L670.2,790.7L670.6,785.0L670.9,779.3L671.2,773.8L671.6,768.4L671.9,763.2L672.3,758.1L672.6,753.1L672.9,748.3L673.3,743.6L673.6,739.0L673.9,734.5L674.3,730.2L674.6,726.0L674.9,721.9L675.3,717.9L675.6,714.1L675.9,710.3L676.3,706.7L676.6,703.3L676.9,699.9L677.3,696.7L677.6,693.5L677.9,690.5L678.3,687.7L678.6,684.9L678.9,682.3L679.3,679.8L679.6,677.5L679.9,675.3L680.3,673.2L680.6,671.3L680.9,669.5L681.3,668.0L681.6,666.6L681.9,665.4L682.3,664.5L682.6,664.0L682.9,667.4L683.3,673.6L683.6,681.7L684.0,691.6L684.3,703.1L684.7,716.1L685.0,730.7L685.3,746.9L685.7,764.8L686.0,784.5L686.4,805.9L686.7,829.2L687.0,854.1L687.4,880.4L687.7,907.3L688.1,933.2L688.4,955.7L688.8,971.4L689.1,977.0L689.4,976.3L689.8,974.4L690.1,971.1L690.4,966.7L690.8,961.2L691.1,954.7L691.5,947.5L691.8,939.7L692.1,931.3L692.5,922.6L692.8,913.7L693.1,904.6L693.5,895.4L693.8,886.2L694.1,877.0L694.5,868.0L694.8,859.1L695.2,850.3L695.5,841.8L695.8,833.4L696.2,825.2L696.5,817.2L696.8,809.5L697.2,801.9L697.5,794.6L697.8,787.5L698.2,780.6L698.5,774.0L698.9,767.5L699.2,761.3L699.5,755.3L699.9,749.5L700.2,743.9L700.5,738.5L700.9,733.3L701.2,728.3L701.6,723.5L701.9,719.0L702.2,714.6L702.6,710.4L702.9,706.5L703.2,702.7L703.6,699.2L703.9,695.8L704.2,692.7L704.6,689.9L704.9,687.2L705.3,684.9L705.6,682.8L705.9,681.1L706.3,679.7L706.6,679.0L706.8,679.0L706.9,679.0L707.1,679.0L707.3,679.1L707.4,679.1L707.6,679.2L707.8,679.3L707.9,679.3L708.1,679.4L708.3,679.5L708.4,679.6L708.6,679.8L708.8,679.9L708.9,680.0L709.1,680.2L709.3,680.3L709.4,680.5L709.6,680.7L709.8,680.9L709.9,681.1L710.1,681.3L710.3,681.5L710.4,681.7L710.6,682.0L710.8,682.2L710.9,682.5L711.1,682.7L711.3,683.0L711.4,683.3L711.6,683.5L711.8,683.8L711.9,684.1L712.1,684.4L712.3,684.8L712.4,685.1L712.6,685.4L712.8,685.8L712.9,686.1L713.1,686.5L713.3,686.8L713.4,687.2L713.6,687.6L713.8,688.0L713.9,688.4L714.1,688.8L714.3,689.2L714.4,689.6L714.6,690.0L714.8,690.4L714.9,690.9L715.1,691.3L715.3,691.7L715.4,692.2L715.6,692.6L715.8,693.1L715.9,693.6L716.1,694.1L716.3,694.5L716.4,695.0L716.6,695.5L716.8,696.0L716.9,696.5L717.1,697.0L717.3,697.5L717.4,698.1L717.6,698.6L717.8,699.1L717.9,699.7L718.1,700.2L718.3,700.7L718.4,701.3L718.6,701.8L718.8,702.4L718.9,703.0L719.1,703.5L719.3,704.1L719.4,704.7L719.6,705.2L719.8,705.8L719.9,706.4L720.1,707.0L720.3,707.6L720.4,708.2L720.6,708.8L720.8,709.4L720.9,710.0L721.1,710.6L721.3,711.2L721.4,711.8L721.6,712.5L721.8,713.1L721.9,713.7L722.1,714.3L722.3,714.9L722.4,715.6L722.6,716.2L722.8,716.8L722.9,717.5L723.1,718.1L723.3,718.8L723.4,719.4L723.6,720.1L723.8,720.7L723.9,721.4L724.1,722.0L724.3,722.7L724.4,723.5L724.6,724.3L724.8,725.2L724.9,726.2L725.1,727.2L725.3,728.3L725.4,729.4L725.6,730.5L725.8,731.7L725.9,732.9L726.1,734.1L726.3,735.4L726.4,736.6L726.6,737.9L726.8,739.1L726.9,740.4L727.1,741.6L727.3,742.8L727.4,744.0L727.6,745.1L727.8,746.2L727.9,747.3L728.1,748.3L728.3,749.3L728.4,750.2L728.6,751.0L728.8,751.8L728.9,752.5L729.1,753.2L729.3,753.9L729.4,754.5L729.6,755.1L729.8,755.7L729.9,756.2L730.1,756.8L730.3,757.3L730.4,757.8L730.6,758.4L730.8,758.9L730.9,759.4L731.1,759.9L731.3,760.5L731.4,761.0L731.6,761.6L731.8,762.2L731.9,762.8L732.1,763.4L732.3,764.1L732.4,764.8L732.6,765.5L732.8,766.3L732.9,767.1L733.1,768.0L733.3,768.9L733.4,769.9L733.6,771.0L733.8,772.1L733.9,773.2L734.1,774.5L734.3,775.7L734.4,777.0L734.6,778.4L734.8,779.9L734.9,781.3L735.1,782.9L735.3,784.5L735.4,786.1L735.6,787.8L735.8,789.5L735.9,791.3L736.1,793.1L736.3,795.0L736.4,796.9L736.6,798.9L736.8,800.9L736.9,802.9L737.1,805.0L737.3,807.2L737.4,809.6L737.6,812.2L737.8,814.9L737.9,817.8L738.1,820.8L738.3,823.9L738.4,827.2L738.6,830.5L738.8,834.0L738.9,837.5L739.1,841.1L739.3,844.7L739.4,848.4L739.6,852.1L739.8,855.8L739.9,859.6L740.1,863.3L740.3,867.0L740.4,870.7L740.6,874.4L740.8,878.0L740.9,881.5L741.1,885.0L741.3,888.4L741.4,891.9L741.6,895.3L741.8,898.7L741.9,902.2L742.1,905.7L742.3,909.1L742.4,912.6L742.6,916.1L742.8,919.6L742.9,923.1L743.1,926.6L743.3,930.1L743.4,933.6L743.6,937.1L743.8,940.7L743.9,944.2L744.1,947.7L744.3,951.3L744.4,954.9L744.6,958.4L744.8,962.0L744.9,965.6L745.1,969.2L745.3,972.8L745.4,976.4L745.6,980.0L745.9,978.3L746.3,973.3L746.6,965.2L746.9,954.8L747.3,942.4L747.6,928.8L747.9,914.5L748.3,899.9L748.6,885.3L748.9,870.9L749.3,856.9L749.6,843.4L749.9,830.5L750.3,818.2L750.6,806.5L750.9,795.5L751.3,785.1L751.6,775.4L751.9,766.4L752.3,758.1L752.6,750.4L752.9,743.5L753.3,737.3L753.6,731.9L753.9,727.3L754.3,723.9L754.6,722.0L754.9,723.8L755.3,727.2L755.6,731.5L755.9,736.7L756.3,742.7L756.6,749.3L756.9,756.7L757.3,764.6L757.6,773.2L757.9,782.3L758.3,792.1L758.6,802.4L758.9,813.3L759.3,824.7L759.6,836.5L759.9,848.8L760.3,861.4L760.6,874.2L760.9,887.0L761.3,899.6L761.6,911.7L761.9,923.0L762.3,933.0L762.6,941.4L762.9,947.8L763.3,951.7L763.6,953.0L763.9,952.2L764.3,949.8L764.6,945.9L764.9,940.6L765.3,934.1L765.6,926.5L766.0,918.1L766.3,909.1L766.6,899.6L767.0,889.8L767.3,879.8L767.6,869.8L768.0,859.7L768.3,849.8L768.7,840.1L769.0,830.5L769.3,821.2L769.7,812.1L770.0,803.3L770.3,794.8L770.7,786.5L771.0,778.6L771.4,771.0L771.7,763.7L772.0,756.7L772.4,749.9L772.7,743.5L773.0,737.5L773.4,731.7L773.7,726.2L774.1,721.1L774.4,716.2L774.7,711.8L775.1,707.6L775.4,703.8L775.8,700.4L776.1,697.5L776.4,695.0L776.8,693.0L777.1,692.0L777.4,696.5L777.8,704.8L778.1,715.8L778.4,729.2L778.8,744.6L779.1,762.2L779.4,781.8L779.8,803.4L780.1,826.7L780.4,851.3L780.8,876.4L781.1,900.4L781.4,920.9L781.8,935.0L782.1,940.0L782.4,939.4L782.8,937.5L783.1,934.4L783.4,930.2L783.8,924.9L784.1,918.9L784.4,912.1L784.8,904.9L785.1,897.5L785.4,889.9L785.8,882.4L786.1,875.1L786.4,868.1L786.8,861.7L787.1,855.9L787.4,851.0L787.8,847.1L788.1,845.0L788.4,847.3L788.8,851.5L789.1,856.9L789.5,863.3L789.8,870.5L790.2,878.4L790.5,886.8L790.8,895.7L791.2,904.8L791.5,914.0L791.9,923.3L792.2,932.2L792.5,940.7L792.9,948.4L793.2,955.1L793.6,960.6L793.9,964.7L794.3,967.2L794.6,968.0L794.9,964.7L795.3,955.3L795.6,940.8L795.9,923.1L796.3,903.6L796.6,883.6L796.9,864.1L797.3,845.5L797.6,828.2L797.9,812.4L798.3,798.4L798.6,786.1L798.9,776.0L799.3,768.2L799.6,764.0L799.9,766.5L800.3,771.1L800.6,777.0L801.0,784.0L801.3,791.9L801.7,800.6L802.0,810.0L802.3,820.0L802.7,830.3L803.0,841.0L803.4,851.7L803.7,862.2L804.0,872.3L804.4,881.7L804.7,889.9L805.1,896.7L805.4,901.8L805.8,905.0L806.1,906.0L806.4,905.5L806.8,904.0L807.1,901.5L807.5,898.1L807.8,893.9L808.1,888.8L808.5,883.2L808.8,877.0L809.2,870.5L809.5,863.7L809.8,856.8L810.2,849.8L810.5,842.9L810.9,836.2L811.2,829.7L811.6,823.5L811.9,817.8L812.2,812.5L812.6,807.8L812.9,803.8L813.3,800.7L813.6,799.0L813.9,800.3L814.3,802.6L814.6,805.6L814.9,809.2L815.3,813.3L815.6,817.8L815.9,822.8L816.3,828.2L816.6,833.9L816.9,840.0L817.3,846.5L817.6,853.3L817.9,860.4L818.3,867.8L818.6,875.5L818.9,883.5L819.3,891.7L819.6,900.0L819.9,908.6L820.3,917.2L820.6,925.9L820.9,934.6L821.3,943.1L821.6,951.4L821.9,959.4L822.3,966.9L822.6,973.8L822.9,979.9L823.3,985.2L823.6,989.4L823.9,992.5L824.3,994.4L824.6,995.0L824.9,994.4L825.3,992.6L825.6,989.6L825.9,985.5L826.3,980.4L826.6,974.4L826.9,967.7L827.3,960.3L827.6,952.5L827.9,944.4L828.3,936.0L828.6,927.5L828.9,919.0L829.3,910.5L829.6,902.1L829.9,893.8L830.3,885.7L830.6,877.9L830.9,870.3L831.3,862.9L831.6,855.9L831.9,849.1L832.3,842.7L832.6,836.7L832.9,831.0L833.3,825.6L833.6,820.7L833.9,816.2L834.3,812.1L834.6,808.6L834.9,805.6L835.3,803.3L835.6,802.0L835.9,803.5L836.3,806.2L836.6,809.7L837.0,813.8L837.3,818.3L837.6,823.3L838.0,828.6L838.3,834.1L838.7,839.7L839.0,845.5L839.3,851.2L839.7,856.9L840.0,862.4L840.4,867.6L840.7,872.5L841.1,876.9L841.4,880.8L841.7,884.0L842.1,886.6L842.4,888.5L842.8,889.6L843.1,890.0L843.4,889.6L843.8,888.3L844.1,886.3L844.5,883.5L844.8,879.9L845.1,875.7L845.5,870.8L845.8,865.4L846.1,859.6L846.5,853.5L846.8,847.0L847.2,840.3L847.5,833.5L847.8,826.5L848.2,819.6L848.5,812.6L848.8,805.7L849.2,798.9L849.5,792.1L849.9,785.5L850.2,779.1L850.5,772.9L850.9,766.8L851.2,761.0L851.5,755.4L851.9,750.0L852.2,744.9L852.6,740.0L852.9,735.4L853.2,731.1L853.6,727.2L853.9,723.5L854.2,720.2L854.6,717.3L854.9,714.9L855.3,713.0L855.6,712.0L855.9,713.9L856.3,717.4L856.6,721.9L856.9,727.2L857.3,733.3L857.6,740.0L857.9,747.2L858.3,755.0L858.6,763.2L858.9,771.7L859.3,780.6L859.6,789.6L860.0,798.7L860.3,807.8L860.6,816.6L861.0,825.1L861.3,833.0L861.6,840.2L862.0,846.3L862.3,851.3L862.6,855.0L863.0,857.3L863.3,858.0L863.5,857.5L863.6,856.0L863.8,853.6L864.0,850.7L864.1,847.8L864.3,846.0L864.5,846.9L864.6,848.4L864.8,849.8L865.0,851.0L865.1,851.8L865.3,852.0L865.6,851.6L866.0,850.3L866.3,848.2L866.7,845.2L867.0,841.6L867.4,837.2L867.7,832.3L868.1,826.9L868.4,821.2L868.8,815.2L869.1,809.1L869.5,802.9L869.8,796.8L870.2,790.9L870.5,785.2L870.9,779.8L871.2,774.8L871.6,770.4L871.9,766.6L872.3,763.6L872.6,762.0L872.9,764.0L873.3,767.7L873.6,772.4L873.9,778.0L874.3,784.3L874.6,791.3L874.9,798.7L875.3,806.6L875.6,814.9L875.9,823.3L876.3,831.9L876.6,840.5L876.9,848.8L877.3,856.9L877.6,864.4L877.9,871.1L878.3,877.0L878.6,881.7L878.9,885.2L879.3,887.3L879.6,888.0L879.9,887.7L880.3,886.8L880.6,885.3L880.9,883.2L881.3,880.5L881.6,877.3L881.9,873.7L882.3,869.7L882.6,865.4L882.9,860.8L883.3,856.1L883.6,851.2L883.9,846.4L884.3,841.7L884.6,837.1L884.9,832.7L885.3,828.6L885.6,825.0L885.9,821.8L886.3,819.4L886.6,818.0L886.9,819.1L887.3,821.2L887.6,823.9L887.9,827.1L888.3,830.8L888.6,835.0L888.9,839.5L889.3,844.4L889.6,849.7L889.9,855.3L890.3,861.3L890.6,867.7L890.9,874.5L891.3,881.6L891.6,889.1L891.9,897.0L892.3,905.3L892.6,913.9L892.9,923.0L893.3,932.5L893.6,942.4L893.9,952.6L894.3,963.4L894.6,974.5L894.9,986.0L895.3,997.9L895.6,1010.1L895.9,1022.6L896.3,1035.3L896.6,1048.0L896.9,1060.7L897.3,1073.1L897.6,1085.0L897.9,1096.0L898.3,1105.7L898.6,1113.8L898.9,1119.9L899.3,1123.7L899.6,1125.0L899.9,1124.3L900.3,1122.3L900.6,1119.1L900.9,1114.6L901.3,1109.0L901.6,1102.6L902.0,1095.3L902.3,1087.5L902.6,1079.1L903.0,1070.3L903.3,1061.3L903.6,1052.2L904.0,1042.9L904.3,1033.7L904.6,1024.5L905.0,1015.3L905.3,1006.3L905.6,997.5L906.0,988.7L906.3,980.2L906.7,971.9L907.0,963.7L907.3,955.8L907.7,948.0L908.0,940.4L908.3,933.1L908.7,925.9L909.0,919.0L909.3,912.2L909.7,905.6L910.0,899.2L910.3,893.0L910.7,887.0L911.0,881.1L911.4,875.4L911.7,869.9L912.0,864.6L912.4,859.4L912.7,854.3L913.0,849.5L913.4,844.7L913.7,840.2L914.0,835.7L914.4,831.5L914.7,827.4L915.1,823.4L915.4,819.6L915.7,815.9L916.1,812.3L916.4,808.9L916.7,805.7L917.1,802.6L917.4,799.6L917.7,796.8L918.1,794.2L918.4,791.7L918.7,789.3L919.1,787.2L919.4,785.2L919.8,783.4L920.1,781.9L920.4,780.6L920.8,779.6L921.1,779.0L921.4,779.7L921.8,780.9L922.1,782.5L922.4,784.3L922.8,786.5L923.1,788.8L923.5,791.4L923.8,794.3L924.1,797.3L924.5,800.5L924.8,803.9L925.1,807.5L925.5,811.3L925.8,815.3L926.1,819.5L926.5,823.8L926.8,828.4L927.2,833.2L927.5,838.1L927.8,843.3L928.2,848.6L928.5,854.2L928.8,860.0L929.2,866.0L929.5,872.3L929.8,878.8L930.2,885.5L930.5,892.5L930.8,899.7L931.2,907.3L931.5,915.1L931.9,923.2L932.2,931.6L932.5,940.4L932.9,949.5L933.2,959.0L933.5,968.9L933.9,979.1L934.2,989.8L934.5,1001.0L934.9,1012.5L935.2,1024.6L935.6,1037.2L935.9,1050.3L936.2,1063.9L936.6,1078.0L936.9,1092.6L937.2,1107.7L937.6,1123.1L937.9,1138.8L938.2,1154.5L938.6,1169.9L938.9,1184.5L939.3,1198.0L939.6,1209.5L939.9,1218.4L940.3,1224.1L940.6,1226.0L940.9,1223.8L941.3,1217.4L941.6,1207.4L941.9,1194.6L942.3,1179.9L942.6,1163.9L943.0,1147.4L943.3,1130.7L943.6,1114.1L944.0,1097.9L944.3,1082.2L944.6,1067.0L945.0,1052.4L945.3,1038.4L945.6,1024.9L946.0,1012.0L946.3,999.7L946.7,987.9L947.0,976.5L947.3,965.7L947.7,955.3L948.0,945.3L948.3,935.7L948.7,926.4L949.0,917.6L949.3,909.0L949.7,900.8L950.0,893.0L950.3,885.4L950.7,878.1L951.0,871.0L951.4,864.2L951.7,857.7L952.0,851.4L952.4,845.4L952.7,839.5L953.0,833.9L953.4,828.5L953.7,823.4L954.0,818.4L954.4,813.6L954.7,809.0L955.1,804.6L955.4,800.4L955.7,796.4L956.1,792.6L956.4,789.0L956.7,785.6L957.1,782.3L957.4,779.3L957.7,776.5L958.1,773.9L958.4,771.5L958.8,769.3L959.1,767.5L959.4,765.9L959.8,764.7L960.1,764.0L960.4,765.7L960.8,768.7L961.1,772.7L961.5,777.5L961.8,782.9L962.1,788.9L962.5,795.6L962.8,802.8L963.2,810.5L963.5,818.7L963.8,827.5L964.2,836.7L964.5,846.3L964.8,856.4L965.2,866.8L965.5,877.5L965.9,888.5L966.2,899.6L966.5,910.7L966.9,921.6L967.2,932.2L967.6,942.3L967.9,951.4L968.2,959.5L968.6,966.1L968.9,971.0L969.3,974.0L969.6,975.0L969.9,972.1L970.3,963.7L970.6,950.8L970.9,934.6L971.3,916.5L971.6,897.5L971.9,878.4L972.3,859.8L972.6,841.9L972.9,824.9L973.3,808.9L973.6,794.1L973.9,780.3L974.3,767.6L974.6,756.1L974.9,745.7L975.3,736.5L975.6,728.5L975.9,721.8L976.3,716.8L976.6,714.0L976.9,718.0L977.3,725.4L977.6,735.1L978.0,746.8L978.3,760.4L978.7,775.7L979.0,792.6L979.3,811.1L979.7,831.1L980.0,852.2L980.4,873.8L980.7,895.2L981.1,915.0L981.4,931.4L981.8,942.2L982.1,946.0L982.4,944.9L982.8,941.8L983.1,936.6L983.5,929.7L983.8,921.3L984.2,911.9L984.5,901.9L984.8,891.6L985.2,881.2L985.5,871.2L985.9,861.6L986.2,852.8L986.6,844.9L986.9,838.1L987.3,832.9L987.6,830.0L987.9,832.0L988.3,835.6L988.6,840.4L988.9,846.0L989.3,852.5L989.6,859.7L989.9,867.5L990.3,876.0L990.6,885.1L990.9,894.7L991.3,904.7L991.6,915.2L991.9,926.0L992.3,937.1L992.6,948.2L992.9,959.3L993.3,970.1L993.6,980.3L993.9,989.7L994.3,998.0L994.6,1004.8L994.9,1009.8L995.3,1013.0L995.6,1014.0L995.9,1013.6L996.3,1012.3L996.6,1010.1L996.9,1007.2L997.3,1003.5L997.6,999.1L997.9,994.1L998.3,988.6L998.6,982.7L998.9,976.5L999.3,970.1L999.6,963.6L999.9,957.1L1000.3,950.7L1000.6,944.4L1000.9,938.2L1001.3,932.4L1001.6,926.9L1001.9,921.7L1002.3,917.0L1002.6,912.8L1002.9,909.3L1003.3,906.5L1003.6,905.0L1004.0,909.9L1004.3,918.2L1004.7,927.5L1005.0,936.5L1005.4,943.7L1005.7,948.4L1006.1,950.0L1006.2,949.7L1006.2,948.9L1006.3,947.5L1006.3,945.6L1006.4,943.3L1006.5,940.7L1006.5,937.9L1006.6,935.0L1006.6,934.0L1006.6,933.0L1006.7,932.0L1006.7,931.0L1006.7,930.0L1006.7,929.0L1006.8,928.0L1006.8,927.0L1006.8,926.0L1006.8,925.0L1006.8,924.0L1006.9,923.0L1006.9,922.0L1006.9,921.0L1006.9,920.0L1007.0,919.0L1007.0,918.0L1007.0,917.0L1007.0,916.0L1007.1,915.0L1007.1,914.0L1007.1,913.0L1007.1,912.0L1007.1,911.0L1007.2,910.0L1007.2,909.0L1007.2,908.0L1007.2,907.0L1007.3,906.0L1007.3,905.0L1007.3,904.0L1007.3,903.0L1007.4,902.0L1007.4,901.0L1007.4,900.0L1007.4,899.0L1007.4,898.0L1007.5,897.0L1007.5,896.0L1007.5,895.0L1007.5,894.0L1007.6,893.0L1007.6,892.0L1007.6,891.0L1007.6,890.0L1007.7,889.0L1007.7,888.0L1007.7,887.0L1007.7,886.0L1007.8,885.0L1007.8,884.0L1007.8,883.0L1007.8,882.0L1007.8,881.0L1007.9,880.0L1007.9,879.0L1007.9,878.0L1007.9,877.0L1008.0,876.0L1008.0,875.0L1008.0,874.0L1008.0,873.0L1008.1,872.0L1008.1,871.0L1008.1,870.0L1008.1,869.0L1008.2,868.0L1008.2,867.0L1008.2,866.0L1008.2,865.0L1008.3,864.0L1008.3,863.0L1008.3,862.0L1008.3,861.0L1008.3,860.0L1008.4,859.0L1008.4,858.0L1008.4,857.0L1008.4,856.0L1008.5,855.0L1008.5,854.0L1008.5,853.0L1008.5,852.0L1008.6,851.0L1008.6,850.0L1008.6,849.0L1008.7,848.0L1008.7,847.0L1008.7,846.0L1008.7,845.0L1008.8,844.0L1008.8,843.0L1008.8,842.0L1008.8,841.0L1008.9,840.0L1008.9,839.0L1008.9,838.0L1008.9,837.0L1009.0,836.0L1009.0,835.0L1009.0,834.0L1009.0,833.0L1009.1,832.0L1009.1,831.0L1009.1,830.0L1009.1,829.0L1009.2,828.0L1009.2,827.0L1009.2,826.0L1009.2,825.0L1009.3,824.0L1009.3,823.0L1009.3,822.0L1009.4,821.0L1009.4,820.0L1009.4,819.0L1009.4,818.0L1009.5,817.0L1009.5,816.0L1009.5,815.0L1009.5,814.0L1009.6,813.0L1009.6,812.0L1009.6,811.0L1009.7,810.0L1009.7,809.0L1009.7,808.0L1009.7,807.0L1009.8,806.0L1009.8,805.0L1009.8,804.0L1009.8,803.0L1009.9,802.0L1009.9,801.0L1009.9,800.0L1010.0,799.0L1010.0,798.0L1010.0,797.0L1010.1,796.0L1010.1,795.0L1010.1,794.0L1010.1,793.0L1010.2,792.0L1010.2,791.0L1010.2,790.0L1010.3,789.0L1010.3,788.0L1010.3,787.0L1010.4,786.0L1010.4,785.0L1010.4,784.0L1010.5,783.0L1010.5,782.0L1010.5,781.0L1010.6,780.0L1010.6,779.0L1010.6,778.0L1010.6,777.0L1010.7,776.0L1010.7,775.0L1010.7,774.0L1010.7,773.0L1010.8,772.0L1010.8,771.0L1010.8,770.0L1010.8,769.0L1010.9,768.0L1010.9,767.0L1010.9,766.0L1010.9,765.0L1011.0,764.0L1011.0,763.0L1011.0,762.0L1011.0,761.0L1011.1,760.0L1011.1,759.0L1011.1,758.0L1011.2,757.0L1011.2,756.0L1011.2,755.0L1011.3,754.0L1011.3,753.0L1011.3,752.0L1011.4,751.0L1011.4,750.0L1011.5,749.0L1011.5,748.0L1011.5,747.0L1011.6,746.0L1011.6,745.0L1011.7,744.0L1011.7,743.0L1011.8,742.0L1011.9,741.0L1011.9,740.0L1012.0,739.0L1012.0,738.0L1012.1,737.0L1012.2,736.0L1012.2,735.0L1012.3,734.0L1012.4,733.0L1012.5,732.0L1012.7,731.0L1012.9,730.0L1013.1,729.0L1013.4,728.0L1013.7,727.0L1014.1,726.0L1014.4,725.0L1014.8,724.0L1015.2,723.0L1015.6,722.0L1015.9,721.0L1016.3,720.0L1016.6,719.0L1016.9,718.0L1017.2,717.0L1017.4,716.0L1017.6,715.0L1017.8,714.0L1018.0,713.0L1018.2,712.0L1018.4,711.0L1018.6,710.0L1018.8,709.0L1019.0,708.0L1019.2,707.0L1019.4,706.0L1019.5,705.0L1019.6,704.0L1019.7,703.0L1019.8,702.0L1019.9,701.0L1019.9,700.0L1019.9,699.0L1019.9,698.0L1020.0,697.0L1020.0,696.0L1020.0,695.0L1020.0,694.0L1020.0,693.0L1020.0,692.0L1020.0,691.0L1020.1,690.0L1020.1,689.0L1020.1,688.0L1020.1,687.0L1020.1,686.0L1020.1,685.0L1020.1,684.0L1020.1,683.0L1020.2,682.0L1020.2,681.0L1020.2,680.0L1020.2,679.0L1020.2,678.0L1020.2,677.0L1020.2,676.0L1020.2,675.0L1020.2,674.0L1020.2,673.0L1020.3,672.0L1020.3,671.0L1020.3,670.0L1020.3,669.0L1020.3,668.0L1020.3,667.0L1020.3,666.0L1020.3,665.0L1020.3,664.0L1020.3,663.0L1020.3,662.0L1020.3,661.0L1020.3,660.0L1020.3,659.0L1020.3,658.0L1020.3,657.0L1020.3,656.0L1020.4,655.0L1020.4,654.0L1020.4,653.0L1020.4,652.0L1020.4,651.0L1020.4,650.0L1020.4,649.0L1020.4,648.0L1020.4,647.0L1020.4,646.0L1020.4,645.0L1020.4,644.0L1020.4,643.0L1020.4,642.0L1020.4,641.0L1020.4,640.0L1020.4,639.0L1020.4,638.0L1020.4,637.0L1020.4,636.0L1020.4,635.0L1020.4,634.0L1020.4,633.0L1020.5,632.0L1020.5,631.0L1020.5,630.0L1020.5,629.0L1020.5,628.0L1020.5,627.0L1020.5,626.0L1020.5,625.0L1020.5,624.0L1020.5,623.0L1020.5,622.0L1020.5,621.0L1020.5,620.0L1020.5,619.0L1020.5,618.0L1020.5,617.0L1020.5,616.0L1020.6,615.0L1020.6,614.0L1020.6,613.0L1020.6,612.0L1020.6,611.0L1020.6,610.0L1020.6,609.0L1020.6,608.0L1020.6,607.0L1020.6,606.0L1020.6,605.0L1020.6,604.0L1020.6,603.0L1020.6,602.0L1020.6,601.0L1020.6,600.0L1020.6,599.0L1020.6,598.0L1020.6,597.0L1020.7,596.0L1020.7,595.0L1020.7,594.0L1020.7,593.0L1020.7,592.0L1020.7,591.0L1020.7,590.0L1020.7,589.0L1020.7,588.0L1020.7,587.0L1020.7,586.0L1020.7,585.0L1020.7,584.0L1020.7,583.0L1020.7,582.0L1020.7,581.0L1020.7,580.0L1020.7,579.0L1020.7,578.0L1020.7,577.0L1020.8,576.0L1020.8,575.0L1020.8,574.0L1020.8,573.0L1020.8,572.0L1020.8,571.0L1020.8,570.0L1020.8,569.0L1020.8,568.0L1020.8,567.0L1020.8,566.0L1020.8,565.0L1020.8,564.0L1020.8,563.0L1020.8,562.0L1020.8,561.0L1020.8,560.0L1020.8,559.0L1020.9,558.0L1020.9,557.0L1020.9,556.0L1020.9,555.0L1020.9,554.0L1020.9,553.0L1020.9,552.0L1020.9,551.0L1020.9,550.0L1020.9,549.0L1020.9,548.0L1020.9,547.0L1020.9,546.0L1020.9,545.0L1020.9,544.0L1020.9,543.0L1021.0,542.0L1021.0,541.0L1021.0,540.0L1021.0,539.0L1021.0,538.0L1021.0,537.0L1021.0,536.0L1021.0,535.0L1021.0,534.0L1021.0,533.0L1021.0,532.0L1021.0,531.0L1021.0,530.0L1021.0,529.0L1021.0,528.0L1021.1,527.0L1021.1,526.0L1021.1,525.0L1021.1,524.0L1021.1,523.0L1021.1,522.0L1021.1,521.0L1021.1,520.0L1021.1,519.0L1021.1,518.0L1021.1,517.0L1021.1,516.0L1021.1,515.0L1021.2,514.0L1021.2,513.0L1021.2,512.0L1021.2,511.0L1021.2,510.0L1021.2,509.0L1021.2,508.0L1021.2,507.0L1021.2,506.0L1021.2,505.0L1021.2,504.0L1021.2,503.0L1021.3,502.0L1021.3,501.0L1021.3,500.0L1021.3,499.0L1021.3,498.0L1021.3,497.0L1021.3,496.0L1021.3,495.0L1021.3,494.0L1021.3,493.0L1021.3,492.0L1021.4,491.0L1021.4,490.0L1021.4,489.0L1021.4,488.0L1021.4,487.0L1021.4,486.0L1021.4,485.0L1021.4,484.0L1021.4,483.0L1021.4,482.0L1021.5,481.0L1021.5,480.0L1021.5,479.0L1021.5,478.0L1021.5,477.0L1021.5,476.0L1021.5,475.0L1021.5,474.0L1021.5,473.0L1021.6,472.0L1021.6,471.0L1021.6,470.0L1021.6,469.0L1021.6,468.0L1021.6,467.0L1021.6,466.0L1021.7,465.0L1021.7,464.0L1021.7,463.0L1021.7,462.0L1021.7,461.0L1021.7,460.0L1021.8,459.0L1021.8,458.0L1021.8,457.0L1021.8,456.0L1021.8,455.0L1021.8,454.0L1021.9,453.0L1021.9,452.0L1021.9,451.0L1021.9,450.0L1021.9,449.0L1021.9,448.0L1022.0,447.0L1022.0,446.0L1022.0,445.0L1022.0,444.0L1022.0,443.0L1022.1,442.0L1022.1,441.0L1022.1,440.0L1022.1,439.0L1022.1,438.0L1022.2,437.0L1022.2,436.0L1022.2,435.0L1022.2,434.0L1022.2,433.0L1022.3,432.0L1022.3,431.0L1022.3,430.0L1022.3,429.0L1022.3,428.0L1022.4,427.0L1022.4,426.0L1022.4,425.0L1022.4,424.0L1022.4,423.0L1022.5,422.0L1022.5,421.0L1022.5,420.0L1022.5,419.0L1022.6,418.0L1022.6,417.0L1022.6,416.0L1022.6,415.0L1022.6,414.0L1022.7,413.0L1022.7,412.0L1022.7,411.0L1022.7,410.0L1022.7,409.0L1022.8,408.0L1022.8,407.0L1022.8,406.0L1022.8,405.0L1022.8,404.0L1022.9,403.0L1022.9,402.0L1022.9,401.0L1022.9,400.0L1022.9,399.0L1023.0,398.0L1023.0,397.0L1023.0,396.0L1023.0,395.0L1023.0,394.0L1023.0,393.0L1023.1,392.0L1023.1,391.0L1023.1,390.0L1023.1,389.0L1023.1,388.0L1023.2,387.0L1023.2,386.0L1023.2,385.0L1023.2,384.0L1023.2,383.0L1023.2,382.0L1023.3,381.0L1023.3,380.0L1023.3,379.0L1023.3,378.0L1023.3,377.0L1023.3,376.0L1023.4,375.0L1023.4,374.0L1023.4,373.0L1023.4,372.0L1023.4,371.0L1023.4,370.0L1023.5,369.0L1023.5,368.0L1023.5,367.0L1023.5,366.0L1023.5,365.0L1023.5,364.0L1023.6,363.0L1023.6,362.0L1023.6,361.0L1023.6,360.0L1023.6,359.0L1023.6,358.0L1023.7,357.0L1023.7,356.0L1023.7,355.0L1023.7,354.0L1023.7,353.0L1023.7,352.0L1023.8,351.0L1023.8,350.0L1023.8,349.0L1023.8,348.0L1023.8,347.0L1023.8,346.0L1023.9,345.0L1023.9,344.0L1023.9,343.0L1023.9,342.0L1023.9,341.0L1023.9,340.0L1024.0,339.0L1024.0,338.0L1024.0,337.0L1024.0,336.0L1024.0,335.0L1024.0,334.0L1024.1,333.0L1024.1,332.0L1024.1,331.0L1024.1,330.0L1024.1,329.0L1024.1,328.0L1024.2,327.0L1024.2,326.0L1024.2,325.0L1024.2,324.0L1024.2,323.0L1024.2,322.0L1024.3,321.0L1024.3,320.0L1024.3,319.0L1024.3,318.0L1024.3,317.0L1024.3,316.0L1024.4,315.0L1024.4,314.0L1024.4,313.0L1024.4,312.0L1024.4,311.0L1024.5,310.0L1024.5,309.0L1024.5,308.0L1024.5,307.0L1024.5,306.0L1024.5,305.0L1024.6,304.0L1024.6,303.0L1024.6,302.0L1024.6,301.0L1024.6,300.0L1024.7,299.0L1024.7,298.0L1024.7,297.0L1024.7,296.0L1024.7,295.0L1024.7,294.0L1024.8,293.0L1024.8,292.0L1024.8,291.0L1024.8,290.0L1024.8,289.0L1024.9,288.0L1024.9,287.0L1024.9,286.0L1024.9,285.0L1024.9,284.0L1024.9,283.0L1025.0,282.0L1025.0,281.0L1025.0,280.0L1025.0,279.0L1025.0,278.0L1025.1,277.0L1025.1,276.0L1025.1,275.0L1025.1,274.0L1025.1,273.0L1025.1,272.0L1025.2,271.0L1025.2,270.0L1025.2,269.0L1025.2,268.0L1025.2,267.0L1025.3,266.0L1025.3,265.0L1025.3,264.0L1025.3,263.0L1025.3,262.0L1025.4,261.0L1025.4,260.0L1025.4,259.0L1025.4,258.0L1025.4,257.0L1025.5,256.0L1025.5,255.0L1025.5,254.0L1025.5,253.0L1025.5,252.0L1025.6,251.0L1025.6,250.0L1025.6,249.0L1025.6,248.0L1025.6,247.0L1025.7,246.0L1025.7,245.0L1025.7,244.0L1025.7,243.0L1025.7,242.0L1025.8,241.0L1025.8,240.0L1025.8,239.0L1025.8,238.0L1025.8,237.0L1025.9,236.0L1025.9,235.0L1025.9,234.0L1025.9,233.0L1025.9,232.0L1026.0,231.0L1026.0,230.0L1026.0,229.0L1026.0,228.0L1026.0,227.0L1026.1,226.0L1026.1,225.0L1026.1,224.0L1026.1,223.0L1026.1,222.0L1026.2,221.0L1026.2,220.0L1026.2,219.0L1026.2,218.0L1026.3,217.0L1026.3,216.0L1026.3,215.0L1026.3,214.0L1026.3,213.0L1026.4,212.0L1026.4,211.0L1026.4,210.0L1026.4,209.0L1026.5,208.0L1026.5,207.0L1026.5,206.0L1026.5,205.0L1026.5,204.0L1026.6,203.0L1026.6,202.0L1026.6,201.0L1026.6,200.0L1026.6,199.0L1026.7,198.0L1026.7,197.0L1026.7,196.0L1026.7,195.0L1026.7,194.0L1026.8,193.0L1026.8,192.0L1026.8,191.0L1026.8,190.0L1026.8,189.0L1026.9,188.0L1026.9,187.0L1026.9,186.0L1026.9,185.0L1027.0,184.0L1027.0,183.0L1027.0,182.0L1027.0,181.0L1027.0,180.0L1027.1,179.0L1027.1,178.0L1027.1,177.0L1027.1,176.0L1027.1,175.0L1027.2,174.0L1027.2,173.0L1027.2,172.0L1027.2,171.0L1027.3,170.0L1027.3,169.0L1027.3,168.0L1027.3,167.0L1027.3,166.0L1027.4,165.0L1027.4,164.0L1027.4,163.0L1027.4,162.0L1027.5,161.0L1027.5,160.0L1027.5,159.0L1027.5,158.0L1027.6,157.0L1027.6,156.0L1027.6,155.0L1027.6,154.0L1027.7,153.0L1027.7,152.0L1027.7,151.0L1027.7,150.0L1027.8,149.0L1027.8,148.0L1027.8,147.0L1027.9,146.0L1027.9,145.0L1027.9,144.0L1027.9,143.0L1028.0,142.0L1028.0,141.0L1028.0,140.0L1028.1,139.0L1028.1,138.0L1028.1,137.0L1028.1,136.0L1028.2,135.0L1028.2,134.0L1028.2,133.0L1028.3,132.0L1028.3,131.0L1028.3,130.0L1028.4,129.0L1028.4,128.0L1028.4,127.0L1028.5,126.0L1028.5,125.0L1028.5,124.0L1028.6,123.0L1028.6,122.0L1028.6,121.0L1028.7,120.0L1028.7,119.0L1028.8,118.0L1028.8,117.0L1028.8,116.0L1028.9,115.0L1028.9,114.0L1029.0,113.0L1029.0,112.0L1029.1,111.0L1029.1,110.0L1029.2,109.0L1029.2,108.0L1029.3,107.0L1029.3,106.0L1029.4,105.0L1029.4,104.0L1029.5,103.0L1029.6,102.0L1029.6,101.0L1029.7,100.0L1029.7,99.0L1029.8,98.0L1029.9,97.0L1029.9,96.0L1030.0,95.0L1030.1,94.0L1030.2,93.0L1030.2,92.0L1030.3,91.0L1030.4,90.0L1030.4,89.0L1030.5,88.0L1030.6,87.0L1030.7,86.0L1030.7,85.0L1030.8,84.0L1030.9,83.0L1031.0,82.0L1031.0,81.0L1031.1,80.0L1031.2,79.0L1031.2,78.0L1031.3,77.0L1031.4,76.0L1031.4,75.0L1031.5,74.0L1031.6,73.0L1031.6,72.0L1031.7,71.0L1031.8,70.0L1031.9,69.0L1032.0,68.0L1032.0,67.0L1032.1,66.0L1032.2,65.0L1032.4,64.0L1032.5,63.0L1032.6,62.0L1032.7,61.0L1032.9,60.0L1033.1,59.0L1033.4,58.0L1033.7,57.0L1034.1,56.0L1034.5,55.0L1035.7,54.0L1035.7,30.8L1035.7,54.0L1036.1,55.0L1036.5,56.0L1036.9,57.0L1037.2,58.0L1037.5,59.0L1037.7,60.0L1037.9,61.0L1038.0,62.0L1038.1,63.0L1038.2,64.0L1038.4,65.0L1038.5,66.0L1038.6,67.0L1038.6,68.0L1038.7,69.0L1038.8,70.0L1038.9,71.0L1039.0,72.0L1039.0,73.0L1039.1,74.0L1039.2,75.0L1039.2,76.0L1039.3,77.0L1039.4,78.0L1039.4,79.0L1039.5,80.0L1039.6,81.0L1039.6,82.0L1039.7,83.0L1039.8,84.0L1039.9,85.0L1039.9,86.0L1040.0,87.0L1040.1,88.0L1040.2,89.0L1040.2,90.0L1040.3,91.0L1040.4,92.0L1040.4,93.0L1040.5,94.0L1040.6,95.0L1040.7,96.0L1040.7,97.0L1040.8,98.0L1040.9,99.0L1040.9,100.0L1041.0,101.0L1041.0,102.0L1041.1,103.0L1041.2,104.0L1041.2,105.0L1041.3,106.0L1041.3,107.0L1041.4,108.0L1041.4,109.0L1041.5,110.0L1041.5,111.0L1041.6,112.0L1041.6,113.0L1041.7,114.0L1041.7,115.0L1041.8,116.0L1041.8,117.0L1041.8,118.0L1041.9,119.0L1041.9,120.0L1042.0,121.0L1042.0,122.0L1042.0,123.0L1042.1,124.0L1042.1,125.0L1042.1,126.0L1042.2,127.0L1042.2,128.0L1042.2,129.0L1042.3,130.0L1042.3,131.0L1042.3,132.0L1042.4,133.0L1042.4,134.0L1042.4,135.0L1042.5,136.0L1042.5,137.0L1042.5,138.0L1042.5,139.0L1042.6,140.0L1042.6,141.0L1042.6,142.0L1042.7,143.0L1042.7,144.0L1042.7,145.0L1042.7,146.0L1042.8,147.0L1042.8,148.0L1042.8,149.0L1042.9,150.0L1042.9,151.0L1042.9,152.0L1042.9,153.0L1043.0,154.0L1043.0,155.0L1043.0,156.0L1043.0,157.0L1043.1,158.0L1043.1,159.0L1043.1,160.0L1043.1,161.0L1043.2,162.0L1043.2,163.0L1043.2,164.0L1043.2,165.0L1043.3,166.0L1043.3,167.0L1043.3,168.0L1043.3,169.0L1043.3,170.0L1043.4,171.0L1043.4,172.0L1043.4,173.0L1043.4,174.0L1043.5,175.0L1043.5,176.0L1043.5,177.0L1043.5,178.0L1043.5,179.0L1043.6,180.0L1043.6,181.0L1043.6,182.0L1043.6,183.0L1043.6,184.0L1043.7,185.0L1043.7,186.0L1043.7,187.0L1043.7,188.0L1043.8,189.0L1043.8,190.0L1043.8,191.0L1043.8,192.0L1043.8,193.0L1043.9,194.0L1043.9,195.0L1043.9,196.0L1043.9,197.0L1043.9,198.0L1044.0,199.0L1044.0,200.0L1044.0,201.0L1044.0,202.0L1044.0,203.0L1044.1,204.0L1044.1,205.0L1044.1,206.0L1044.1,207.0L1044.1,208.0L1044.2,209.0L1044.2,210.0L1044.2,211.0L1044.2,212.0L1044.3,213.0L1044.3,214.0L1044.3,215.0L1044.3,216.0L1044.3,217.0L1044.4,218.0L1044.4,219.0L1044.4,220.0L1044.4,221.0L1044.5,222.0L1044.5,223.0L1044.5,224.0L1044.5,225.0L1044.5,226.0L1044.6,227.0L1044.6,228.0L1044.6,229.0L1044.6,230.0L1044.6,231.0L1044.7,232.0L1044.7,233.0L1044.7,234.0L1044.7,235.0L1044.7,236.0L1044.8,237.0L1044.8,238.0L1044.8,239.0L1044.8,240.0L1044.8,241.0L1044.9,242.0L1044.9,243.0L1044.9,244.0L1044.9,245.0L1044.9,246.0L1045.0,247.0L1045.0,248.0L1045.0,249.0L1045.0,250.0L1045.0,251.0L1045.1,252.0L1045.1,253.0L1045.1,254.0L1045.1,255.0L1045.1,256.0L1045.2,257.0L1045.2,258.0L1045.2,259.0L1045.2,260.0L1045.2,261.0L1045.3,262.0L1045.3,263.0L1045.3,264.0L1045.3,265.0L1045.3,266.0L1045.4,267.0L1045.4,268.0L1045.4,269.0L1045.4,270.0L1045.4,271.0L1045.5,272.0L1045.5,273.0L1045.5,274.0L1045.5,275.0L1045.5,276.0L1045.5,277.0L1045.6,278.0L1045.6,279.0L1045.6,280.0L1045.6,281.0L1045.6,282.0L1045.7,283.0L1045.7,284.0L1045.7,285.0L1045.7,286.0L1045.7,287.0L1045.7,288.0L1045.8,289.0L1045.8,290.0L1045.8,291.0L1045.8,292.0L1045.8,293.0L1045.9,294.0L1045.9,295.0L1045.9,296.0L1045.9,297.0L1045.9,298.0L1045.9,299.0L1046.0,300.0L1046.0,301.0L1046.0,302.0L1046.0,303.0L1046.0,304.0L1046.1,305.0L1046.1,306.0L1046.1,307.0L1046.1,308.0L1046.1,309.0L1046.1,310.0L1046.2,311.0L1046.2,312.0L1046.2,313.0L1046.2,314.0L1046.2,315.0L1046.3,316.0L1046.3,317.0L1046.3,318.0L1046.3,319.0L1046.3,320.0L1046.3,321.0L1046.4,322.0L1046.4,323.0L1046.4,324.0L1046.4,325.0L1046.4,326.0L1046.4,327.0L1046.5,328.0L1046.5,329.0L1046.5,330.0L1046.5,331.0L1046.5,332.0L1046.5,333.0L1046.6,334.0L1046.6,335.0L1046.6,336.0L1046.6,337.0L1046.6,338.0L1046.6,339.0L1046.7,340.0L1046.7,341.0L1046.7,342.0L1046.7,343.0L1046.7,344.0L1046.7,345.0L1046.8,346.0L1046.8,347.0L1046.8,348.0L1046.8,349.0L1046.8,350.0L1046.8,351.0L1046.9,352.0L1046.9,353.0L1046.9,354.0L1046.9,355.0L1046.9,356.0L1046.9,357.0L1047.0,358.0L1047.0,359.0L1047.0,360.0L1047.0,361.0L1047.0,362.0L1047.0,363.0L1047.1,364.0L1047.1,365.0L1047.1,366.0L1047.1,367.0L1047.1,368.0L1047.1,369.0L1047.2,370.0L1047.2,371.0L1047.2,372.0L1047.2,373.0L1047.2,374.0L1047.2,375.0L1047.3,376.0L1047.3,377.0L1047.3,378.0L1047.3,379.0L1047.3,380.0L1047.3,381.0L1047.4,382.0L1047.4,383.0L1047.4,384.0L1047.4,385.0L1047.4,386.0L1047.4,387.0L1047.5,388.0L1047.5,389.0L1047.5,390.0L1047.5,391.0L1047.5,392.0L1047.6,393.0L1047.6,394.0L1047.6,395.0L1047.6,396.0L1047.6,397.0L1047.6,398.0L1047.7,399.0L1047.7,400.0L1047.7,401.0L1047.7,402.0L1047.7,403.0L1047.8,404.0L1047.8,405.0L1047.8,406.0L1047.8,407.0L1047.8,408.0L1047.9,409.0L1047.9,410.0L1047.9,411.0L1047.9,412.0L1047.9,413.0L1048.0,414.0L1048.0,415.0L1048.0,416.0L1048.0,417.0L1048.0,418.0L1048.1,419.0L1048.1,420.0L1048.1,421.0L1048.1,422.0L1048.2,423.0L1048.2,424.0L1048.2,425.0L1048.2,426.0L1048.2,427.0L1048.3,428.0L1048.3,429.0L1048.3,430.0L1048.3,431.0L1048.3,432.0L1048.4,433.0L1048.4,434.0L1048.4,435.0L1048.4,436.0L1048.4,437.0L1048.5,438.0L1048.5,439.0L1048.5,440.0L1048.5,441.0L1048.5,442.0L1048.6,443.0L1048.6,444.0L1048.6,445.0L1048.6,446.0L1048.6,447.0L1048.7,448.0L1048.7,449.0L1048.7,450.0L1048.7,451.0L1048.7,452.0L1048.7,453.0L1048.8,454.0L1048.8,455.0L1048.8,456.0L1048.8,457.0L1048.8,458.0L1048.8,459.0L1048.9,460.0L1048.9,461.0L1048.9,462.0L1048.9,463.0L1048.9,464.0L1048.9,465.0L1049.0,466.0L1049.0,467.0L1049.0,468.0L1049.0,469.0L1049.0,470.0L1049.0,471.0L1049.0,472.0L1049.1,473.0L1049.1,474.0L1049.1,475.0L1049.1,476.0L1049.1,477.0L1049.1,478.0L1049.1,479.0L1049.1,480.0L1049.1,481.0L1049.2,482.0L1049.2,483.0L1049.2,484.0L1049.2,485.0L1049.2,486.0L1049.2,487.0L1049.2,488.0L1049.2,489.0L1049.2,490.0L1049.2,491.0L1049.3,492.0L1049.3,493.0L1049.3,494.0L1049.3,495.0L1049.3,496.0L1049.3,497.0L1049.3,498.0L1049.3,499.0L1049.3,500.0L1049.3,501.0L1049.3,502.0L1049.4,503.0L1049.4,504.0L1049.4,505.0L1049.4,506.0L1049.4,507.0L1049.4,508.0L1049.4,509.0L1049.4,510.0L1049.4,511.0L1049.4,512.0L1049.4,513.0L1049.4,514.0L1049.5,515.0L1049.5,516.0L1049.5,517.0L1049.5,518.0L1049.5,519.0L1049.5,520.0L1049.5,521.0L1049.5,522.0L1049.5,523.0L1049.5,524.0L1049.5,525.0L1049.5,526.0L1049.5,527.0L1049.6,528.0L1049.6,529.0L1049.6,530.0L1049.6,531.0L1049.6,532.0L1049.6,533.0L1049.6,534.0L1049.6,535.0L1049.6,536.0L1049.6,537.0L1049.6,538.0L1049.6,539.0L1049.6,540.0L1049.6,541.0L1049.6,542.0L1049.7,543.0L1049.7,544.0L1049.7,545.0L1049.7,546.0L1049.7,547.0L1049.7,548.0L1049.7,549.0L1049.7,550.0L1049.7,551.0L1049.7,552.0L1049.7,553.0L1049.7,554.0L1049.7,555.0L1049.7,556.0L1049.7,557.0L1049.7,558.0L1049.8,559.0L1049.8,560.0L1049.8,561.0L1049.8,562.0L1049.8,563.0L1049.8,564.0L1049.8,565.0L1049.8,566.0L1049.8,567.0L1049.8,568.0L1049.8,569.0L1049.8,570.0L1049.8,571.0L1049.8,572.0L1049.8,573.0L1049.8,574.0L1049.8,575.0L1049.8,576.0L1049.9,577.0L1049.9,578.0L1049.9,579.0L1049.9,580.0L1049.9,581.0L1049.9,582.0L1049.9,583.0L1049.9,584.0L1049.9,585.0L1049.9,586.0L1049.9,587.0L1049.9,588.0L1049.9,589.0L1049.9,590.0L1049.9,591.0L1049.9,592.0L1049.9,593.0L1049.9,594.0L1049.9,595.0L1049.9,596.0L1050.0,597.0L1050.0,598.0L1050.0,599.0L1050.0,600.0L1050.0,601.0L1050.0,602.0L1050.0,603.0L1050.0,604.0L1050.0,605.0L1050.0,606.0L1050.0,607.0L1050.0,608.0L1050.0,609.0L1050.0,610.0L1050.0,611.0L1050.0,612.0L1050.0,613.0L1050.0,614.0L1050.0,615.0L1050.1,616.0L1050.1,617.0L1050.1,618.0L1050.1,619.0L1050.1,620.0L1050.1,621.0L1050.1,622.0L1050.1,623.0L1050.1,624.0L1050.1,625.0L1050.1,626.0L1050.1,627.0L1050.1,628.0L1050.1,629.0L1050.1,630.0L1050.1,631.0L1050.1,632.0L1050.2,633.0L1050.2,634.0L1050.2,635.0L1050.2,636.0L1050.2,637.0L1050.2,638.0L1050.2,639.0L1050.2,640.0L1050.2,641.0L1050.2,642.0L1050.2,643.0L1050.2,644.0L1050.2,645.0L1050.2,646.0L1050.2,647.0L1050.2,648.0L1050.2,649.0L1050.2,650.0L1050.2,651.0L1050.2,652.0L1050.2,653.0L1050.2,654.0L1050.2,655.0L1050.3,656.0L1050.3,657.0L1050.3,658.0L1050.3,659.0L1050.3,660.0L1050.3,661.0L1050.3,662.0L1050.3,663.0L1050.3,664.0L1050.3,665.0L1050.3,666.0L1050.3,667.0L1050.3,668.0L1050.3,669.0L1050.3,670.0L1050.3,671.0L1050.3,672.0L1050.4,673.0L1050.4,674.0L1050.4,675.0L1050.4,676.0L1050.4,677.0L1050.4,678.0L1050.4,679.0L1050.4,680.0L1050.4,681.0L1050.4,682.0L1050.5,683.0L1050.5,684.0L1050.5,685.0L1050.5,686.0L1050.5,687.0L1050.5,688.0L1050.5,689.0L1050.5,690.0L1050.6,691.0L1050.6,692.0L1050.6,693.0L1050.6,694.0L1050.6,695.0L1050.6,696.0L1050.6,697.0L1050.7,698.0L1050.7,699.0L1050.7,700.0L1050.7,701.0L1050.8,702.0L1050.9,703.0L1051.0,704.0L1051.1,705.0L1051.2,706.0L1051.4,707.0L1051.6,708.0L1051.8,709.0L1052.0,710.0L1052.2,711.0L1052.4,712.0L1052.6,713.0L1052.8,714.0L1053.0,715.0L1053.2,716.0L1053.4,717.0L1053.7,718.0L1054.0,719.0L1054.3,720.0L1054.7,721.0L1055.0,722.0L1055.4,723.0L1055.8,724.0L1056.2,725.0L1056.5,726.0L1056.9,727.0L1057.2,728.0L1057.5,729.0L1057.7,730.0L1057.9,731.0L1058.1,732.0L1058.2,733.0L1058.3,734.0L1058.4,735.0L1058.4,736.0L1058.5,737.0L1058.6,738.0L1058.6,739.0L1058.7,740.0L1058.7,741.0L1058.8,742.0L1058.9,743.0L1058.9,744.0L1059.0,745.0L1059.0,746.0L1059.1,747.0L1059.1,748.0L1059.1,749.0L1059.2,750.0L1059.2,751.0L1059.3,752.0L1059.3,753.0L1059.3,754.0L1059.4,755.0L1059.4,756.0L1059.4,757.0L1059.5,758.0L1059.5,759.0L1059.5,760.0L1059.6,761.0L1059.6,762.0L1059.6,763.0L1059.6,764.0L1059.7,765.0L1059.7,766.0L1059.7,767.0L1059.7,768.0L1059.8,769.0L1059.8,770.0L1059.8,771.0L1059.8,772.0L1059.9,773.0L1059.9,774.0L1059.9,775.0L1059.9,776.0L1060.0,777.0L1060.0,778.0L1060.0,779.0L1060.0,780.0L1060.1,781.0L1060.1,782.0L1060.1,783.0L1060.2,784.0L1060.2,785.0L1060.2,786.0L1060.3,787.0L1060.3,788.0L1060.3,789.0L1060.4,790.0L1060.4,791.0L1060.4,792.0L1060.5,793.0L1060.5,794.0L1060.5,795.0L1060.5,796.0L1060.6,797.0L1060.6,798.0L1060.6,799.0L1060.7,800.0L1060.7,801.0L1060.7,802.0L1060.8,803.0L1060.8,804.0L1060.8,805.0L1060.8,806.0L1060.9,807.0L1060.9,808.0L1060.9,809.0L1060.9,810.0L1061.0,811.0L1061.0,812.0L1061.0,813.0L1061.1,814.0L1061.1,815.0L1061.1,816.0L1061.1,817.0L1061.2,818.0L1061.2,819.0L1061.2,820.0L1061.2,821.0L1061.3,822.0L1061.3,823.0L1061.3,824.0L1061.4,825.0L1061.4,826.0L1061.4,827.0L1061.4,828.0L1061.5,829.0L1061.5,830.0L1061.5,831.0L1061.5,832.0L1061.6,833.0L1061.6,834.0L1061.6,835.0L1061.6,836.0L1061.7,837.0L1061.7,838.0L1061.7,839.0L1061.7,840.0L1061.8,841.0L1061.8,842.0L1061.8,843.0L1061.8,844.0L1061.9,845.0L1061.9,846.0L1061.9,847.0L1061.9,848.0L1062.0,849.0L1062.0,850.0L1062.0,851.0L1062.1,852.0L1062.1,853.0L1062.1,854.0L1062.1,855.0L1062.2,856.0L1062.2,857.0L1062.2,858.0L1062.2,859.0L1062.3,860.0L1062.3,861.0L1062.3,862.0L1062.3,863.0L1062.3,864.0L1062.4,865.0L1062.4,866.0L1062.4,867.0L1062.4,868.0L1062.5,869.0L1062.5,870.0L1062.5,871.0L1062.5,872.0L1062.6,873.0L1062.6,874.0L1062.6,875.0L1062.6,876.0L1062.7,877.0L1062.7,878.0L1062.7,879.0L1062.7,880.0L1062.8,881.0L1062.8,882.0L1062.8,883.0L1062.8,884.0L1062.8,885.0L1062.9,886.0L1062.9,887.0L1062.9,888.0L1062.9,889.0L1063.0,890.0L1063.0,891.0L1063.0,892.0L1063.0,893.0L1063.1,894.0L1063.1,895.0L1063.1,896.0L1063.1,897.0L1063.2,898.0L1063.2,899.0L1063.2,900.0L1063.2,901.0L1063.2,902.0L1063.3,903.0L1063.3,904.0L1063.3,905.0L1063.3,906.0L1063.4,907.0L1063.4,908.0L1063.4,909.0L1063.4,910.0L1063.5,911.0L1063.5,912.0L1063.5,913.0L1063.5,914.0L1063.5,915.0L1063.6,916.0L1063.6,917.0L1063.6,918.0L1063.6,919.0L1063.7,920.0L1063.7,921.0L1063.7,922.0L1063.7,923.0L1063.8,924.0L1063.8,925.0L1063.8,926.0L1063.8,927.0L1063.8,928.0L1063.9,929.0L1063.9,930.0L1063.9,931.0L1063.9,932.0L1064.0,933.0L1064.0,934.0L1064.0,935.0L1064.1,937.9L1064.1,940.7L1064.2,943.3L1064.2,945.6L1064.3,947.5L1064.4,948.9L1064.4,949.7L1064.5,950.0L1064.9,948.4L1065.2,943.7L1065.6,936.5L1065.9,927.5L1066.3,918.2L1066.6,909.9L1067.0,905.0L1067.3,906.5L1067.7,909.3L1068.0,912.8L1068.3,917.0L1068.7,921.7L1069.0,926.9L1069.3,932.4L1069.7,938.2L1070.0,944.4L1070.3,950.7L1070.7,957.1L1071.0,963.6L1071.3,970.1L1071.7,976.5L1072.0,982.7L1072.3,988.6L1072.7,994.1L1073.0,999.1L1073.3,1003.5L1073.7,1007.2L1074.0,1010.1L1074.3,1012.3L1074.7,1013.6L1075.0,1014.0L1075.3,1013.0L1075.7,1009.8L1076.0,1004.8L1076.3,998.0L1076.7,989.7L1077.0,980.3L1077.3,970.1L1077.7,959.3L1078.0,948.2L1078.3,937.1L1078.7,926.0L1079.0,915.2L1079.3,904.7L1079.7,894.7L1080.0,885.1L1080.3,876.0L1080.7,867.5L1081.0,859.7L1081.3,852.5L1081.7,846.0L1082.0,840.4L1082.3,835.6L1082.7,832.0L1083.0,830.0L1083.3,832.9L1083.7,838.1L1084.0,844.9L1084.4,852.8L1084.7,861.6L1085.1,871.2L1085.4,881.2L1085.8,891.6L1086.1,901.9L1086.4,911.9L1086.8,921.3L1087.1,929.7L1087.5,936.6L1087.8,941.8L1088.2,944.9L1088.5,946.0L1088.8,942.2L1089.2,931.4L1089.5,915.0L1089.9,895.2L1090.2,873.8L1090.6,852.2L1090.9,831.1L1091.2,811.1L1091.6,792.6L1091.9,775.7L1092.3,760.4L1092.6,746.8L1093.0,735.1L1093.3,725.4L1093.7,718.0L1094.0,714.0L1094.3,716.8L1094.7,721.8L1095.0,728.5L1095.3,736.5L1095.7,745.7L1096.0,756.1L1096.3,767.6L1096.7,780.3L1097.0,794.1L1097.3,808.9L1097.7,824.9L1098.0,841.9L1098.3,859.8L1098.7,878.4L1099.0,897.5L1099.3,916.5L1099.7,934.6L1100.0,950.8L1100.3,963.7L1100.7,972.1L1101.0,975.0L1101.3,974.0L1101.7,971.0L1102.0,966.1L1102.4,959.5L1102.7,951.4L1103.0,942.3L1103.4,932.2L1103.7,921.6L1104.1,910.7L1104.4,899.6L1104.7,888.5L1105.1,877.5L1105.4,866.8L1105.8,856.4L1106.1,846.3L1106.4,836.7L1106.8,827.5L1107.1,818.7L1107.4,810.5L1107.8,802.8L1108.1,795.6L1108.5,788.9L1108.8,782.9L1109.1,777.5L1109.5,772.7L1109.8,768.7L1110.2,765.7L1110.5,764.0L1110.8,764.7L1111.2,765.9L1111.5,767.5L1111.8,769.3L1112.2,771.5L1112.5,773.9L1112.9,776.5L1113.2,779.3L1113.5,782.3L1113.9,785.6L1114.2,789.0L1114.5,792.6L1114.9,796.4L1115.2,800.4L1115.5,804.6L1115.9,809.0L1116.2,813.6L1116.6,818.4L1116.9,823.4L1117.2,828.5L1117.6,833.9L1117.9,839.5L1118.2,845.4L1118.6,851.4L1118.9,857.7L1119.2,864.2L1119.6,871.0L1119.9,878.1L1120.2,885.4L1120.6,893.0L1120.9,900.8L1121.3,909.0L1121.6,917.6L1121.9,926.4L1122.3,935.7L1122.6,945.3L1122.9,955.3L1123.3,965.7L1123.6,976.5L1123.9,987.9L1124.3,999.7L1124.6,1012.0L1125.0,1024.9L1125.3,1038.4L1125.6,1052.4L1126.0,1067.0L1126.3,1082.2L1126.6,1097.9L1127.0,1114.1L1127.3,1130.7L1127.6,1147.4L1128.0,1163.9L1128.3,1179.9L1128.7,1194.6L1129.0,1207.4L1129.3,1217.4L1129.7,1223.8L1130.0,1226.0L1130.3,1224.1L1130.7,1218.4L1131.0,1209.5L1131.3,1198.0L1131.7,1184.5L1132.0,1169.9L1132.4,1154.5L1132.7,1138.8L1133.0,1123.1L1133.4,1107.7L1133.7,1092.6L1134.0,1078.0L1134.4,1063.9L1134.7,1050.3L1135.0,1037.2L1135.4,1024.6L1135.7,1012.5L1136.1,1001.0L1136.4,989.8L1136.7,979.1L1137.1,968.9L1137.4,959.0L1137.7,949.5L1138.1,940.4L1138.4,931.6L1138.7,923.2L1139.1,915.1L1139.4,907.3L1139.8,899.7L1140.1,892.5L1140.4,885.5L1140.8,878.8L1141.1,872.3L1141.4,866.0L1141.8,860.0L1142.1,854.2L1142.4,848.6L1142.8,843.3L1143.1,838.1L1143.4,833.2L1143.8,828.4L1144.1,823.8L1144.5,819.5L1144.8,815.3L1145.1,811.3L1145.5,807.5L1145.8,803.9L1146.1,800.5L1146.5,797.3L1146.8,794.3L1147.1,791.4L1147.5,788.8L1147.8,786.5L1148.2,784.3L1148.5,782.5L1148.8,780.9L1149.2,779.7L1149.5,779.0L1149.8,779.6L1150.2,780.6L1150.5,781.9L1150.8,783.4L1151.2,785.2L1151.5,787.2L1151.9,789.3L1152.2,791.7L1152.5,794.2L1152.9,796.8L1153.2,799.6L1153.5,802.6L1153.9,805.7L1154.2,808.9L1154.5,812.3L1154.9,815.9L1155.2,819.6L1155.5,823.4L1155.9,827.4L1156.2,831.5L1156.6,835.7L1156.9,840.2L1157.2,844.7L1157.6,849.5L1157.9,854.3L1158.2,859.4L1158.6,864.6L1158.9,869.9L1159.2,875.4L1159.6,881.1L1159.9,887.0L1160.2,893.0L1160.6,899.2L1160.9,905.6L1161.3,912.2L1161.6,919.0L1161.9,925.9L1162.3,933.1L1162.6,940.4L1162.9,948.0L1163.3,955.8L1163.6,963.7L1163.9,971.9L1164.3,980.2L1164.6,988.7L1165.0,997.5L1165.3,1006.3L1165.6,1015.3L1166.0,1024.5L1166.3,1033.7L1166.6,1042.9L1167.0,1052.2L1167.3,1061.3L1167.6,1070.3L1168.0,1079.1L1168.3,1087.5L1168.6,1095.3L1169.0,1102.6L1169.3,1109.0L1169.7,1114.6L1170.0,1119.1L1170.3,1122.3L1170.7,1124.3L1171.0,1125.0L1171.3,1123.7L1171.7,1119.9L1172.0,1113.8L1172.3,1105.7L1172.7,1096.0L1173.0,1085.0L1173.3,1073.1L1173.7,1060.7L1174.0,1048.0L1174.3,1035.3L1174.7,1022.6L1175.0,1010.1L1175.3,997.9L1175.7,986.0L1176.0,974.5L1176.3,963.4L1176.7,952.6L1177.0,942.4L1177.3,932.5L1177.7,923.0L1178.0,913.9L1178.3,905.3L1178.7,897.0L1179.0,889.1L1179.3,881.6L1179.7,874.5L1180.0,867.7L1180.3,861.3L1180.7,855.3L1181.0,849.7L1181.3,844.4L1181.7,839.5L1182.0,835.0L1182.3,830.8L1182.7,827.1L1183.0,823.9L1183.3,821.2L1183.7,819.1L1184.0,818.0L1184.3,819.4L1184.7,821.8L1185.0,825.0L1185.3,828.6L1185.7,832.7L1186.0,837.1L1186.3,841.7L1186.7,846.4L1187.0,851.2L1187.3,856.1L1187.7,860.8L1188.0,865.4L1188.3,869.7L1188.7,873.7L1189.0,877.3L1189.3,880.5L1189.7,883.2L1190.0,885.3L1190.3,886.8L1190.7,887.7L1191.0,888.0L1191.3,887.3L1191.7,885.2L1192.0,881.7L1192.3,877.0L1192.7,871.1L1193.0,864.4L1193.3,856.9L1193.7,848.8L1194.0,840.5L1194.3,831.9L1194.7,823.3L1195.0,814.9L1195.3,806.6L1195.7,798.7L1196.0,791.3L1196.3,784.3L1196.7,778.0L1197.0,772.4L1197.3,767.7L1197.7,764.0L1198.0,762.0L1198.3,763.6L1198.7,766.6L1199.0,770.4L1199.4,774.8L1199.7,779.8L1200.1,785.2L1200.4,790.9L1200.8,796.8L1201.1,802.9L1201.5,809.1L1201.8,815.2L1202.2,821.2L1202.5,826.9L1202.9,832.3L1203.2,837.2L1203.6,841.6L1203.9,845.2L1204.3,848.2L1204.6,850.3L1205.0,851.6L1205.3,852.0L1205.5,851.8L1205.6,851.0L1205.8,849.8L1206.0,848.4L1206.1,846.9L1206.3,846.0L1206.5,847.8L1206.6,850.7L1206.8,853.6L1207.0,856.0L1207.1,857.5L1207.3,858.0L1207.6,857.3L1208.0,855.0L1208.3,851.3L1208.6,846.3L1209.0,840.2L1209.3,833.0L1209.6,825.1L1210.0,816.6L1210.3,807.8L1210.6,798.7L1211.0,789.6L1211.3,780.6L1211.7,771.7L1212.0,763.2L1212.3,755.0L1212.7,747.2L1213.0,740.0L1213.3,733.3L1213.7,727.2L1214.0,721.9L1214.3,717.4L1214.7,713.9L1215.0,712.0L1215.3,713.0L1215.7,714.9L1216.0,717.3L1216.4,720.2L1216.7,723.5L1217.0,727.2L1217.4,731.1L1217.7,735.4L1218.0,740.0L1218.4,744.9L1218.7,750.0L1219.1,755.4L1219.4,761.0L1219.7,766.8L1220.1,772.9L1220.4,779.1L1220.7,785.5L1221.1,792.1L1221.4,798.9L1221.8,805.7L1222.1,812.6L1222.4,819.6L1222.8,826.5L1223.1,833.5L1223.4,840.3L1223.8,847.0L1224.1,853.5L1224.5,859.6L1224.8,865.4L1225.1,870.8L1225.5,875.7L1225.8,879.9L1226.1,883.5L1226.5,886.3L1226.8,888.3L1227.2,889.6L1227.5,890.0L1227.8,889.6L1228.2,888.5L1228.5,886.6L1228.9,884.0L1229.2,880.8L1229.5,876.9L1229.9,872.5L1230.2,867.6L1230.6,862.4L1230.9,856.9L1231.2,851.2L1231.6,845.5L1231.9,839.7L1232.3,834.1L1232.6,828.6L1233.0,823.3L1233.3,818.3L1233.6,813.8L1234.0,809.7L1234.3,806.2L1234.7,803.5L1235.0,802.0L1235.3,803.3L1235.7,805.6L1236.0,808.6L1236.3,812.1L1236.7,816.2L1237.0,820.7L1237.3,825.6L1237.7,831.0L1238.0,836.7L1238.3,842.7L1238.7,849.1L1239.0,855.9L1239.3,862.9L1239.7,870.3L1240.0,877.9L1240.3,885.7L1240.7,893.8L1241.0,902.1L1241.3,910.5L1241.7,919.0L1242.0,927.5L1242.3,936.0L1242.7,944.4L1243.0,952.5L1243.3,960.3L1243.7,967.7L1244.0,974.4L1244.3,980.4L1244.7,985.5L1245.0,989.6L1245.3,992.6L1245.7,994.4L1246.0,995.0L1246.3,994.4L1246.7,992.5L1247.0,989.4L1247.3,985.2L1247.7,979.9L1248.0,973.8L1248.3,966.9L1248.7,959.4L1249.0,951.4L1249.3,943.1L1249.7,934.6L1250.0,925.9L1250.3,917.2L1250.7,908.6L1251.0,900.0L1251.3,891.7L1251.7,883.5L1252.0,875.5L1252.3,867.8L1252.7,860.4L1253.0,853.3L1253.3,846.5L1253.7,840.0L1254.0,833.9L1254.3,828.2L1254.7,822.8L1255.0,817.8L1255.3,813.3L1255.7,809.2L1256.0,805.6L1256.3,802.6L1256.7,800.3L1257.0,799.0L1257.3,800.7L1257.7,803.8L1258.0,807.8L1258.4,812.5L1258.7,817.8L1259.0,823.5L1259.4,829.7L1259.7,836.2L1260.1,842.9L1260.4,849.8L1260.8,856.8L1261.1,863.7L1261.4,870.5L1261.8,877.0L1262.1,883.2L1262.5,888.8L1262.8,893.9L1263.1,898.1L1263.5,901.5L1263.8,904.0L1264.2,905.5L1264.5,906.0L1264.8,905.0L1265.2,901.8L1265.5,896.7L1265.9,889.9L1266.2,881.7L1266.6,872.3L1266.9,862.2L1267.2,851.7L1267.6,841.0L1267.9,830.3L1268.3,820.0L1268.6,810.0L1268.9,800.6L1269.3,791.9L1269.6,784.0L1270.0,777.0L1270.3,771.1L1270.7,766.5L1271.0,764.0L1271.3,768.2L1271.7,776.0L1272.0,786.1L1272.3,798.4L1272.7,812.4L1273.0,828.2L1273.3,845.5L1273.7,864.1L1274.0,883.6L1274.3,903.6L1274.7,923.1L1275.0,940.8L1275.3,955.3L1275.7,964.7L1276.0,968.0L1276.3,967.2L1276.7,964.7L1277.0,960.6L1277.4,955.1L1277.7,948.4L1278.1,940.7L1278.4,932.2L1278.7,923.3L1279.1,914.0L1279.4,904.8L1279.8,895.7L1280.1,886.8L1280.4,878.4L1280.8,870.5L1281.1,863.3L1281.5,856.9L1281.8,851.5L1282.2,847.3L1282.5,845.0L1282.8,847.1L1283.2,851.0L1283.5,855.9L1283.8,861.7L1284.2,868.1L1284.5,875.1L1284.8,882.4L1285.2,889.9L1285.5,897.5L1285.8,904.9L1286.2,912.1L1286.5,918.9L1286.8,924.9L1287.2,930.2L1287.5,934.4L1287.8,937.5L1288.2,939.4L1288.5,940.0L1288.8,935.0L1289.2,920.9L1289.5,900.4L1289.8,876.4L1290.2,851.3L1290.5,826.7L1290.8,803.4L1291.2,781.8L1291.5,762.2L1291.8,744.6L1292.2,729.2L1292.5,715.8L1292.8,704.8L1293.2,696.5L1293.5,692.0L1293.8,693.0L1294.2,695.0L1294.5,697.5L1294.8,700.4L1295.2,703.8L1295.5,707.6L1295.9,711.8L1296.2,716.2L1296.5,721.1L1296.9,726.2L1297.2,731.7L1297.5,737.5L1297.9,743.5L1298.2,749.9L1298.6,756.7L1298.9,763.7L1299.2,771.0L1299.6,778.6L1299.9,786.5L1300.2,794.8L1300.6,803.3L1300.9,812.1L1301.3,821.2L1301.6,830.5L1301.9,840.1L1302.3,849.8L1302.6,859.7L1303.0,869.8L1303.3,879.8L1303.6,889.8L1304.0,899.6L1304.3,909.1L1304.6,918.1L1305.0,926.5L1305.3,934.1L1305.7,940.6L1306.0,945.9L1306.3,949.8L1306.7,952.2L1307.0,953.0L1307.3,951.7L1307.7,947.8L1308.0,941.4L1308.3,933.0L1308.7,923.0L1309.0,911.7L1309.3,899.6L1309.7,887.0L1310.0,874.2L1310.3,861.4L1310.7,848.8L1311.0,836.5L1311.3,824.7L1311.7,813.3L1312.0,802.4L1312.3,792.1L1312.7,782.3L1313.0,773.2L1313.3,764.6L1313.7,756.7L1314.0,749.3L1314.3,742.7L1314.7,736.7L1315.0,731.5L1315.3,727.2L1315.7,723.8L1316.0,722.0L1316.3,723.9L1316.7,727.3L1317.0,731.9L1317.3,737.3L1317.7,743.5L1318.0,750.4L1318.3,758.1L1318.7,766.4L1319.0,775.4L1319.3,785.1L1319.7,795.5L1320.0,806.5L1320.3,818.2L1320.7,830.5L1321.0,843.4L1321.3,856.9L1321.7,870.9L1322.0,885.3L1322.3,899.9L1322.7,914.5L1323.0,928.8L1323.3,942.4L1323.7,954.8L1324.0,965.2L1324.3,973.3L1324.7,978.3L1325.0,980.0L1325.2,976.4L1325.3,972.8L1325.5,969.2L1325.7,965.6L1325.8,962.0L1326.0,958.4L1326.2,954.9L1326.3,951.3L1326.5,947.7L1326.7,944.2L1326.8,940.7L1327.0,937.1L1327.2,933.6L1327.3,930.1L1327.5,926.6L1327.7,923.1L1327.8,919.6L1328.0,916.1L1328.2,912.6L1328.3,909.1L1328.5,905.7L1328.7,902.2L1328.8,898.7L1329.0,895.3L1329.2,891.9L1329.3,888.4L1329.5,885.0L1329.7,881.5L1329.8,878.0L1330.0,874.4L1330.2,870.7L1330.3,867.0L1330.5,863.3L1330.7,859.6L1330.8,855.8L1331.0,852.1L1331.2,848.4L1331.3,844.7L1331.5,841.1L1331.7,837.5L1331.8,834.0L1332.0,830.5L1332.2,827.2L1332.3,823.9L1332.5,820.8L1332.7,817.8L1332.8,814.9L1333.0,812.2L1333.2,809.6L1333.3,807.2L1333.5,805.0L1333.7,802.9L1333.8,800.9L1334.0,798.9L1334.2,796.9L1334.3,795.0L1334.5,793.1L1334.7,791.3L1334.8,789.5L1335.0,787.8L1335.2,786.1L1335.3,784.5L1335.5,782.9L1335.7,781.3L1335.8,779.9L1336.0,778.4L1336.2,777.0L1336.3,775.7L1336.5,774.5L1336.7,773.2L1336.8,772.1L1337.0,771.0L1337.2,769.9L1337.3,768.9L1337.5,768.0L1337.7,767.1L1337.8,766.3L1338.0,765.5L1338.2,764.8L1338.3,764.1L1338.5,763.4L1338.7,762.8L1338.8,762.2L1339.0,761.6L1339.2,761.0L1339.3,760.5L1339.5,759.9L1339.7,759.4L1339.8,758.9L1340.0,758.4L1340.2,757.8L1340.3,757.3L1340.5,756.8L1340.7,756.2L1340.8,755.7L1341.0,755.1L1341.2,754.5L1341.3,753.9L1341.5,753.2L1341.7,752.5L1341.8,751.8L1342.0,751.0L1342.2,750.2L1342.3,749.3L1342.5,748.3L1342.7,747.3L1342.8,746.2L1343.0,745.1L1343.2,744.0L1343.3,742.8L1343.5,741.6L1343.7,740.4L1343.8,739.1L1344.0,737.9L1344.2,736.6L1344.3,735.4L1344.5,734.1L1344.7,732.9L1344.8,731.7L1345.0,730.5L1345.2,729.4L1345.3,728.3L1345.5,727.2L1345.7,726.2L1345.8,725.2L1346.0,724.3L1346.2,723.5L1346.3,722.7L1346.5,722.0L1346.7,721.4L1346.8,720.7L1347.0,720.1L1347.2,719.4L1347.3,718.8L1347.5,718.1L1347.7,717.5L1347.8,716.8L1348.0,716.2L1348.2,715.6L1348.3,714.9L1348.5,714.3L1348.7,713.7L1348.8,713.1L1349.0,712.5L1349.2,711.8L1349.3,711.2L1349.5,710.6L1349.7,710.0L1349.8,709.4L1350.0,708.8L1350.2,708.2L1350.3,707.6L1350.5,707.0L1350.7,706.4L1350.8,705.8L1351.0,705.2L1351.2,704.7L1351.3,704.1L1351.5,703.5L1351.7,703.0L1351.8,702.4L1352.0,701.8L1352.2,701.3L1352.3,700.7L1352.5,700.2L1352.7,699.7L1352.8,699.1L1353.0,698.6L1353.2,698.1L1353.3,697.5L1353.5,697.0L1353.7,696.5L1353.8,696.0L1354.0,695.5L1354.2,695.0L1354.3,694.5L1354.5,694.1L1354.7,693.6L1354.8,693.1L1355.0,692.6L1355.2,692.2L1355.3,691.7L1355.5,691.3L1355.7,690.9L1355.8,690.4L1356.0,690.0L1356.2,689.6L1356.3,689.2L1356.5,688.8L1356.7,688.4L1356.8,688.0L1357.0,687.6L1357.2,687.2L1357.3,686.8L1357.5,686.5L1357.7,686.1L1357.8,685.8L1358.0,685.4L1358.2,685.1L1358.3,684.8L1358.5,684.4L1358.7,684.1L1358.8,683.8L1359.0,683.5L1359.2,683.3L1359.3,683.0L1359.5,682.7L1359.7,682.5L1359.8,682.2L1360.0,682.0L1360.2,681.7L1360.3,681.5L1360.5,681.3L1360.7,681.1L1360.8,680.9L1361.0,680.7L1361.2,680.5L1361.3,680.3L1361.5,680.2L1361.7,680.0L1361.8,679.9L1362.0,679.8L1362.2,679.6L1362.3,679.5L1362.5,679.4L1362.7,679.3L1362.8,679.3L1363.0,679.2L1363.2,679.1L1363.3,679.1L1363.5,679.0L1363.7,679.0L1363.8,679.0L1364.0,679.0L1364.3,679.7L1364.7,681.1L1365.0,682.8L1365.3,684.9L1365.7,687.2L1366.0,689.9L1366.4,692.7L1366.7,695.8L1367.0,699.2L1367.4,702.7L1367.7,706.5L1368.0,710.4L1368.4,714.6L1368.7,719.0L1369.0,723.5L1369.4,728.3L1369.7,733.3L1370.1,738.5L1370.4,743.9L1370.7,749.5L1371.1,755.3L1371.4,761.3L1371.7,767.5L1372.1,774.0L1372.4,780.6L1372.8,787.5L1373.1,794.6L1373.4,801.9L1373.8,809.5L1374.1,817.2L1374.4,825.2L1374.8,833.4L1375.1,841.8L1375.4,850.3L1375.8,859.1L1376.1,868.0L1376.5,877.0L1376.8,886.2L1377.1,895.4L1377.5,904.6L1377.8,913.7L1378.1,922.6L1378.5,931.3L1378.8,939.7L1379.1,947.5L1379.5,954.7L1379.8,961.2L1380.2,966.7L1380.5,971.1L1380.8,974.4L1381.2,976.3L1381.5,977.0L1381.8,971.4L1382.2,955.7L1382.5,933.2L1382.9,907.3L1383.2,880.4L1383.6,854.1L1383.9,829.2L1384.2,805.9L1384.6,784.5L1384.9,764.8L1385.3,746.9L1385.6,730.7L1385.9,716.1L1386.3,703.1L1386.6,691.6L1387.0,681.7L1387.3,673.6L1387.7,667.4L1388.0,664.0L1388.3,664.5L1388.7,665.4L1389.0,666.6L1389.3,668.0L1389.7,669.5L1390.0,671.3L1390.3,673.2L1390.7,675.3L1391.0,677.5L1391.3,679.8L1391.7,682.3L1392.0,684.9L1392.3,687.7L1392.7,690.5L1393.0,693.5L1393.3,696.7L1393.7,699.9L1394.0,703.3L1394.3,706.7L1394.7,710.3L1395.0,714.1L1395.3,717.9L1395.7,721.9L1396.0,726.0L1396.3,730.2L1396.7,734.5L1397.0,739.0L1397.3,743.6L1397.7,748.3L1398.0,753.1L1398.3,758.1L1398.7,763.2L1399.0,768.4L1399.3,773.8L1399.7,779.3L1400.0,785.0L1400.4,790.7L1400.7,796.7L1401.0,802.7L1401.4,808.9L1401.7,815.2L1402.0,821.7L1402.4,828.3L1402.7,835.0L1403.0,841.9L1403.4,848.8L1403.7,855.9L1404.0,863.0L1404.4,870.3L1404.7,877.6L1405.0,884.9L1405.4,892.3L1405.7,899.6L1406.0,906.9L1406.4,914.1L1406.7,921.2L1407.0,928.1L1407.4,934.7L1407.7,941.0L1408.0,947.0L1408.4,952.4L1408.7,957.4L1409.0,961.7L1409.4,965.3L1409.7,968.2L1410.0,970.3L1410.4,971.6L1410.7,972.0L1411.0,971.6L1411.4,970.3L1411.7,968.2L1412.1,965.3L1412.4,961.7L1412.7,957.4L1413.1,952.4L1413.4,947.0L1413.8,941.0L1414.1,934.7L1414.4,928.1L1414.8,921.2L1415.1,914.2L1415.4,907.0L1415.8,899.7L1416.1,892.4L1416.5,885.2L1416.8,877.9L1417.1,870.7L1417.5,863.6L1417.8,856.5L1418.2,849.6L1418.5,842.8L1418.8,836.2L1419.2,829.6L1419.5,823.3L1419.8,817.1L1420.2,811.0L1420.5,805.1L1420.9,799.4L1421.2,793.8L1421.5,788.4L1421.9,783.1L1422.2,778.0L1422.6,773.1L1422.9,768.3L1423.2,763.8L1423.6,759.3L1423.9,755.1L1424.3,751.0L1424.6,747.1L1424.9,743.4L1425.3,739.8L1425.6,736.4L1426.0,733.3L1426.3,730.3L1426.6,727.4L1427.0,724.9L1427.3,722.5L1427.6,720.3L1428.0,718.5L1428.3,716.9L1428.7,715.7L1429.0,715.0L1429.3,716.0L1429.7,717.8L1430.0,720.1L1430.3,722.9L1430.7,726.2L1431.0,729.7L1431.3,733.6L1431.7,737.9L1432.0,742.5L1432.3,747.4L1432.7,752.6L1433.0,758.1L1433.3,764.0L1433.7,770.2L1434.0,776.7L1434.3,783.6L1434.7,790.8L1435.0,798.3L1435.3,806.2L1435.7,814.5L1436.0,823.2L1436.3,832.3L1436.7,841.8L1437.0,851.8L1437.4,862.2L1437.7,873.2L1438.0,884.6L1438.4,896.5L1438.7,909.0L1439.0,922.1L1439.4,935.7L1439.7,949.9L1440.0,964.6L1440.4,979.8L1440.7,995.5L1441.0,1011.4L1441.4,1027.4L1441.7,1043.1L1442.0,1058.2L1442.4,1072.0L1442.7,1083.9L1443.0,1093.2L1443.4,1099.0L1443.7,1101.0L1444.0,1100.0L1444.4,1097.1L1444.7,1092.3L1445.1,1085.8L1445.4,1078.0L1445.8,1069.0L1446.1,1059.3L1446.5,1049.1L1446.8,1038.6L1447.2,1028.1L1447.5,1017.7L1447.9,1007.6L1448.2,997.9L1448.6,988.7L1448.9,980.1L1449.3,972.1L1449.6,965.0L1450.0,958.7L1450.3,953.3L1450.7,949.2L1451.0,947.0L1451.3,948.8L1451.7,952.0L1452.0,956.3L1452.3,961.4L1452.7,967.3L1453.0,973.9L1453.3,981.1L1453.7,989.1L1454.0,997.7L1454.3,1007.0L1454.7,1016.9L1455.0,1027.6L1455.3,1039.0L1455.7,1051.1L1456.0,1064.0L1456.4,1077.6L1456.7,1092.0L1457.0,1107.2L1457.4,1123.1L1457.7,1139.8L1458.0,1157.0L1458.4,1174.5L1458.7,1192.1L1459.0,1209.3L1459.4,1225.3L1459.7,1239.4L1460.0,1250.5L1460.4,1257.6L1460.7,1260.0L1461.0,1254.2L1461.4,1238.3L1461.7,1215.6L1462.1,1189.4L1462.4,1162.2L1462.7,1135.5L1463.1,1109.9L1463.4,1085.8L1463.8,1063.3L1464.1,1042.2L1464.5,1022.5L1464.8,1004.2L1465.1,987.0L1465.5,970.9L1465.8,955.8L1466.2,941.6L1466.5,928.3L1466.8,915.7L1467.2,903.8L1467.5,892.6L1467.9,882.1L1468.2,872.1L1468.5,862.6L1468.9,853.7L1469.2,845.3L1469.6,837.4L1469.9,829.9L1470.2,822.8L1470.6,816.3L1470.9,810.1L1471.3,804.4L1471.6,799.0L1472.0,794.2L1472.3,789.7L1472.6,785.8L1473.0,782.3L1473.3,779.4L1473.7,777.2L1474.0,776.0L1474.3,776.7L1474.7,778.0L1475.0,779.7L1475.4,781.6L1475.7,783.7L1476.0,785.9L1476.4,788.2L1476.7,790.5L1477.1,792.9L1477.4,795.2L1477.8,797.4L1478.1,799.6L1478.4,801.6L1478.8,803.5L1479.1,805.2L1479.5,806.7L1479.8,808.0L1480.1,809.1L1480.5,809.9L1480.8,810.5L1481.2,810.9L1481.5,811.0L1481.8,810.8L1482.2,810.3L1482.5,809.5L1482.8,808.4L1483.2,806.9L1483.5,805.1L1483.8,803.0L1484.2,800.6L1484.5,798.0L1484.8,795.1L1485.2,791.9L1485.5,788.6L1485.8,785.1L1486.2,781.4L1486.5,777.6L1486.8,773.6L1487.2,769.6L1487.5,765.5L1487.8,761.3L1488.2,757.1L1488.5,752.8L1488.8,748.5L1489.2,744.3L1489.5,740.0L1489.8,735.8L1490.2,731.6L1490.5,727.4L1490.8,723.4L1491.2,719.4L1491.5,715.4L1491.8,711.6L1492.2,707.8L1492.5,704.2L1492.8,700.7L1493.2,697.2L1493.5,693.9L1493.8,690.8L1494.2,687.7L1494.5,684.9L1494.8,682.1L1495.2,679.6L1495.5,677.2L1495.8,675.0L1496.2,673.0L1496.5,671.2L1496.8,669.8L1497.2,668.6L1497.5,668.0L1497.8,673.9L1498.2,684.8L1498.5,699.4L1498.9,717.3L1499.2,738.4L1499.6,762.9L1499.9,790.8L1500.3,822.1L1500.6,856.6L1501.0,893.0L1501.3,928.0L1501.7,954.7L1502.0,965.0L1502.3,964.7L1502.7,963.6L1503.0,961.8L1503.3,959.4L1503.7,956.4L1504.0,952.7L1504.3,948.5L1504.7,943.8L1505.0,938.8L1505.3,933.3L1505.7,927.6L1506.0,921.7L1506.3,915.7L1506.7,909.5L1507.0,903.3L1507.3,897.1L1507.7,890.9L1508.0,884.8L1508.3,878.8L1508.7,873.0L1509.0,867.3L1509.3,861.8L1509.7,856.6L1510.0,851.5L1510.3,846.8L1510.7,842.3L1511.0,838.1L1511.3,834.2L1511.7,830.8L1512.0,827.7L1512.3,825.1L1512.7,823.1L1513.0,822.0L1513.3,823.1L1513.7,825.1L1514.0,827.6L1514.3,830.7L1514.7,834.1L1515.0,837.9L1515.3,842.0L1515.7,846.5L1516.0,851.2L1516.3,856.1L1516.7,861.3L1517.0,866.7L1517.3,872.3L1517.7,878.0L1518.0,883.9L1518.3,889.9L1518.7,895.9L1519.0,902.0L1519.3,908.1L1519.7,914.1L1520.0,920.0L1520.3,925.8L1520.7,931.3L1521.0,936.6L1521.3,941.5L1521.7,946.1L1522.0,950.1L1522.3,953.7L1522.7,956.6L1523.0,959.0L1523.3,960.6L1523.7,961.7L1524.0,962.0L1524.3,956.2L1524.7,939.9L1525.0,916.7L1525.3,890.1L1525.7,862.9L1526.0,836.6L1526.3,812.0L1526.7,789.5L1527.0,769.1L1527.3,750.9L1527.7,735.0L1528.0,721.4L1528.3,710.1L1528.7,701.6L1529.0,697.0L1529.3,698.4L1529.7,700.9L1530.0,704.2L1530.3,708.1L1530.7,712.7L1531.0,717.7L1531.3,723.3L1531.7,729.4L1532.0,736.0L1532.3,743.2L1532.7,750.8L1533.0,759.0L1533.3,767.7L1533.7,777.1L1534.0,787.0L1534.3,797.6L1534.7,808.8L1535.0,820.9L1535.3,833.7L1535.7,847.3L1536.0,862.0L1536.3,877.6L1536.7,894.5L1537.0,912.6L1537.3,932.3L1537.7,953.5L1538.0,976.7L1538.3,1002.1L1538.7,1029.9L1539.0,1060.6L1539.3,1094.3L1539.7,1130.9L1540.0,1169.5L1540.3,1207.0L1540.7,1236.4L1541.0,1248.0L1541.3,1246.1L1541.7,1240.7L1542.0,1232.1L1542.3,1220.9L1542.7,1207.8L1543.0,1193.4L1543.3,1178.3L1543.7,1162.9L1544.0,1147.6L1544.3,1132.5L1544.7,1117.7L1545.0,1103.5L1545.3,1089.7L1545.7,1076.6L1546.0,1063.9L1546.3,1051.9L1546.7,1040.4L1547.0,1029.5L1547.3,1019.1L1547.7,1009.2L1548.0,999.8L1548.3,990.9L1548.7,982.5L1549.0,974.6L1549.3,967.1L1549.7,960.1L1550.0,953.5L1550.3,947.4L1550.7,941.7L1551.0,936.5L1551.3,931.7L1551.7,927.5L1552.0,923.8L1552.3,920.7L1552.7,918.3L1553.0,917.0L1553.2,917.2L1553.3,917.7L1553.5,918.3L1553.7,919.2L1553.8,920.2L1554.0,921.4L1554.2,922.8L1554.3,924.3L1554.5,926.1L1554.7,928.0L1554.8,930.0L1555.0,932.2L1555.2,934.5L1555.3,936.9L1555.5,939.5L1555.7,942.2L1555.8,945.0L1556.0,947.9L1556.2,950.9L1556.3,954.0L1556.5,957.2L1556.7,960.5L1556.8,963.9L1557.0,967.3L1557.2,970.8L1557.3,974.3L1557.5,977.9L1557.7,981.5L1557.8,985.1L1558.0,988.8L1558.2,992.5L1558.3,996.3L1558.5,1000.0L1558.7,1004.0L1558.8,1008.4L1559.0,1013.2L1559.2,1018.5L1559.3,1024.1L1559.5,1030.0L1559.7,1036.2L1559.8,1042.6L1560.0,1049.3L1560.2,1056.2L1560.3,1063.2L1560.5,1070.4L1560.7,1077.6L1560.8,1084.9L1561.0,1092.2L1561.2,1099.6L1561.3,1106.9L1561.5,1114.1L1561.7,1121.2L1561.8,1128.2L1562.0,1135.0L1562.2,1141.7L1562.3,1148.4L1562.5,1155.0L1562.7,1161.7L1562.8,1168.4L1563.0,1175.1L1563.2,1181.9L1563.3,1188.7L1563.5,1195.6L1563.7,1202.7L1563.8,1209.8L1564.0,1217.1L1564.2,1224.6L1564.3,1232.2L1564.5,1240.0L1564.7,1247.8L1564.8,1255.6L1565.0,1263.4L1565.2,1271.4L1565.3,1279.8L1565.5,1288.8L1565.7,1298.3L1565.8,1308.7L1566.0,1320.0L1566.2,1333.1L1566.3,1348.5L1566.5,1365.5L1566.7,1383.8L1566.8,1402.7L1567.0,1421.8L1567.2,1440.6L1567.3,1458.5L1567.5,1475.5L1567.7,1475.5L1567.8,1475.5L1568.0,1475.5L1568.2,1475.5L1568.3,1475.5L1568.5,1475.5L1568.7,1475.5L1568.8,1475.5L1569.0,1475.5L1569.2,1475.5L1569.3,1475.5L1569.5,1475.5L1569.7,1475.5L1569.8,1475.5L1570.0,1475.5L1570.2,1475.5L1570.3,1475.5L1570.5,1475.5L1570.7,1475.5L1570.8,1475.5L1571.0,1475.5L1571.2,1475.5L1571.3,1475.5L1571.5,1475.5L1571.7,1475.5L1571.8,1475.5L1572.0,1475.5L1572.2,1475.5L1572.3,1475.5L1572.5,1475.5L1572.7,1475.5L1572.8,1475.5L1573.0,1475.5L1573.2,1475.5L1573.3,1475.5L1573.5,1475.5L1573.7,1464.2L1573.8,1452.8L1574.0,1442.1L1574.2,1432.0L1574.3,1422.5L1574.5,1413.4L1574.7,1404.8L1574.8,1396.5L1575.0,1388.6L1575.2,1380.8L1575.3,1373.3L1575.5,1365.8L1575.7,1358.4L1575.8,1351.0L1576.0,1343.5L1576.2,1335.9L1576.3,1328.1L1576.5,1320.0L1576.7,1312.2L1576.8,1305.1L1577.0,1298.3L1577.2,1291.8L1577.3,1285.2L1577.5,1278.2L1577.7,1270.6L1577.8,1262.2L1578.0,1252.7L1578.2,1241.8L1578.3,1229.2L1578.5,1210.3L1578.7,1184.7L1578.8,1154.7L1579.0,1122.7L1579.2,1090.9L1579.3,1061.5L1579.5,1037.0L1579.7,1015.9L1579.8,995.3L1580.0,975.6L1580.2,957.0L1580.3,939.7L1580.5,923.9L1580.7,909.8L1580.8,897.7L1581.0,886.3L1581.2,874.9L1581.3,863.7L1581.5,852.5L1581.7,841.5L1581.8,830.6L1582.0,820.0L1582.2,809.7L1582.3,799.6L1582.5,789.9L1582.7,780.5L1582.8,771.6L1583.0,763.0L1583.2,755.0L1583.3,747.5L1583.5,740.5L1583.7,734.1L1583.8,728.3L1584.0,723.1L1584.2,718.7L1584.3,714.9L1584.5,712.0L1584.7,709.8L1584.8,708.5L1585.0,708.0L1585.3,709.1L1585.7,711.1L1586.0,713.8L1586.3,716.9L1586.7,720.5L1587.0,724.5L1587.4,728.9L1587.7,733.6L1588.0,738.8L1588.4,744.3L1588.7,750.1L1589.0,756.3L1589.4,762.9L1589.7,769.8L1590.1,777.1L1590.4,784.8L1590.7,792.8L1591.1,801.3L1591.4,810.1L1591.8,819.4L1592.1,829.0L1592.4,839.1L1592.8,849.6L1593.1,860.6L1593.4,872.0L1593.8,883.7L1594.1,895.9L1594.5,908.5L1594.8,921.4L1595.1,934.5L1595.5,947.8L1595.8,961.0L1596.1,974.0L1596.5,986.4L1596.8,998.0L1597.2,1008.4L1597.5,1017.0L1597.8,1023.6L1598.2,1027.6L1598.5,1029.0L1598.8,1026.9L1599.2,1020.6L1599.5,1010.8L1599.8,998.1L1600.2,983.5L1600.5,967.7L1600.8,951.3L1601.2,934.8L1601.5,918.5L1601.8,902.6L1602.2,887.2L1602.5,872.5L1602.8,858.5L1603.2,845.2L1603.5,832.6L1603.8,820.6L1604.2,809.3L1604.5,798.7L1604.8,788.8L1605.2,779.4L1605.5,770.7L1605.8,762.6L1606.2,755.2L1606.5,748.3L1606.8,742.1L1607.2,736.6L1607.5,731.8L1607.8,727.8L1608.2,724.7L1608.5,723.0L1608.8,724.5L1609.2,727.4L1609.5,731.1L1609.8,735.5L1610.2,740.6L1610.5,746.3L1610.9,752.6L1611.2,759.4L1611.5,766.9L1611.9,774.8L1612.2,783.4L1612.5,792.5L1612.9,802.2L1613.2,812.6L1613.6,823.5L1613.9,835.2L1614.2,847.4L1614.6,860.4L1614.9,874.1L1615.2,888.4L1615.6,903.5L1615.9,919.3L1616.3,935.6L1616.6,952.4L1616.9,969.5L1617.3,986.5L1617.6,1003.0L1618.0,1018.3L1618.3,1031.6L1618.6,1042.1L1619.0,1048.7L1619.3,1051.0L1619.6,1050.8L1620.0,1050.4L1620.3,1049.6L1620.6,1048.5L1621.0,1047.0L1621.3,1045.3L1621.6,1043.3L1622.0,1041.0L1622.3,1038.5L1622.6,1035.7L1623.0,1032.7L1623.3,1029.4L1623.6,1026.0L1624.0,1022.3L1624.3,1018.6L1624.6,1014.6L1625.0,1010.5L1625.3,1006.4L1625.6,1002.1L1626.0,997.7L1626.3,993.2L1626.6,988.7L1627.0,984.1L1627.3,979.5L1627.6,974.9L1628.0,970.2L1628.3,965.5L1628.6,960.8L1629.0,956.1L1629.3,951.5L1629.6,946.8L1630.0,942.1L1630.3,937.5L1630.6,932.9L1631.0,928.3L1631.3,923.7L1631.6,919.2L1632.0,914.7L1632.3,910.3L1632.6,905.8L1633.0,901.5L1633.3,897.1L1633.6,892.8L1634.0,888.6L1634.3,884.4L1634.6,880.2L1635.0,876.1L1635.3,872.0L1635.6,867.9L1636.0,864.0L1636.3,860.0L1636.6,856.1L1637.0,852.2L1637.3,848.4L1637.6,844.6L1638.0,840.9L1638.3,837.2L1638.6,833.6L1639.0,830.0L1639.3,826.4L1639.6,822.9L1640.0,819.4L1640.3,815.9L1640.6,812.5L1641.0,809.2L1641.3,805.8L1641.7,802.6L1642.0,799.3L1642.3,796.1L1642.7,792.9L1643.0,789.8L1643.3,786.7L1643.7,783.6L1644.0,780.6L1644.3,777.6L1644.7,774.6L1645.0,771.7L1645.3,768.8L1645.7,766.0L1646.0,763.2L1646.3,760.4L1646.7,757.6L1647.0,754.9L1647.3,752.2L1647.7,749.5L1648.0,746.9L1648.3,744.3L1648.7,741.7L1649.0,739.2L1649.3,736.7L1649.7,734.2L1650.0,731.8L1650.3,729.4L1650.7,727.0L1651.0,724.6L1651.3,722.3L1651.7,720.0L1652.0,717.8L1652.3,715.5L1652.7,713.3L1653.0,711.1L1653.3,709.0L1653.7,706.9L1654.0,704.8L1654.3,702.7L1654.7,700.7L1655.0,698.7L1655.3,696.7L1655.7,694.8L1656.0,692.9L1656.3,691.0L1656.7,689.1L1657.0,687.3L1657.3,685.5L1657.7,683.8L1658.0,682.1L1658.3,680.4L1658.7,678.7L1659.0,677.1L1659.3,675.5L1659.7,674.0L1660.0,672.5L1660.3,671.1L1660.7,669.7L1661.0,668.3L1661.3,667.0L1661.7,665.8L1662.0,664.7L1662.3,663.6L1662.7,662.7L1663.0,662.0L1663.3,663.5L1663.7,666.3L1664.0,670.0L1664.3,674.4L1664.7,679.4L1665.0,685.1L1665.3,691.3L1665.7,698.1L1666.0,705.5L1666.3,713.5L1666.7,722.0L1667.0,731.2L1667.3,741.0L1667.7,751.4L1668.0,762.5L1668.3,774.4L1668.7,787.0L1669.0,800.5L1669.3,814.8L1669.7,830.1L1670.0,846.3L1670.3,863.7L1670.7,882.1L1671.0,901.7L1671.3,922.5L1671.7,944.3L1672.0,967.1L1672.3,990.3L1672.7,1013.1L1673.0,1034.3L1673.3,1051.9L1673.7,1063.8L1674.0,1068.0L1674.3,1063.7L1674.7,1051.4L1675.0,1033.2L1675.3,1011.4L1675.7,988.0L1676.0,964.4L1676.3,941.4L1676.7,919.3L1677.0,898.4L1677.3,878.7L1677.7,860.2L1678.0,842.9L1678.3,826.7L1678.7,811.6L1679.0,797.4L1679.3,784.2L1679.7,771.9L1680.0,760.3L1680.3,749.6L1680.7,739.6L1681.0,730.3L1681.3,721.7L1681.7,713.8L1682.0,706.6L1682.3,700.0L1682.7,694.2L1683.0,689.2L1683.3,685.0L1683.7,681.8L1684.0,680.0L1684.3,680.7L1684.7,682.1L1685.0,683.8L1685.3,685.9L1685.7,688.3L1686.0,690.9L1686.3,693.8L1686.7,697.0L1687.0,700.3L1687.3,703.9L1687.7,707.7L1688.0,711.8L1688.3,716.0L1688.7,720.5L1689.0,725.2L1689.3,730.1L1689.7,735.2L1690.0,740.6L1690.3,746.1L1690.7,752.0L1691.0,758.0L1691.3,764.4L1691.7,770.9L1692.0,777.8L1692.3,784.9L1692.7,792.3L1693.0,800.0L1693.3,808.1L1693.7,816.4L1694.0,825.1L1694.3,834.1L1694.7,843.6L1695.0,853.4L1695.3,863.6L1695.7,874.3L1696.0,885.4L1696.3,897.0L1696.7,909.0L1697.0,921.6L1697.3,934.7L1697.7,948.4L1698.0,962.6L1698.3,977.2L1698.7,992.4L1699.0,1007.9L1699.3,1023.7L1699.7,1039.5L1700.0,1055.1L1700.3,1069.9L1700.7,1083.5L1701.0,1095.2L1701.3,1104.3L1701.7,1110.0L1702.0,1112.0L1702.3,1110.3L1702.7,1105.1L1703.0,1097.0L1703.3,1086.5L1703.7,1074.1L1704.0,1060.4L1704.4,1046.0L1704.7,1031.2L1705.0,1016.3L1705.4,1001.5L1705.7,987.1L1706.0,972.9L1706.4,959.2L1706.7,945.9L1707.0,933.1L1707.4,920.8L1707.7,908.9L1708.0,897.5L1708.4,886.4L1708.7,875.8L1709.1,865.6L1709.4,855.8L1709.7,846.3L1710.1,837.2L1710.4,828.3L1710.7,819.8L1711.1,811.6L1711.4,803.7L1711.7,796.1L1712.1,788.7L1712.4,781.5L1712.7,774.6L1713.1,767.9L1713.4,761.4L1713.8,755.2L1714.1,749.1L1714.4,743.2L1714.8,737.6L1715.1,732.1L1715.4,726.8L1715.8,721.6L1716.1,716.6L1716.4,711.8L1716.8,707.2L1717.1,702.7L1717.4,698.3L1717.8,694.2L1718.1,690.1L1718.5,686.2L1718.8,682.5L1719.1,678.9L1719.5,675.4L1719.8,672.1L1720.1,668.9L1720.5,665.9L1720.8,663.0L1721.1,660.3L1721.5,657.7L1721.8,655.3L1722.1,653.0L1722.5,650.9L1722.8,649.0L1723.2,647.3L1723.5,645.8L1723.8,644.5L1724.2,643.5L1724.5,643.0L1724.8,645.0L1725.2,648.8L1725.5,653.6L1725.9,659.4L1726.2,666.1L1726.5,673.5L1726.9,681.7L1727.2,690.6L1727.6,700.2L1727.9,710.4L1728.2,721.3L1728.6,732.9L1728.9,745.0L1729.3,757.6L1729.6,770.6L1729.9,784.0L1730.3,797.4L1730.6,810.8L1731.0,823.8L1731.3,836.0L1731.6,847.0L1732.0,856.2L1732.3,863.2L1732.7,867.5L1733.0,869.0L1733.3,868.0L1733.7,865.2L1734.0,860.5L1734.3,854.2L1734.7,846.5L1735.0,837.7L1735.3,828.0L1735.7,817.7L1736.0,807.1L1736.3,796.2L1736.7,785.3L1737.0,774.5L1737.3,763.9L1737.7,753.5L1738.0,743.5L1738.3,733.8L1738.7,724.5L1739.0,715.6L1739.3,707.1L1739.7,699.1L1740.0,691.6L1740.3,684.5L1740.7,677.9L1741.0,671.8L1741.3,666.3L1741.7,661.3L1742.0,657.0L1742.3,653.3L1742.7,650.5L1743.0,649.0L1743.3,649.6L1743.7,650.5L1744.0,651.6L1744.3,652.8L1744.7,654.2L1745.0,655.7L1745.4,657.3L1745.7,658.9L1746.0,660.7L1746.4,662.5L1746.7,664.4L1747.0,666.4L1747.4,668.4L1747.7,670.5L1748.0,672.7L1748.4,675.0L1748.7,677.3L1749.1,679.6L1749.4,682.0L1749.7,684.5L1750.1,687.1L1750.4,689.7L1750.7,692.3L1751.1,695.1L1751.4,697.8L1751.8,700.7L1752.1,703.6L1752.4,706.5L1752.8,709.5L1753.1,712.6L1753.4,715.7L1753.8,718.9L1754.1,722.1L1754.4,725.4L1754.8,728.8L1755.1,732.2L1755.5,735.7L1755.8,739.2L1756.1,742.8L1756.5,746.5L1756.8,750.2L1757.1,753.9L1757.5,757.8L1757.8,761.7L1758.1,765.6L1758.5,769.6L1758.8,773.7L1759.2,777.9L1759.5,782.1L1759.8,786.3L1760.2,790.6L1760.5,795.0L1760.8,799.4L1761.2,803.9L1761.5,808.5L1761.8,813.1L1762.2,817.7L1762.5,822.5L1762.9,827.2L1763.2,832.0L1763.5,836.9L1763.9,841.8L1764.2,846.7L1764.5,851.7L1764.9,856.7L1765.2,861.7L1765.5,866.8L1765.9,871.8L1766.2,876.8L1766.6,881.9L1766.9,886.9L1767.2,891.9L1767.6,896.8L1767.9,901.7L1768.2,906.5L1768.6,911.2L1768.9,915.8L1769.3,920.3L1769.6,924.6L1769.9,928.7L1770.3,932.7L1770.6,936.5L1770.9,940.0L1771.3,943.3L1771.6,946.2L1771.9,948.9L1772.3,951.3L1772.6,953.3L1773.0,955.0L1773.3,956.3L1773.6,957.2L1774.0,957.8L1774.3,958.0L1774.5,956.0L1774.6,954.0L1774.8,952.0L1775.0,950.0L1775.1,948.0L1775.3,946.0L1775.5,944.1L1775.6,942.1L1775.8,940.2L1776.0,938.3L1776.1,936.4L1776.3,934.6L1776.5,932.7L1776.6,930.9L1776.8,929.1L1777.0,927.3L1777.1,925.6L1777.3,923.9L1777.5,922.2L1777.6,920.5L1777.8,918.9L1778.0,917.3L1778.1,915.7L1778.3,914.2L1778.5,912.7L1778.6,911.1L1778.8,909.6L1779.0,908.2L1779.1,906.7L1779.3,905.3L1779.5,903.9L1779.6,902.4L1779.8,901.0L1780.0,899.7L1780.1,898.3L1780.3,896.9L1780.5,895.6L1780.6,894.3L1780.8,892.9L1781.0,891.6L1781.1,890.3L1781.3,889.0L1781.5,887.7L1781.6,886.5L1781.8,885.2L1782.0,883.9L1782.1,882.6L1782.3,881.4L1782.5,880.1L1782.6,878.9L1782.8,877.6L1783.0,876.4L1783.1,875.1L1783.3,873.9L1783.5,872.6L1783.6,871.4L1783.8,870.1L1784.0,868.9L1784.1,867.6L1784.3,866.4L1784.5,865.1L1784.6,863.9L1784.8,862.6L1785.0,861.3L1785.1,860.0L1785.3,858.7L1785.5,857.4L1785.6,856.1L1785.8,854.8L1786.0,853.5L1786.1,852.2L1786.3,850.8L1786.5,849.5L1786.6,848.2L1786.8,846.8L1787.0,845.5L1787.1,844.1L1787.3,842.7L1787.5,841.4L1787.6,840.0L1787.8,838.7L1788.0,837.3L1788.1,835.9L1788.3,834.6L1788.5,833.2L1788.6,831.8L1788.8,830.5L1789.0,829.1L1789.1,827.8L1789.3,826.4L1789.5,825.1L1789.6,823.7L1789.8,822.4L1790.0,821.0L1790.1,819.7L1790.3,818.4L1790.5,817.0L1790.6,815.7L1790.8,814.4L1791.0,813.1L1791.1,811.8L1791.3,810.5L1791.5,809.2L1791.6,808.0L1791.8,806.7L1792.0,805.4L1792.1,804.2L1792.3,803.0L1792.5,801.8L1792.6,800.5L1792.8,799.3L1793.0,798.2L1793.1,797.0L1793.3,795.8L1793.5,794.7L1793.6,793.6L1793.8,792.5L1794.0,791.4L1794.1,790.3L1794.3,789.2L1794.5,788.2L1794.6,787.1L1794.8,786.1L1795.0,785.1L1795.1,784.1L1795.3,783.2L1795.5,782.2L1795.6,781.2L1795.8,780.2L1796.0,779.3L1796.1,778.3L1796.3,777.4L1796.5,776.4L1796.6,775.4L1796.8,774.5L1797.0,773.5L1797.1,772.6L1797.3,771.7L1797.5,770.7L1797.6,769.8L1797.8,768.9L1798.0,768.0L1798.1,767.1L1798.3,766.2L1798.5,765.3L1798.6,764.4L1798.8,763.5L1799.0,762.6L1799.1,761.7L1799.3,760.9L1799.5,760.0L1799.6,759.2L1799.8,758.3L1800.0,757.5L1800.1,756.7L1800.3,755.9L1800.5,755.0L1800.6,754.2L1800.8,753.5L1801.0,752.7L1801.1,751.9L1801.3,751.1L1801.5,750.4L1801.6,749.6L1801.8,748.9L1802.0,748.2L1802.1,747.5L1802.3,746.8L1802.5,746.1L1802.6,745.4L1802.8,744.7L1803.0,744.0L1803.1,743.4L1803.3,742.8L1803.5,742.1L1803.6,741.5L1803.8,740.9L1804.0,740.3L1804.2,739.7L1804.3,739.2L1804.5,738.6L1804.7,738.1L1804.8,737.6L1805.0,737.0L1805.2,736.5L1805.3,736.1L1805.5,735.6L1805.7,735.1L1805.8,734.6L1806.0,734.1L1806.2,733.6L1806.3,733.2L1806.5,732.7L1806.7,732.3L1806.8,731.8L1807.0,731.4L1807.2,730.9L1807.3,730.5L1807.5,730.0L1807.7,729.6L1807.8,729.2L1808.0,728.8L1808.2,728.3L1808.3,727.9L1808.5,727.5L1808.7,727.1L1808.8,726.7L1809.0,726.3L1809.2,725.9L1809.3,725.5L1809.5,725.1L1809.7,724.7L1809.8,724.4L1810.0,724.0L1810.2,723.6L1810.3,723.3L1810.5,722.9L1810.7,722.5L1810.8,722.2L1811.0,721.8L1811.2,721.5L1811.3,721.1L1811.5,720.8L1811.7,720.4L1811.8,720.1L1812.0,719.8L1812.2,719.4L1812.3,719.1L1812.5,718.8L1812.7,718.5L1812.8,718.2L1813.0,717.8L1813.2,717.5L1813.3,717.2L1813.5,716.9L1813.7,716.6L1813.8,716.3L1814.0,716.0L1814.2,715.7L1814.3,715.4L1814.5,715.1L1814.7,714.8L1814.8,714.5L1815.0,714.3L1815.2,714.0L1815.3,713.7L1815.5,713.4L1815.7,713.1L1815.8,712.9L1816.0,712.6L1816.2,712.3L1816.3,712.1L1816.5,711.8L1816.7,711.5L1816.8,711.3L1817.0,711.0L1817.2,710.8L1817.3,710.5L1817.5,710.2L1817.7,710.0L1817.8,709.7L1818.0,709.5L1818.2,709.2L1818.3,709.0L1818.5,708.7L1818.7,708.5L1818.8,708.2L1819.0,708.0L1819.2,707.7L1819.3,707.5L1819.5,707.2L1819.7,707.0L1819.8,706.7L1820.0,706.5L1820.2,706.2L1820.3,706.0L1820.5,705.7L1820.7,705.5L1820.8,705.3L1821.0,705.0L1821.2,704.8L1821.3,704.5L1821.5,704.3L1821.7,704.1L1821.8,703.8L1822.0,703.6L1822.2,703.4L1822.3,703.1L1822.5,702.9L1822.7,702.7L1822.8,702.4L1823.0,702.2L1823.2,702.0L1823.3,701.8L1823.5,701.5L1823.7,701.3L1823.8,701.1L1824.0,700.9L1824.2,700.7L1824.3,700.4L1824.5,700.2L1824.7,700.0L1824.8,699.8L1825.0,699.6L1825.2,699.4L1825.3,699.2L1825.5,699.0L1825.7,698.8L1825.8,698.6L1826.0,698.4L1826.2,698.2L1826.3,698.0L1826.5,697.8L1826.7,697.6L1826.8,697.4L1827.0,697.2L1827.2,697.0L1827.3,696.8L1827.5,696.6L1827.7,696.5L1827.8,696.3L1828.0,696.1L1828.2,695.9L1828.3,695.7L1828.5,695.6L1828.7,695.4L1828.8,695.2L1829.0,695.0L1829.2,694.9L1829.3,694.7L1829.5,694.6L1829.7,694.4L1829.8,694.2L1830.0,694.1L1830.2,693.9L1830.3,693.8L1830.5,693.6L1830.7,693.5L1830.8,693.3L1831.0,693.2L1831.2,693.0L1831.3,692.9L1831.5,692.8L1831.7,692.6L1831.8,692.5L1832.0,692.4L1832.2,692.2L1832.3,692.1L1832.5,692.0L1832.7,691.9L1832.8,691.8L1833.0,691.6L1833.2,691.5L1833.3,691.4L1833.5,691.3L1833.7,691.2L1833.8,691.1L1834.0,691.0L1834.9,691.0L1835.9,691.0L1836.8,691.1L1837.7,691.2L1838.6,691.2L1839.6,691.4L1840.5,691.5L1841.4,691.6L1842.3,691.8L1843.3,692.0L1844.2,692.2L1845.1,692.4L1846.0,692.6L1847.0,692.9L1847.9,693.2L1848.8,693.5L1849.7,693.8L1850.7,694.1L1851.6,694.4L1852.5,694.8L1853.4,695.1L1854.4,695.5L1855.3,695.9L1856.2,696.2L1857.2,696.7L1858.1,697.1L1859.0,697.5L1859.9,697.9L1860.9,698.3L1861.8,698.8L1862.7,699.2L1863.6,699.7L1864.6,700.1L1865.5,700.6L1866.4,701.0L1867.3,701.5L1868.3,702.0L1869.2,702.4L1870.1,702.9L1871.0,703.3L1872.0,703.8L1872.9,704.2L1873.8,704.7L1874.7,705.1L1875.7,705.5L1876.6,705.9L1877.5,706.3L1878.4,706.8L1879.4,707.1L1880.3,707.5L1881.2,707.9L1882.2,708.2L1883.1,708.6L1884.0,708.9L1884.9,709.2L1885.9,709.5L1886.8,709.8L1887.7,710.1L1888.6,710.4L1889.6,710.6L1890.5,710.8L1891.4,711.0L1892.3,711.2L1893.3,711.4L1894.2,711.5L1895.1,711.6L1896.0,711.8L1897.0,711.8L1897.9,711.9L1898.8,712.0L1899.7,712.0L1900.7,712.0L1901.6,712.0L1902.5,712.0L1903.4,712.0L1904.4,712.0L1905.3,712.0L1906.2,712.0L1907.2,712.0L1908.1,712.0L1909.0,712.0L1909.9,712.0L1910.9,712.0L1911.8,712.0L1912.7,712.0L1913.6,712.0L1914.6,712.0L1915.5,712.0L1916.4,712.0L1917.3,712.0L1918.3,712.0L1919.2,712.0L1920.1,712.0L1921.0,712.0L1922.0,712.0L1922.9,712.0L1923.8,712.0L1924.7,712.0L1925.7,712.0L1926.6,712.0" stroke="#ff0000" stroke-width="10" stroke-dasharray="33 33" stroke-dashoffset="0"/>
<path d="M1093.3,725.4L1093.7,718.0L1094.0,714.0L1094.3,716.8L1094.7,721.8L1095.0,728.5M975.6,728.5L975.9,721.8L976.3,716.8L976.6,714.0L976.9,718.0L977.3,725.4M1109.5,772.7L1109.8,768.7L1110.2,765.7L1110.5,764.0L1110.8,764.7L1111.2,765.9L1111.5,767.5L1111.8,769.3L1112.2,771.5L1112.5,773.9M958.1,773.9L958.4,771.5L958.8,769.3L959.1,767.5L959.4,765.9L959.8,764.7L960.1,764.0L960.4,765.7L960.8,768.7L961.1,772.7M1147.5,788.8L1147.8,786.5L1148.2,784.3L1148.5,782.5L1148.8,780.9L1149.2,779.7L1149.5,779.0L1149.8,779.6L1150.2,780.6L1150.5,781.9L1150.8,783.4L1151.2,785.2L1151.5,787.2M919.1,787.2L919.4,785.2L919.8,783.4L920.1,781.9L920.4,780.6L920.8,779.6L921.1,779.0L921.4,779.7L921.8,780.9L922.1,782.5L922.4,784.3L922.8,786.5L923.1,788.8M1189.0,877.3L1189.3,880.5L1189.7,883.2L1190.0,885.3L1190.3,886.8L1190.7,887.7L1191.0,888.0L1191.3,887.3L1191.7,885.2L1192.0,881.7L1192.3,877.0M878.3,877.0L878.6,881.7L878.9,885.2L879.3,887.3L879.6,888.0L879.9,887.7L880.3,886.8L880.6,885.3L880.9,883.2L881.3,880.5L881.6,877.3M1197.0,772.4L1197.3,767.7L1197.7,764.0L1198.0,762.0L1198.3,763.6L1198.7,766.6L1199.0,770.4M871.6,770.4L871.9,766.6L872.3,763.6L872.6,762.0L872.9,764.0L873.3,767.7L873.6,772.4M1203.6,841.6L1203.9,845.2L1204.3,848.2L1204.6,850.3L1205.0,851.6L1205.3,852.0L1205.5,851.8L1205.6,851.0L1205.8,849.8L1206.0,848.4L1206.1,846.9L1206.3,846.0L1206.5,847.8L1206.6,850.7M864.0,850.7L864.1,847.8L864.3,846.0L864.5,846.9L864.6,848.4L864.8,849.8L865.0,851.0L865.1,851.8L865.3,852.0L865.6,851.6L866.0,850.3L866.3,848.2L866.7,845.2L867.0,841.6M1204.3,848.2L1204.6,850.3L1205.0,851.6L1205.3,852.0L1205.5,851.8L1205.6,851.0L1205.8,849.8L1206.0,848.4L1206.1,846.9L1206.3,846.0L1206.5,847.8L1206.6,850.7L1206.8,853.6L1207.0,856.0M863.6,856.0L863.8,853.6L864.0,850.7L864.1,847.8L864.3,846.0L864.5,846.9L864.6,848.4L864.8,849.8L865.0,851.0L865.1,851.8L865.3,852.0L865.6,851.6L866.0,850.3L866.3,848.2M1206.5,847.8L1206.6,850.7L1206.8,853.6L1207.0,856.0L1207.1,857.5L1207.3,858.0L1207.6,857.3L1208.0,855.0L1208.3,851.3L1208.6,846.3M862.0,846.3L862.3,851.3L862.6,855.0L863.0,857.3L863.3,858.0L863.5,857.5L863.6,856.0L863.8,853.6L864.0,850.7L864.1,847.8M1214.0,721.9L1214.3,717.4L1214.7,713.9L1215.0,712.0L1215.3,713.0L1215.7,714.9L1216.0,717.3L1216.4,720.2M854.2,720.2L854.6,717.3L854.9,714.9L855.3,713.0L855.6,712.0L855.9,713.9L856.3,717.4L856.6,721.9M1233.6,813.8L1234.0,809.7L1234.3,806.2L1234.7,803.5L1235.0,802.0L1235.3,803.3L1235.7,805.6L1236.0,808.6L1236.3,812.1M834.3,812.1L834.6,808.6L834.9,805.6L835.3,803.3L835.6,802.0L835.9,803.5L836.3,806.2L836.6,809.7L837.0,813.8M1255.7,809.2L1256.0,805.6L1256.3,802.6L1256.7,800.3L1257.0,799.0L1257.3,800.7L1257.7,803.8L1258.0,807.8M812.6,807.8L812.9,803.8L813.3,800.7L813.6,799.0L813.9,800.3L814.3,802.6L814.6,805.6L814.9,809.2M1270.0,777.0L1270.3,771.1L1270.7,766.5L1271.0,764.0L1271.3,768.2L1271.7,776.0M798.9,776.0L799.3,768.2L799.6,764.0L799.9,766.5L800.3,771.1L800.6,777.0M1292.8,704.8L1293.2,696.5L1293.5,692.0L1293.8,693.0L1294.2,695.0L1294.5,697.5L1294.8,700.4M775.8,700.4L776.1,697.5L776.4,695.0L776.8,693.0L777.1,692.0L777.4,696.5L777.8,704.8M1315.0,731.5L1315.3,727.2L1315.7,723.8L1316.0,722.0L1316.3,723.9L1316.7,727.3L1317.0,731.9M753.6,731.9L753.9,727.3L754.3,723.9L754.6,722.0L754.9,723.8L755.3,727.2L755.6,731.5M1358.5,684.4L1358.7,684.1L1358.8,683.8L1359.0,683.5L1359.2,683.3L1359.3,683.0L1359.5,682.7L1359.7,682.5L1359.8,682.2L1360.0,682.0L1360.2,681.7L1360.3,681.5L1360.5,681.3L1360.7,681.1L1360.8,680.9L1361.0,680.7L1361.2,680.5L1361.3,680.3L1361.5,680.2L1361.7,680.0L1361.8,679.9L1362.0,679.8L1362.2,679.6L1362.3,679.5L1362.5,679.4L1362.7,679.3L1362.8,679.3L1363.0,679.2L1363.2,679.1L1363.3,679.1L1363.5,679.0L1363.7,679.0L1363.8,679.0L1364.0,679.0L1364.3,679.7L1364.7,681.1L1365.0,682.8L1365.3,684.9L1365.7,687.2M704.9,687.2L705.3,684.9L705.6,682.8L705.9,681.1L706.3,679.7L706.6,679.0L706.8,679.0L706.9,679.0L707.1,679.0L707.3,679.1L707.4,679.1L707.6,679.2L707.8,679.3L707.9,679.3L708.1,679.4L708.3,679.5L708.4,679.6L708.6,679.8L708.8,679.9L708.9,680.0L709.1,680.2L709.3,680.3L709.4,680.5L709.6,680.7L709.8,680.9L709.9,681.1L710.1,681.3L710.3,681.5L710.4,681.7L710.6,682.0L710.8,682.2L710.9,682.5L711.1,682.7L711.3,683.0L711.4,683.3L711.6,683.5L711.8,683.8L711.9,684.1L712.1,684.4M1387.3,673.6L1387.7,667.4L1388.0,664.0L1388.3,664.5L1388.7,665.4L1389.0,666.6L1389.3,668.0L1389.7,669.5L1390.0,671.3L1390.3,673.2M680.3,673.2L680.6,671.3L680.9,669.5L681.3,668.0L681.6,666.6L681.9,665.4L682.3,664.5L682.6,664.0L682.9,667.4L683.3,673.6M1427.0,724.9L1427.3,722.5L1427.6,720.3L1428.0,718.5L1428.3,716.9L1428.7,715.7L1429.0,715.0L1429.3,716.0L1429.7,717.8L1430.0,720.1L1430.3,722.9M640.3,722.9L640.6,720.1L640.9,717.8L641.3,716.0L641.6,715.0L641.9,715.7L642.3,716.9L642.6,718.5L643.0,720.3L643.3,722.5L643.6,724.9M1472.6,785.8L1473.0,782.3L1473.3,779.4L1473.7,777.2L1474.0,776.0L1474.3,776.7L1474.7,778.0L1475.0,779.7L1475.4,781.6L1475.7,783.7L1476.0,785.9M594.6,785.9L594.9,783.7L595.2,781.6L595.6,779.7L595.9,778.0L596.3,776.7L596.6,776.0L596.9,777.2L597.3,779.4L597.6,782.3L598.0,785.8M1495.5,677.2L1495.8,675.0L1496.2,673.0L1496.5,671.2L1496.8,669.8L1497.2,668.6L1497.5,668.0L1497.8,673.9L1498.2,684.8M572.4,684.8L572.8,673.9L573.1,668.0L573.4,668.6L573.8,669.8L574.1,671.2L574.4,673.0L574.8,675.0L575.1,677.2M1511.7,830.8L1512.0,827.7L1512.3,825.1L1512.7,823.1L1513.0,822.0L1513.3,823.1L1513.7,825.1L1514.0,827.6L1514.3,830.7M556.3,830.7L556.6,827.6L556.9,825.1L557.3,823.1L557.6,822.0L557.9,823.1L558.3,825.1L558.6,827.7L558.9,830.8M1528.3,710.1L1528.7,701.6L1529.0,697.0L1529.3,698.4L1529.7,700.9L1530.0,704.2L1530.3,708.1M540.3,708.1L540.6,704.2L540.9,700.9L541.3,698.4L541.6,697.0L541.9,701.6L542.3,710.1M1584.2,718.7L1584.3,714.9L1584.5,712.0L1584.7,709.8L1584.8,708.5L1585.0,708.0L1585.3,709.1L1585.7,711.1L1586.0,713.8L1586.3,716.9M484.2,716.9L484.6,713.8L484.9,711.1L485.3,709.1L485.6,708.0L485.8,708.5L485.9,709.8L486.1,712.0L486.3,714.9L486.4,718.7M1607.5,731.8L1607.8,727.8L1608.2,724.7L1608.5,723.0L1608.8,724.5L1609.2,727.4L1609.5,731.1M461.1,731.1L461.4,727.4L461.8,724.5L462.1,723.0L462.4,724.7L462.8,727.8L463.1,731.8M1660.7,669.7L1661.0,668.3L1661.3,667.0L1661.7,665.8L1662.0,664.7L1662.3,663.6L1662.7,662.7L1663.0,662.0L1663.3,663.5L1663.7,666.3L1664.0,670.0M406.6,670.0L406.9,666.3L407.3,663.5L407.6,662.0L407.9,662.7L408.3,663.6L408.6,664.7L408.9,665.8L409.3,667.0L409.6,668.3L409.9,669.7M1683.0,689.2L1683.3,685.0L1683.7,681.8L1684.0,680.0L1684.3,680.7L1684.7,682.1L1685.0,683.8L1685.3,685.9L1685.7,688.3M384.9,688.3L385.3,685.9L385.6,683.8L385.9,682.1L386.3,680.7L386.6,680.0L386.9,681.8L387.3,685.0L387.6,689.2M1722.5,650.9L1722.8,649.0L1723.2,647.3L1723.5,645.8L1723.8,644.5L1724.2,643.5L1724.5,643.0L1724.8,645.0L1725.2,648.8L1725.5,653.6M345.1,653.6L345.4,648.8L345.8,645.0L346.1,643.0L346.4,643.5L346.8,644.5L347.1,645.8L347.4,647.3L347.8,649.0L348.1,650.9M1742.0,657.0L1742.3,653.3L1742.7,650.5L1743.0,649.0L1743.3,649.6L1743.7,650.5L1744.0,651.6L1744.3,652.8L1744.7,654.2L1745.0,655.7L1745.4,657.3M325.2,657.3L325.6,655.7L325.9,654.2L326.3,652.8L326.6,651.6L326.9,650.5L327.3,649.6L327.6,649.0L327.9,650.5L328.3,653.3L328.6,657.0" stroke="#ff0000" stroke-width="10"/>
</g>
<line x1="143.8" y1="49.0" x2="143.8" y2="1452.5" stroke="#555" stroke-width="3.6"/>
<line x1="1926.4" y1="53.0" x2="1926.4" y2="1452.5" stroke="#666" stroke-width="3.8"/>
<line x1="141.8" y1="1451.0" x2="1928.4" y2="1451.0" stroke="#383838" stroke-width="4"/>
<g stroke="#444" stroke-width="3.6">
<line x1="243.0" y1="1451.0" x2="243.0" y2="1432.0"/>
<line x1="440.6" y1="1451.0" x2="440.6" y2="1432.0"/>
<line x1="638.6" y1="1451.0" x2="638.6" y2="1432.0"/>
<line x1="836.8" y1="1451.0" x2="836.8" y2="1432.0"/>
<line x1="1035.6" y1="1451.0" x2="1035.6" y2="1432.0"/>
<line x1="1233.8" y1="1451.0" x2="1233.8" y2="1432.0"/>
<line x1="1432.0" y1="1451.0" x2="1432.0" y2="1432.0"/>
<line x1="1629.6" y1="1451.0" x2="1629.6" y2="1432.0"/>
<line x1="1828.0" y1="1451.0" x2="1828.0" y2="1432.0"/>
<line x1="143.8" y1="334.3" x2="162.8" y2="334.3"/>
<line x1="1926.4" y1="334.3" x2="1907.4" y2="334.3"/>
<line x1="143.8" y1="613.6" x2="162.8" y2="613.6"/>
<line x1="1926.4" y1="613.6" x2="1907.4" y2="613.6"/>
<line x1="143.8" y1="892.7" x2="162.8" y2="892.7"/>
<line x1="1926.4" y1="892.7" x2="1907.4" y2="892.7"/>
<line x1="143.8" y1="1172.2" x2="162.8" y2="1172.2"/>
<line x1="1926.4" y1="1172.2" x2="1907.4" y2="1172.2"/>
</g>
</g>
<line x1="142" y1="47.5" x2="1154" y2="54.3" stroke="#9a9a9a" stroke-width="4.6"/>
<g stroke="#8a8a8a" stroke-width="3.6">
<line x1="240.8" y1="48.2" x2="240.8" y2="63.2"/>
<line x1="438.4" y1="49.5" x2="438.4" y2="64.5"/>
<line x1="636.4" y1="50.8" x2="636.4" y2="65.8"/>
<line x1="834.6" y1="52.2" x2="834.6" y2="67.2"/>
<line x1="1033.4" y1="53.5" x2="1033.4" y2="68.5"/>
</g>
<line x1="997" y1="53.3" x2="1069" y2="53.3" stroke="#c03030" stroke-width="4"/>
<rect x="1028" y="55" width="15" height="14" fill="#c03030"/>
<rect x="1154" y="49" width="771" height="149" fill="#fff"/>
<line x1="1152" y1="198.2" x2="1926" y2="198.2" stroke="#666" stroke-width="8.6"/>
<line x1="1154" y1="53" x2="1154" y2="200" stroke="#666" stroke-width="3.6"/>
<line x1="1142" y1="55" x2="1212" y2="55" stroke="#777" stroke-width="3.4"/>
<line x1="1212" y1="53.3" x2="1356" y2="53.3" stroke="#aaa" stroke-width="5"/>
<line x1="1356" y1="56" x2="1716" y2="56" stroke="#808080" stroke-width="3.6"/>
<line x1="1716" y1="52.2" x2="1858" y2="52.2" stroke="#8a8a8a" stroke-width="3.6"/>
<line x1="1858" y1="60" x2="1926" y2="60" stroke="#6e6e6e" stroke-width="3.6"/>
<line x1="1925.2" y1="50" x2="1925.2" y2="203" stroke="#666" stroke-width="4.4"/>
<line x1="1170" y1="93" x2="1334" y2="93" stroke="#0000ff" stroke-width="10"/>
<line x1="1170" y1="156" x2="1335" y2="156" stroke="#ff0000" stroke-width="9.5" stroke-dasharray="32.5 33"/>
<g font-family="'Liberation Sans', sans-serif" font-size="50" fill="#1a1a1a" stroke="#1a1a1a" stroke-width="0.9" stroke-linejoin="round">
<text x="1346.5" y="112" textLength="457" lengthAdjust="spacingAndGlyphs">Original sparse array</text>
<text x="1346.5" y="176.5" textLength="560.5" lengthAdjust="spacingAndGlyphs">Add Gaussian distribution</text>
</g>
<g font-family="'Liberation Sans', sans-serif" font-size="54" fill="#333" stroke="#333" stroke-width="0.7" stroke-linejoin="round">
<text x="237" y="1530.6" text-anchor="middle">−80</text>
<text x="433.5" y="1530.2" text-anchor="middle">−60</text>
<text x="632.5" y="1529.7" text-anchor="middle">−40</text>
<text x="831" y="1529.3" text-anchor="middle">−20</text>
<text x="1035" y="1528.9" text-anchor="middle">0</text>
<text x="1233" y="1528.5" text-anchor="middle">20</text>
<text x="1431" y="1528.1" text-anchor="middle">40</text>
<text x="1629" y="1527.7" text-anchor="middle">60</text>
<text x="1828" y="1527.2" text-anchor="middle">80</text>
<text x="120" y="67.1" text-anchor="end">0</text>
<text x="120" y="354.6" text-anchor="end">−10</text>
<text x="120" y="636.3" text-anchor="end">−20</text>
<text x="120" y="913.5999999999999" text-anchor="end">−30</text>
<text x="120" y="1193.7" text-anchor="end">−40</text>
<text x="120" y="1473.8" text-anchor="end">−50</text>
</g>
</svg>
</body></html>
